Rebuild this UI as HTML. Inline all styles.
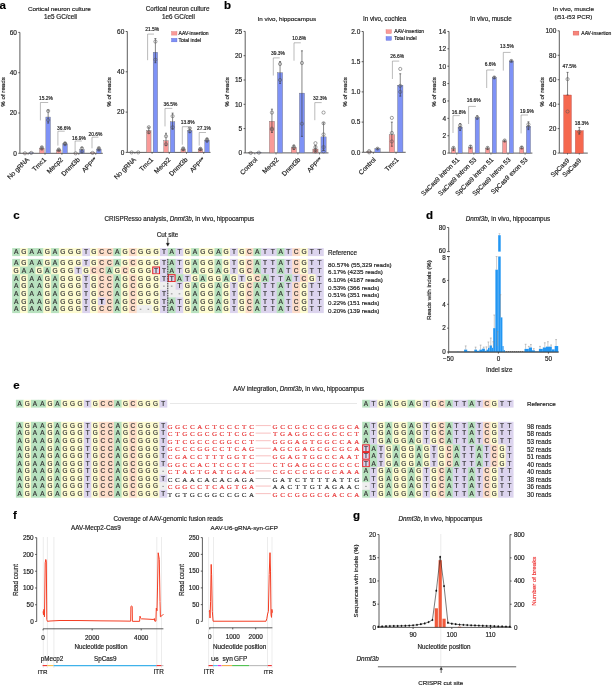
<!DOCTYPE html>
<html><head><meta charset="utf-8"><style>
html,body{margin:0;padding:0;background:#fff;}
body{width:612px;height:685px;overflow:hidden;}
svg{display:block;will-change:transform;font-family:"Liberation Sans", sans-serif;}
</style></head><body>
<svg width="612" height="685" viewBox="0 0 612 685" font-family='"Liberation Sans", sans-serif' fill="#222">
<text x="-0.50" y="9.00" font-size="11.50" fill="#000" font-weight="bold" stroke="#000" stroke-width="0.18">a</text>
<line x1="19.90" y1="32.40" x2="19.90" y2="153.30" stroke="#333" stroke-width="0.8"/>
<line x1="18.30" y1="153.30" x2="19.90" y2="153.30" stroke="#333" stroke-width="0.8"/>
<text x="16.90" y="155.64" font-size="6.50" text-anchor="end" stroke="#222" stroke-width="0.18">0</text>
<line x1="18.30" y1="113.00" x2="19.90" y2="113.00" stroke="#333" stroke-width="0.8"/>
<text x="16.90" y="115.34" font-size="6.50" text-anchor="end" stroke="#222" stroke-width="0.18">20</text>
<line x1="18.30" y1="72.70" x2="19.90" y2="72.70" stroke="#333" stroke-width="0.8"/>
<text x="16.90" y="75.04" font-size="6.50" text-anchor="end" stroke="#222" stroke-width="0.18">40</text>
<line x1="18.30" y1="32.40" x2="19.90" y2="32.40" stroke="#333" stroke-width="0.8"/>
<text x="16.90" y="34.74" font-size="6.50" text-anchor="end" stroke="#222" stroke-width="0.18">60</text>
<line x1="19.90" y1="153.30" x2="102.80" y2="153.30" stroke="#333" stroke-width="0.8"/>
<rect x="22.65" y="153.10" width="4.60" height="0.20" fill="#fa9a98" stroke="#666" stroke-width="0.35"/>
<circle cx="24.95" cy="153.30" r="1.60" fill="none" stroke="#555" stroke-width="0.55"/>
<rect x="28.95" y="152.70" width="4.60" height="0.60" fill="#7e92f6" stroke="#666" stroke-width="0.35"/>
<circle cx="31.25" cy="152.90" r="1.60" fill="none" stroke="#555" stroke-width="0.55"/>
<line x1="28.10" y1="153.30" x2="28.10" y2="154.80" stroke="#333" stroke-width="0.6"/>
<text x="29.60" y="160.10" font-size="6.60" text-anchor="end" transform="rotate(-45 29.60 160.10)" stroke="#222" stroke-width="0.18">No gRNA</text>
<rect x="39.55" y="148.26" width="4.60" height="5.04" fill="#fa9a98" stroke="#666" stroke-width="0.35"/>
<line x1="41.85" y1="149.27" x2="41.85" y2="146.85" stroke="#333" stroke-width="0.6"/>
<line x1="40.85" y1="146.85" x2="42.85" y2="146.85" stroke="#333" stroke-width="0.6"/>
<line x1="40.85" y1="149.27" x2="42.85" y2="149.27" stroke="#333" stroke-width="0.6"/>
<circle cx="41.85" cy="148.67" r="1.60" fill="none" stroke="#555" stroke-width="0.55"/>
<circle cx="41.85" cy="147.26" r="1.60" fill="none" stroke="#555" stroke-width="0.55"/>
<rect x="45.85" y="117.03" width="4.60" height="36.27" fill="#7e92f6" stroke="#666" stroke-width="0.35"/>
<line x1="48.15" y1="123.08" x2="48.15" y2="109.98" stroke="#333" stroke-width="0.6"/>
<line x1="47.15" y1="109.98" x2="49.15" y2="109.98" stroke="#333" stroke-width="0.6"/>
<line x1="47.15" y1="123.08" x2="49.15" y2="123.08" stroke="#333" stroke-width="0.6"/>
<circle cx="48.15" cy="120.05" r="1.60" fill="none" stroke="#555" stroke-width="0.55"/>
<circle cx="48.15" cy="110.99" r="1.60" fill="none" stroke="#555" stroke-width="0.55"/>
<line x1="45.00" y1="153.30" x2="45.00" y2="154.80" stroke="#333" stroke-width="0.6"/>
<text x="46.50" y="160.10" font-size="6.60" text-anchor="end" transform="rotate(-45 46.50 160.10)" stroke="#222" stroke-width="0.18">Tmc1</text>
<rect x="56.45" y="150.08" width="4.60" height="3.22" fill="#fa9a98" stroke="#666" stroke-width="0.35"/>
<line x1="58.75" y1="150.88" x2="58.75" y2="149.27" stroke="#333" stroke-width="0.6"/>
<line x1="57.75" y1="149.27" x2="59.75" y2="149.27" stroke="#333" stroke-width="0.6"/>
<line x1="57.75" y1="150.88" x2="59.75" y2="150.88" stroke="#333" stroke-width="0.6"/>
<circle cx="58.75" cy="150.28" r="1.60" fill="none" stroke="#555" stroke-width="0.55"/>
<circle cx="58.75" cy="149.47" r="1.60" fill="none" stroke="#555" stroke-width="0.55"/>
<rect x="62.75" y="143.83" width="4.60" height="9.47" fill="#7e92f6" stroke="#666" stroke-width="0.35"/>
<line x1="65.05" y1="144.84" x2="65.05" y2="142.62" stroke="#333" stroke-width="0.6"/>
<line x1="64.05" y1="142.62" x2="66.05" y2="142.62" stroke="#333" stroke-width="0.6"/>
<line x1="64.05" y1="144.84" x2="66.05" y2="144.84" stroke="#333" stroke-width="0.6"/>
<circle cx="65.05" cy="144.23" r="1.60" fill="none" stroke="#555" stroke-width="0.55"/>
<circle cx="65.05" cy="143.23" r="1.60" fill="none" stroke="#555" stroke-width="0.55"/>
<line x1="61.90" y1="153.30" x2="61.90" y2="154.80" stroke="#333" stroke-width="0.6"/>
<text x="63.40" y="160.10" font-size="6.60" text-anchor="end" transform="rotate(-45 63.40 160.10)" stroke="#222" stroke-width="0.18">Mecp2</text>
<rect x="73.35" y="153.10" width="4.60" height="0.20" fill="#fa9a98" stroke="#666" stroke-width="0.35"/>
<circle cx="75.65" cy="153.30" r="1.60" fill="none" stroke="#555" stroke-width="0.55"/>
<rect x="79.65" y="149.67" width="4.60" height="3.63" fill="#7e92f6" stroke="#666" stroke-width="0.35"/>
<line x1="81.95" y1="152.29" x2="81.95" y2="147.26" stroke="#333" stroke-width="0.6"/>
<line x1="80.95" y1="147.26" x2="82.95" y2="147.26" stroke="#333" stroke-width="0.6"/>
<line x1="80.95" y1="152.29" x2="82.95" y2="152.29" stroke="#333" stroke-width="0.6"/>
<circle cx="81.95" cy="151.69" r="1.60" fill="none" stroke="#555" stroke-width="0.55"/>
<circle cx="81.95" cy="148.26" r="1.60" fill="none" stroke="#555" stroke-width="0.55"/>
<line x1="78.80" y1="153.30" x2="78.80" y2="154.80" stroke="#333" stroke-width="0.6"/>
<text x="80.30" y="160.10" font-size="6.60" text-anchor="end" transform="rotate(-45 80.30 160.10)" stroke="#222" stroke-width="0.18">Dnmt3b</text>
<rect x="90.25" y="152.70" width="4.60" height="0.60" fill="#fa9a98" stroke="#666" stroke-width="0.35"/>
<circle cx="92.55" cy="152.90" r="1.60" fill="none" stroke="#555" stroke-width="0.55"/>
<rect x="96.55" y="149.07" width="4.60" height="4.23" fill="#7e92f6" stroke="#666" stroke-width="0.35"/>
<line x1="98.85" y1="150.28" x2="98.85" y2="147.66" stroke="#333" stroke-width="0.6"/>
<line x1="97.85" y1="147.66" x2="99.85" y2="147.66" stroke="#333" stroke-width="0.6"/>
<line x1="97.85" y1="150.28" x2="99.85" y2="150.28" stroke="#333" stroke-width="0.6"/>
<circle cx="98.85" cy="149.67" r="1.60" fill="none" stroke="#555" stroke-width="0.55"/>
<circle cx="98.85" cy="148.06" r="1.60" fill="none" stroke="#555" stroke-width="0.55"/>
<line x1="95.70" y1="153.30" x2="95.70" y2="154.80" stroke="#333" stroke-width="0.6"/>
<text x="97.20" y="160.10" font-size="6.60" text-anchor="end" transform="rotate(-45 97.20 160.10)" stroke="#222" stroke-width="0.18">APP<tspan font-size="3.96" dy="-2.31">sw</tspan></text>
<text x="27.90" y="11.25" font-size="6.25" stroke="#222" stroke-width="0.18">Cortical neuron culture</text>
<text x="44.00" y="19.27" font-size="6.32" stroke="#222" stroke-width="0.18">1e5 GC/cell</text>
<text x="5.30" y="92.00" font-size="6.20" text-anchor="middle" transform="rotate(-90 5.30 92.00)" stroke="#222" stroke-width="0.18">% of reads</text>
<path d="M40.40,120.40 L40.40,102.50 L48.20,102.50" stroke="#777" stroke-width="0.5" fill="none"/>
<text x="46.00" y="99.76" font-size="4.90" text-anchor="middle" stroke="#222" stroke-width="0.18">15.2%</text>
<path d="M57.90,145.60 L57.90,131.20 L64.70,131.20" stroke="#777" stroke-width="0.5" fill="none"/>
<text x="64.00" y="129.96" font-size="4.90" text-anchor="middle" stroke="#222" stroke-width="0.18">36.6%</text>
<path d="M75.10,152.00 L75.10,141.00 L81.80,141.00" stroke="#777" stroke-width="0.5" fill="none"/>
<text x="79.00" y="139.76" font-size="4.90" text-anchor="middle" stroke="#222" stroke-width="0.18">16.9%</text>
<path d="M92.00,148.30 L92.00,137.20 L98.50,137.20" stroke="#777" stroke-width="0.5" fill="none"/>
<text x="95.50" y="135.76" font-size="4.90" text-anchor="middle" stroke="#222" stroke-width="0.18">20.6%</text>
<line x1="127.30" y1="31.50" x2="127.30" y2="152.40" stroke="#333" stroke-width="0.8"/>
<line x1="125.70" y1="152.40" x2="127.30" y2="152.40" stroke="#333" stroke-width="0.8"/>
<text x="124.30" y="154.74" font-size="6.50" text-anchor="end" stroke="#222" stroke-width="0.18">0</text>
<line x1="125.70" y1="112.10" x2="127.30" y2="112.10" stroke="#333" stroke-width="0.8"/>
<text x="124.30" y="114.44" font-size="6.50" text-anchor="end" stroke="#222" stroke-width="0.18">20</text>
<line x1="125.70" y1="71.80" x2="127.30" y2="71.80" stroke="#333" stroke-width="0.8"/>
<text x="124.30" y="74.14" font-size="6.50" text-anchor="end" stroke="#222" stroke-width="0.18">40</text>
<line x1="125.70" y1="31.50" x2="127.30" y2="31.50" stroke="#333" stroke-width="0.8"/>
<text x="124.30" y="33.84" font-size="6.50" text-anchor="end" stroke="#222" stroke-width="0.18">60</text>
<line x1="127.30" y1="152.40" x2="210.50" y2="152.40" stroke="#333" stroke-width="0.8"/>
<rect x="129.35" y="152.40" width="4.50" height="0.00" fill="#fa9a98" stroke="#666" stroke-width="0.35"/>
<circle cx="131.60" cy="152.40" r="1.60" fill="none" stroke="#555" stroke-width="0.55"/>
<rect x="135.95" y="152.40" width="4.50" height="0.00" fill="#7e92f6" stroke="#666" stroke-width="0.35"/>
<circle cx="138.20" cy="152.40" r="1.60" fill="none" stroke="#555" stroke-width="0.55"/>
<line x1="134.90" y1="152.40" x2="134.90" y2="153.90" stroke="#333" stroke-width="0.6"/>
<text x="136.40" y="160.10" font-size="6.60" text-anchor="end" transform="rotate(-45 136.40 160.10)" stroke="#222" stroke-width="0.18">No gRNA</text>
<rect x="146.55" y="130.64" width="4.50" height="21.76" fill="#fa9a98" stroke="#666" stroke-width="0.35"/>
<line x1="148.80" y1="133.26" x2="148.80" y2="127.21" stroke="#333" stroke-width="0.6"/>
<line x1="147.80" y1="127.21" x2="149.80" y2="127.21" stroke="#333" stroke-width="0.6"/>
<line x1="147.80" y1="133.26" x2="149.80" y2="133.26" stroke="#333" stroke-width="0.6"/>
<circle cx="148.80" cy="132.25" r="1.60" fill="none" stroke="#555" stroke-width="0.55"/>
<circle cx="148.80" cy="127.21" r="1.60" fill="none" stroke="#555" stroke-width="0.55"/>
<rect x="153.15" y="52.25" width="4.50" height="100.15" fill="#7e92f6" stroke="#666" stroke-width="0.35"/>
<line x1="155.40" y1="62.73" x2="155.40" y2="38.55" stroke="#333" stroke-width="0.6"/>
<line x1="154.40" y1="38.55" x2="156.40" y2="38.55" stroke="#333" stroke-width="0.6"/>
<line x1="154.40" y1="62.73" x2="156.40" y2="62.73" stroke="#333" stroke-width="0.6"/>
<circle cx="155.40" cy="59.71" r="1.60" fill="none" stroke="#555" stroke-width="0.55"/>
<circle cx="155.40" cy="41.58" r="1.60" fill="none" stroke="#555" stroke-width="0.55"/>
<line x1="152.10" y1="152.40" x2="152.10" y2="153.90" stroke="#333" stroke-width="0.6"/>
<text x="153.60" y="160.10" font-size="6.60" text-anchor="end" transform="rotate(-45 153.60 160.10)" stroke="#222" stroke-width="0.18">Tmc1</text>
<rect x="163.75" y="140.71" width="4.50" height="11.69" fill="#fa9a98" stroke="#666" stroke-width="0.35"/>
<line x1="166.00" y1="145.35" x2="166.00" y2="133.26" stroke="#333" stroke-width="0.6"/>
<line x1="165.00" y1="133.26" x2="167.00" y2="133.26" stroke="#333" stroke-width="0.6"/>
<line x1="165.00" y1="145.35" x2="167.00" y2="145.35" stroke="#333" stroke-width="0.6"/>
<circle cx="166.00" cy="144.34" r="1.60" fill="none" stroke="#555" stroke-width="0.55"/>
<circle cx="166.00" cy="136.28" r="1.60" fill="none" stroke="#555" stroke-width="0.55"/>
<rect x="170.35" y="121.77" width="4.50" height="30.63" fill="#7e92f6" stroke="#666" stroke-width="0.35"/>
<line x1="172.60" y1="129.23" x2="172.60" y2="113.11" stroke="#333" stroke-width="0.6"/>
<line x1="171.60" y1="113.11" x2="173.60" y2="113.11" stroke="#333" stroke-width="0.6"/>
<line x1="171.60" y1="129.23" x2="173.60" y2="129.23" stroke="#333" stroke-width="0.6"/>
<circle cx="172.60" cy="127.21" r="1.60" fill="none" stroke="#555" stroke-width="0.55"/>
<circle cx="172.60" cy="116.13" r="1.60" fill="none" stroke="#555" stroke-width="0.55"/>
<line x1="169.30" y1="152.40" x2="169.30" y2="153.90" stroke="#333" stroke-width="0.6"/>
<text x="170.80" y="160.10" font-size="6.60" text-anchor="end" transform="rotate(-45 170.80 160.10)" stroke="#222" stroke-width="0.18">Mecp2</text>
<rect x="180.95" y="149.18" width="4.50" height="3.22" fill="#fa9a98" stroke="#666" stroke-width="0.35"/>
<line x1="183.20" y1="150.39" x2="183.20" y2="147.97" stroke="#333" stroke-width="0.6"/>
<line x1="182.20" y1="147.97" x2="184.20" y2="147.97" stroke="#333" stroke-width="0.6"/>
<line x1="182.20" y1="150.39" x2="184.20" y2="150.39" stroke="#333" stroke-width="0.6"/>
<circle cx="183.20" cy="149.38" r="1.60" fill="none" stroke="#555" stroke-width="0.55"/>
<circle cx="183.20" cy="148.37" r="1.60" fill="none" stroke="#555" stroke-width="0.55"/>
<rect x="187.55" y="130.64" width="4.50" height="21.76" fill="#7e92f6" stroke="#666" stroke-width="0.35"/>
<line x1="189.80" y1="132.65" x2="189.80" y2="127.82" stroke="#333" stroke-width="0.6"/>
<line x1="188.80" y1="127.82" x2="190.80" y2="127.82" stroke="#333" stroke-width="0.6"/>
<line x1="188.80" y1="132.65" x2="190.80" y2="132.65" stroke="#333" stroke-width="0.6"/>
<circle cx="189.80" cy="131.24" r="1.60" fill="none" stroke="#555" stroke-width="0.55"/>
<circle cx="189.80" cy="128.22" r="1.60" fill="none" stroke="#555" stroke-width="0.55"/>
<line x1="186.50" y1="152.40" x2="186.50" y2="153.90" stroke="#333" stroke-width="0.6"/>
<text x="188.00" y="160.10" font-size="6.60" text-anchor="end" transform="rotate(-45 188.00 160.10)" stroke="#222" stroke-width="0.18">Dnmt3b</text>
<rect x="198.15" y="149.38" width="4.50" height="3.02" fill="#fa9a98" stroke="#666" stroke-width="0.35"/>
<line x1="200.40" y1="150.39" x2="200.40" y2="148.37" stroke="#333" stroke-width="0.6"/>
<line x1="199.40" y1="148.37" x2="201.40" y2="148.37" stroke="#333" stroke-width="0.6"/>
<line x1="199.40" y1="150.39" x2="201.40" y2="150.39" stroke="#333" stroke-width="0.6"/>
<circle cx="200.40" cy="149.38" r="1.60" fill="none" stroke="#555" stroke-width="0.55"/>
<circle cx="200.40" cy="148.77" r="1.60" fill="none" stroke="#555" stroke-width="0.55"/>
<rect x="204.75" y="140.11" width="4.50" height="12.29" fill="#7e92f6" stroke="#666" stroke-width="0.35"/>
<line x1="207.00" y1="141.92" x2="207.00" y2="138.30" stroke="#333" stroke-width="0.6"/>
<line x1="206.00" y1="138.30" x2="208.00" y2="138.30" stroke="#333" stroke-width="0.6"/>
<line x1="206.00" y1="141.92" x2="208.00" y2="141.92" stroke="#333" stroke-width="0.6"/>
<circle cx="207.00" cy="140.71" r="1.60" fill="none" stroke="#555" stroke-width="0.55"/>
<circle cx="207.00" cy="139.30" r="1.60" fill="none" stroke="#555" stroke-width="0.55"/>
<line x1="203.70" y1="152.40" x2="203.70" y2="153.90" stroke="#333" stroke-width="0.6"/>
<text x="205.20" y="160.10" font-size="6.60" text-anchor="end" transform="rotate(-45 205.20 160.10)" stroke="#222" stroke-width="0.18">APP<tspan font-size="3.96" dy="-2.31">sw</tspan></text>
<text x="145.80" y="11.28" font-size="6.34" stroke="#222" stroke-width="0.18">Cortical neuron culture</text>
<text x="162.00" y="19.27" font-size="6.30" stroke="#222" stroke-width="0.18">1e6 GC/cell</text>
<text x="110.50" y="92.00" font-size="6.20" text-anchor="middle" transform="rotate(-90 110.50 92.00)" stroke="#222" stroke-width="0.18">% of reads</text>
<path d="M147.60,60.20 L147.60,34.10 L154.00,34.10" stroke="#777" stroke-width="0.5" fill="none"/>
<text x="152.20" y="31.06" font-size="4.90" text-anchor="middle" stroke="#222" stroke-width="0.18">21.5%</text>
<path d="M165.00,126.40 L165.00,108.40 L172.30,108.40" stroke="#777" stroke-width="0.5" fill="none"/>
<text x="170.50" y="105.66" font-size="4.90" text-anchor="middle" stroke="#222" stroke-width="0.18">36.5%</text>
<path d="M182.30,144.70 L182.30,126.70 L189.00,126.70" stroke="#777" stroke-width="0.5" fill="none"/>
<text x="187.70" y="123.96" font-size="4.90" text-anchor="middle" stroke="#222" stroke-width="0.18">13.8%</text>
<path d="M199.20,145.60 L199.20,132.50 L206.00,132.50" stroke="#777" stroke-width="0.5" fill="none"/>
<text x="204.00" y="129.96" font-size="4.90" text-anchor="middle" stroke="#222" stroke-width="0.18">27.1%</text>
<rect x="171.50" y="31.50" width="5.50" height="3.60" fill="#fa9a98" stroke="#c66" stroke-width="0.3"/>
<rect x="171.50" y="38.30" width="5.50" height="3.60" fill="#7e92f6" stroke="#55c" stroke-width="0.3"/>
<text x="178.60" y="35.10" font-size="5.00" stroke="#222" stroke-width="0.18">AAV-insertion</text>
<text x="178.60" y="41.90" font-size="5.00" stroke="#222" stroke-width="0.18">Total indel</text>
<text x="223.90" y="8.80" font-size="11.50" fill="#000" font-weight="bold" stroke="#000" stroke-width="0.18">b</text>
<line x1="245.20" y1="31.40" x2="245.20" y2="152.90" stroke="#333" stroke-width="0.8"/>
<line x1="243.60" y1="152.90" x2="245.20" y2="152.90" stroke="#333" stroke-width="0.8"/>
<text x="242.20" y="155.24" font-size="6.50" text-anchor="end" stroke="#222" stroke-width="0.18">0</text>
<line x1="243.60" y1="128.60" x2="245.20" y2="128.60" stroke="#333" stroke-width="0.8"/>
<text x="242.20" y="130.94" font-size="6.50" text-anchor="end" stroke="#222" stroke-width="0.18">5</text>
<line x1="243.60" y1="104.30" x2="245.20" y2="104.30" stroke="#333" stroke-width="0.8"/>
<text x="242.20" y="106.64" font-size="6.50" text-anchor="end" stroke="#222" stroke-width="0.18">10</text>
<line x1="243.60" y1="80.00" x2="245.20" y2="80.00" stroke="#333" stroke-width="0.8"/>
<text x="242.20" y="82.34" font-size="6.50" text-anchor="end" stroke="#222" stroke-width="0.18">15</text>
<line x1="243.60" y1="55.70" x2="245.20" y2="55.70" stroke="#333" stroke-width="0.8"/>
<text x="242.20" y="58.04" font-size="6.50" text-anchor="end" stroke="#222" stroke-width="0.18">20</text>
<line x1="243.60" y1="31.40" x2="245.20" y2="31.40" stroke="#333" stroke-width="0.8"/>
<text x="242.20" y="33.74" font-size="6.50" text-anchor="end" stroke="#222" stroke-width="0.18">25</text>
<line x1="245.20" y1="152.90" x2="328.50" y2="152.90" stroke="#333" stroke-width="0.8"/>
<rect x="248.15" y="152.66" width="5.20" height="0.24" fill="#fa9a98" stroke="#666" stroke-width="0.35"/>
<circle cx="250.75" cy="152.90" r="1.60" fill="none" stroke="#555" stroke-width="0.55"/>
<rect x="256.25" y="152.41" width="5.20" height="0.49" fill="#7e92f6" stroke="#666" stroke-width="0.35"/>
<circle cx="258.85" cy="152.66" r="1.60" fill="none" stroke="#555" stroke-width="0.55"/>
<line x1="254.80" y1="152.90" x2="254.80" y2="154.40" stroke="#333" stroke-width="0.6"/>
<text x="257.80" y="160.10" font-size="6.60" text-anchor="end" transform="rotate(-45 257.80 160.10)" stroke="#222" stroke-width="0.18">Control</text>
<rect x="269.35" y="121.31" width="5.20" height="31.59" fill="#fa9a98" stroke="#666" stroke-width="0.35"/>
<line x1="271.95" y1="132.49" x2="271.95" y2="109.16" stroke="#333" stroke-width="0.6"/>
<line x1="270.95" y1="109.16" x2="272.95" y2="109.16" stroke="#333" stroke-width="0.6"/>
<line x1="270.95" y1="132.49" x2="272.95" y2="132.49" stroke="#333" stroke-width="0.6"/>
<circle cx="271.95" cy="128.60" r="1.60" fill="none" stroke="#555" stroke-width="0.55"/>
<circle cx="271.95" cy="112.56" r="1.60" fill="none" stroke="#555" stroke-width="0.55"/>
<circle cx="271.95" cy="129.57" r="1.60" fill="none" stroke="#555" stroke-width="0.55"/>
<rect x="277.45" y="72.71" width="5.20" height="80.19" fill="#7e92f6" stroke="#666" stroke-width="0.35"/>
<line x1="280.05" y1="83.40" x2="280.05" y2="61.53" stroke="#333" stroke-width="0.6"/>
<line x1="279.05" y1="61.53" x2="281.05" y2="61.53" stroke="#333" stroke-width="0.6"/>
<line x1="279.05" y1="83.40" x2="281.05" y2="83.40" stroke="#333" stroke-width="0.6"/>
<circle cx="280.05" cy="80.00" r="1.60" fill="none" stroke="#555" stroke-width="0.55"/>
<circle cx="280.05" cy="63.96" r="1.60" fill="none" stroke="#555" stroke-width="0.55"/>
<line x1="276.00" y1="152.90" x2="276.00" y2="154.40" stroke="#333" stroke-width="0.6"/>
<text x="279.00" y="160.10" font-size="6.60" text-anchor="end" transform="rotate(-45 279.00 160.10)" stroke="#222" stroke-width="0.18">Mecp2</text>
<rect x="291.25" y="147.55" width="5.20" height="5.35" fill="#fa9a98" stroke="#666" stroke-width="0.35"/>
<line x1="293.85" y1="149.50" x2="293.85" y2="145.12" stroke="#333" stroke-width="0.6"/>
<line x1="292.85" y1="145.12" x2="294.85" y2="145.12" stroke="#333" stroke-width="0.6"/>
<line x1="292.85" y1="149.50" x2="294.85" y2="149.50" stroke="#333" stroke-width="0.6"/>
<circle cx="293.85" cy="148.04" r="1.60" fill="none" stroke="#555" stroke-width="0.55"/>
<circle cx="293.85" cy="146.58" r="1.60" fill="none" stroke="#555" stroke-width="0.55"/>
<rect x="299.35" y="93.12" width="5.20" height="59.78" fill="#7e92f6" stroke="#666" stroke-width="0.35"/>
<line x1="301.95" y1="136.38" x2="301.95" y2="50.84" stroke="#333" stroke-width="0.6"/>
<line x1="300.95" y1="50.84" x2="302.95" y2="50.84" stroke="#333" stroke-width="0.6"/>
<line x1="300.95" y1="136.38" x2="302.95" y2="136.38" stroke="#333" stroke-width="0.6"/>
<circle cx="301.95" cy="123.74" r="1.60" fill="none" stroke="#555" stroke-width="0.55"/>
<circle cx="301.95" cy="62.99" r="1.60" fill="none" stroke="#555" stroke-width="0.55"/>
<line x1="297.90" y1="152.90" x2="297.90" y2="154.40" stroke="#333" stroke-width="0.6"/>
<text x="300.90" y="160.10" font-size="6.60" text-anchor="end" transform="rotate(-45 300.90 160.10)" stroke="#222" stroke-width="0.18">Dnmt3b</text>
<rect x="312.85" y="149.01" width="5.20" height="3.89" fill="#fa9a98" stroke="#666" stroke-width="0.35"/>
<line x1="315.45" y1="151.93" x2="315.45" y2="145.61" stroke="#333" stroke-width="0.6"/>
<line x1="314.45" y1="145.61" x2="316.45" y2="145.61" stroke="#333" stroke-width="0.6"/>
<line x1="314.45" y1="151.93" x2="316.45" y2="151.93" stroke="#333" stroke-width="0.6"/>
<circle cx="315.45" cy="151.44" r="1.60" fill="none" stroke="#555" stroke-width="0.55"/>
<circle cx="315.45" cy="147.07" r="1.60" fill="none" stroke="#555" stroke-width="0.55"/>
<circle cx="315.45" cy="143.18" r="1.60" fill="none" stroke="#555" stroke-width="0.55"/>
<circle cx="315.45" cy="149.98" r="1.60" fill="none" stroke="#555" stroke-width="0.55"/>
<rect x="320.95" y="136.86" width="5.20" height="16.04" fill="#7e92f6" stroke="#666" stroke-width="0.35"/>
<line x1="323.55" y1="150.47" x2="323.55" y2="122.77" stroke="#333" stroke-width="0.6"/>
<line x1="322.55" y1="122.77" x2="324.55" y2="122.77" stroke="#333" stroke-width="0.6"/>
<line x1="322.55" y1="150.47" x2="324.55" y2="150.47" stroke="#333" stroke-width="0.6"/>
<circle cx="323.55" cy="112.56" r="1.60" fill="none" stroke="#555" stroke-width="0.55"/>
<circle cx="323.55" cy="123.25" r="1.60" fill="none" stroke="#555" stroke-width="0.55"/>
<circle cx="323.55" cy="134.43" r="1.60" fill="none" stroke="#555" stroke-width="0.55"/>
<circle cx="323.55" cy="147.07" r="1.60" fill="none" stroke="#555" stroke-width="0.55"/>
<circle cx="323.55" cy="151.44" r="1.60" fill="none" stroke="#555" stroke-width="0.55"/>
<line x1="319.50" y1="152.90" x2="319.50" y2="154.40" stroke="#333" stroke-width="0.6"/>
<text x="322.50" y="160.10" font-size="6.60" text-anchor="end" transform="rotate(-45 322.50 160.10)" stroke="#222" stroke-width="0.18">APP<tspan font-size="3.96" dy="-2.31">sw</tspan></text>
<text x="257.60" y="21.14" font-size="6.22" stroke="#222" stroke-width="0.18">In vivo, hippocampus</text>
<text x="228.80" y="92.00" font-size="6.20" text-anchor="middle" transform="rotate(-90 228.80 92.00)" stroke="#222" stroke-width="0.18">% of reads</text>
<path d="M273.30,75.50 L273.30,57.90 L279.70,57.90" stroke="#777" stroke-width="0.5" fill="none"/>
<text x="278.00" y="55.36" font-size="4.90" text-anchor="middle" stroke="#222" stroke-width="0.18">39.3%</text>
<path d="M294.00,60.70 L294.00,42.80 L300.80,42.80" stroke="#777" stroke-width="0.5" fill="none"/>
<text x="299.20" y="40.06" font-size="4.90" text-anchor="middle" stroke="#222" stroke-width="0.18">10.8%</text>
<path d="M314.80,120.20 L314.80,102.60 L321.70,102.60" stroke="#777" stroke-width="0.5" fill="none"/>
<text x="320.00" y="99.86" font-size="4.90" text-anchor="middle" stroke="#222" stroke-width="0.18">32.3%</text>
<line x1="363.30" y1="31.50" x2="363.30" y2="152.30" stroke="#333" stroke-width="0.8"/>
<line x1="361.70" y1="152.30" x2="363.30" y2="152.30" stroke="#333" stroke-width="0.8"/>
<text x="360.30" y="154.64" font-size="6.50" text-anchor="end" stroke="#222" stroke-width="0.18">0.0</text>
<line x1="361.70" y1="122.10" x2="363.30" y2="122.10" stroke="#333" stroke-width="0.8"/>
<text x="360.30" y="124.44" font-size="6.50" text-anchor="end" stroke="#222" stroke-width="0.18">0.5</text>
<line x1="361.70" y1="91.90" x2="363.30" y2="91.90" stroke="#333" stroke-width="0.8"/>
<text x="360.30" y="94.24" font-size="6.50" text-anchor="end" stroke="#222" stroke-width="0.18">1.0</text>
<line x1="361.70" y1="61.70" x2="363.30" y2="61.70" stroke="#333" stroke-width="0.8"/>
<text x="360.30" y="64.04" font-size="6.50" text-anchor="end" stroke="#222" stroke-width="0.18">1.5</text>
<line x1="361.70" y1="31.50" x2="363.30" y2="31.50" stroke="#333" stroke-width="0.8"/>
<text x="360.30" y="33.84" font-size="6.50" text-anchor="end" stroke="#222" stroke-width="0.18">2.0</text>
<line x1="363.30" y1="152.30" x2="405.70" y2="152.30" stroke="#333" stroke-width="0.8"/>
<rect x="366.45" y="151.70" width="5.40" height="0.60" fill="#fa9a98" stroke="#666" stroke-width="0.35"/>
<circle cx="369.15" cy="152.30" r="1.60" fill="none" stroke="#555" stroke-width="0.55"/>
<circle cx="369.15" cy="151.09" r="1.60" fill="none" stroke="#555" stroke-width="0.55"/>
<rect x="374.85" y="148.68" width="5.40" height="3.62" fill="#7e92f6" stroke="#666" stroke-width="0.35"/>
<line x1="377.55" y1="149.28" x2="377.55" y2="148.07" stroke="#333" stroke-width="0.6"/>
<line x1="376.55" y1="148.07" x2="378.55" y2="148.07" stroke="#333" stroke-width="0.6"/>
<line x1="376.55" y1="149.28" x2="378.55" y2="149.28" stroke="#333" stroke-width="0.6"/>
<circle cx="377.55" cy="148.68" r="1.60" fill="none" stroke="#555" stroke-width="0.55"/>
<line x1="373.35" y1="152.30" x2="373.35" y2="153.80" stroke="#333" stroke-width="0.6"/>
<text x="376.35" y="160.10" font-size="6.60" text-anchor="end" transform="rotate(-45 376.35 160.10)" stroke="#222" stroke-width="0.18">Control</text>
<rect x="389.15" y="134.78" width="5.40" height="17.52" fill="#fa9a98" stroke="#666" stroke-width="0.35"/>
<line x1="391.85" y1="146.26" x2="391.85" y2="122.10" stroke="#333" stroke-width="0.6"/>
<line x1="390.85" y1="122.10" x2="392.85" y2="122.10" stroke="#333" stroke-width="0.6"/>
<line x1="390.85" y1="146.26" x2="392.85" y2="146.26" stroke="#333" stroke-width="0.6"/>
<circle cx="391.85" cy="141.43" r="1.60" fill="none" stroke="#555" stroke-width="0.55"/>
<circle cx="391.85" cy="132.97" r="1.60" fill="none" stroke="#555" stroke-width="0.55"/>
<circle cx="391.85" cy="117.87" r="1.60" fill="none" stroke="#555" stroke-width="0.55"/>
<rect x="397.55" y="85.26" width="5.40" height="67.04" fill="#7e92f6" stroke="#666" stroke-width="0.35"/>
<line x1="400.25" y1="96.13" x2="400.25" y2="73.78" stroke="#333" stroke-width="0.6"/>
<line x1="399.25" y1="73.78" x2="401.25" y2="73.78" stroke="#333" stroke-width="0.6"/>
<line x1="399.25" y1="96.13" x2="401.25" y2="96.13" stroke="#333" stroke-width="0.6"/>
<circle cx="400.25" cy="91.90" r="1.60" fill="none" stroke="#555" stroke-width="0.55"/>
<circle cx="400.25" cy="85.86" r="1.60" fill="none" stroke="#555" stroke-width="0.55"/>
<circle cx="400.25" cy="68.95" r="1.60" fill="none" stroke="#555" stroke-width="0.55"/>
<line x1="396.05" y1="152.30" x2="396.05" y2="153.80" stroke="#333" stroke-width="0.6"/>
<text x="399.05" y="160.10" font-size="6.60" text-anchor="end" transform="rotate(-45 399.05 160.10)" stroke="#222" stroke-width="0.18">Tmc1</text>
<text x="362.90" y="21.17" font-size="6.31" stroke="#222" stroke-width="0.18">In vivo, cochlea</text>
<text x="346.60" y="92.00" font-size="6.20" text-anchor="middle" transform="rotate(-90 346.60 92.00)" stroke="#222" stroke-width="0.18">% of reads</text>
<path d="M392.4,79.0 L392.4,61.1 L399.2,61.1" stroke="#777" stroke-width="0.5" fill="none"/>
<text x="397.20" y="58.36" font-size="4.90" text-anchor="middle" stroke="#222" stroke-width="0.18">26.6%</text>
<rect x="386.00" y="29.70" width="5.50" height="3.90" fill="#fa9a98" stroke="#c66" stroke-width="0.3"/>
<rect x="386.00" y="36.50" width="5.50" height="3.90" fill="#7e92f6" stroke="#55c" stroke-width="0.3"/>
<text x="394.20" y="33.45" font-size="5.00" stroke="#222" stroke-width="0.18">AAV-insertion</text>
<text x="394.20" y="40.25" font-size="5.00" stroke="#222" stroke-width="0.18">Total indel</text>
<line x1="449.00" y1="31.44" x2="449.00" y2="153.10" stroke="#333" stroke-width="0.8"/>
<line x1="447.40" y1="153.10" x2="449.00" y2="153.10" stroke="#333" stroke-width="0.8"/>
<text x="446.00" y="155.44" font-size="6.50" text-anchor="end" stroke="#222" stroke-width="0.18">0</text>
<line x1="447.40" y1="135.72" x2="449.00" y2="135.72" stroke="#333" stroke-width="0.8"/>
<text x="446.00" y="138.06" font-size="6.50" text-anchor="end" stroke="#222" stroke-width="0.18">2</text>
<line x1="447.40" y1="118.34" x2="449.00" y2="118.34" stroke="#333" stroke-width="0.8"/>
<text x="446.00" y="120.68" font-size="6.50" text-anchor="end" stroke="#222" stroke-width="0.18">4</text>
<line x1="447.40" y1="100.96" x2="449.00" y2="100.96" stroke="#333" stroke-width="0.8"/>
<text x="446.00" y="103.30" font-size="6.50" text-anchor="end" stroke="#222" stroke-width="0.18">6</text>
<line x1="447.40" y1="83.58" x2="449.00" y2="83.58" stroke="#333" stroke-width="0.8"/>
<text x="446.00" y="85.92" font-size="6.50" text-anchor="end" stroke="#222" stroke-width="0.18">8</text>
<line x1="447.40" y1="66.20" x2="449.00" y2="66.20" stroke="#333" stroke-width="0.8"/>
<text x="446.00" y="68.54" font-size="6.50" text-anchor="end" stroke="#222" stroke-width="0.18">10</text>
<line x1="447.40" y1="48.82" x2="449.00" y2="48.82" stroke="#333" stroke-width="0.8"/>
<text x="446.00" y="51.16" font-size="6.50" text-anchor="end" stroke="#222" stroke-width="0.18">12</text>
<line x1="447.40" y1="31.44" x2="449.00" y2="31.44" stroke="#333" stroke-width="0.8"/>
<text x="446.00" y="33.78" font-size="6.50" text-anchor="end" stroke="#222" stroke-width="0.18">14</text>
<line x1="449.00" y1="153.10" x2="532.40" y2="153.10" stroke="#333" stroke-width="0.8"/>
<rect x="451.35" y="148.75" width="4.20" height="4.34" fill="#fa9a98" stroke="#666" stroke-width="0.35"/>
<line x1="453.45" y1="150.49" x2="453.45" y2="147.02" stroke="#333" stroke-width="0.6"/>
<line x1="452.45" y1="147.02" x2="454.45" y2="147.02" stroke="#333" stroke-width="0.6"/>
<line x1="452.45" y1="150.49" x2="454.45" y2="150.49" stroke="#333" stroke-width="0.6"/>
<circle cx="453.45" cy="147.89" r="1.60" fill="none" stroke="#555" stroke-width="0.55"/>
<rect x="458.05" y="127.03" width="4.20" height="26.07" fill="#7e92f6" stroke="#666" stroke-width="0.35"/>
<line x1="460.15" y1="130.51" x2="460.15" y2="123.55" stroke="#333" stroke-width="0.6"/>
<line x1="459.15" y1="123.55" x2="461.15" y2="123.55" stroke="#333" stroke-width="0.6"/>
<line x1="459.15" y1="130.51" x2="461.15" y2="130.51" stroke="#333" stroke-width="0.6"/>
<circle cx="460.15" cy="127.90" r="1.60" fill="none" stroke="#555" stroke-width="0.55"/>
<circle cx="460.15" cy="125.29" r="1.60" fill="none" stroke="#555" stroke-width="0.55"/>
<line x1="456.80" y1="153.10" x2="456.80" y2="154.60" stroke="#333" stroke-width="0.6"/>
<text x="459.80" y="160.10" font-size="6.60" text-anchor="end" transform="rotate(-45 459.80 160.10)" stroke="#222" stroke-width="0.18">SaCas9 intron 51</text>
<rect x="468.42" y="147.45" width="4.20" height="5.65" fill="#fa9a98" stroke="#666" stroke-width="0.35"/>
<line x1="470.52" y1="148.75" x2="470.52" y2="145.71" stroke="#333" stroke-width="0.6"/>
<line x1="469.52" y1="145.71" x2="471.52" y2="145.71" stroke="#333" stroke-width="0.6"/>
<line x1="469.52" y1="148.75" x2="471.52" y2="148.75" stroke="#333" stroke-width="0.6"/>
<circle cx="470.52" cy="146.58" r="1.60" fill="none" stroke="#555" stroke-width="0.55"/>
<rect x="475.12" y="117.47" width="4.20" height="35.63" fill="#7e92f6" stroke="#666" stroke-width="0.35"/>
<line x1="477.22" y1="119.21" x2="477.22" y2="115.73" stroke="#333" stroke-width="0.6"/>
<line x1="476.22" y1="115.73" x2="478.22" y2="115.73" stroke="#333" stroke-width="0.6"/>
<line x1="476.22" y1="119.21" x2="478.22" y2="119.21" stroke="#333" stroke-width="0.6"/>
<circle cx="477.22" cy="117.47" r="1.60" fill="none" stroke="#555" stroke-width="0.55"/>
<line x1="473.87" y1="153.10" x2="473.87" y2="154.60" stroke="#333" stroke-width="0.6"/>
<text x="476.87" y="160.10" font-size="6.60" text-anchor="end" transform="rotate(-45 476.87 160.10)" stroke="#222" stroke-width="0.18">SaCas9 intron 53</text>
<rect x="485.49" y="148.32" width="4.20" height="4.78" fill="#fa9a98" stroke="#666" stroke-width="0.35"/>
<line x1="487.59" y1="149.62" x2="487.59" y2="147.02" stroke="#333" stroke-width="0.6"/>
<line x1="486.59" y1="147.02" x2="488.59" y2="147.02" stroke="#333" stroke-width="0.6"/>
<line x1="486.59" y1="149.62" x2="488.59" y2="149.62" stroke="#333" stroke-width="0.6"/>
<circle cx="487.59" cy="147.89" r="1.60" fill="none" stroke="#555" stroke-width="0.55"/>
<rect x="492.19" y="77.50" width="4.20" height="75.60" fill="#7e92f6" stroke="#666" stroke-width="0.35"/>
<line x1="494.29" y1="78.37" x2="494.29" y2="76.63" stroke="#333" stroke-width="0.6"/>
<line x1="493.29" y1="76.63" x2="495.29" y2="76.63" stroke="#333" stroke-width="0.6"/>
<line x1="493.29" y1="78.37" x2="495.29" y2="78.37" stroke="#333" stroke-width="0.6"/>
<circle cx="494.29" cy="77.50" r="1.60" fill="none" stroke="#555" stroke-width="0.55"/>
<line x1="490.94" y1="153.10" x2="490.94" y2="154.60" stroke="#333" stroke-width="0.6"/>
<text x="493.94" y="160.10" font-size="6.60" text-anchor="end" transform="rotate(-45 493.94 160.10)" stroke="#222" stroke-width="0.18">SpCas9 intron 51</text>
<rect x="502.56" y="140.93" width="4.20" height="12.17" fill="#fa9a98" stroke="#666" stroke-width="0.35"/>
<line x1="504.66" y1="141.80" x2="504.66" y2="140.06" stroke="#333" stroke-width="0.6"/>
<line x1="503.66" y1="140.06" x2="505.66" y2="140.06" stroke="#333" stroke-width="0.6"/>
<line x1="503.66" y1="141.80" x2="505.66" y2="141.80" stroke="#333" stroke-width="0.6"/>
<circle cx="504.66" cy="140.50" r="1.60" fill="none" stroke="#555" stroke-width="0.55"/>
<rect x="509.26" y="60.99" width="4.20" height="92.11" fill="#7e92f6" stroke="#666" stroke-width="0.35"/>
<line x1="511.36" y1="61.86" x2="511.36" y2="60.12" stroke="#333" stroke-width="0.6"/>
<line x1="510.36" y1="60.12" x2="512.36" y2="60.12" stroke="#333" stroke-width="0.6"/>
<line x1="510.36" y1="61.86" x2="512.36" y2="61.86" stroke="#333" stroke-width="0.6"/>
<circle cx="511.36" cy="60.99" r="1.60" fill="none" stroke="#555" stroke-width="0.55"/>
<line x1="508.01" y1="153.10" x2="508.01" y2="154.60" stroke="#333" stroke-width="0.6"/>
<text x="511.01" y="160.10" font-size="6.60" text-anchor="end" transform="rotate(-45 511.01 160.10)" stroke="#222" stroke-width="0.18">SpCas9 intron 53</text>
<rect x="519.63" y="147.89" width="4.20" height="5.21" fill="#fa9a98" stroke="#666" stroke-width="0.35"/>
<line x1="521.73" y1="148.75" x2="521.73" y2="146.58" stroke="#333" stroke-width="0.6"/>
<line x1="520.73" y1="146.58" x2="522.73" y2="146.58" stroke="#333" stroke-width="0.6"/>
<line x1="520.73" y1="148.75" x2="522.73" y2="148.75" stroke="#333" stroke-width="0.6"/>
<circle cx="521.73" cy="147.45" r="1.60" fill="none" stroke="#555" stroke-width="0.55"/>
<rect x="526.33" y="126.16" width="4.20" height="26.94" fill="#7e92f6" stroke="#666" stroke-width="0.35"/>
<line x1="528.43" y1="129.64" x2="528.43" y2="121.82" stroke="#333" stroke-width="0.6"/>
<line x1="527.43" y1="121.82" x2="529.43" y2="121.82" stroke="#333" stroke-width="0.6"/>
<line x1="527.43" y1="129.64" x2="529.43" y2="129.64" stroke="#333" stroke-width="0.6"/>
<circle cx="528.43" cy="127.03" r="1.60" fill="none" stroke="#555" stroke-width="0.55"/>
<circle cx="528.43" cy="124.42" r="1.60" fill="none" stroke="#555" stroke-width="0.55"/>
<line x1="525.08" y1="153.10" x2="525.08" y2="154.60" stroke="#333" stroke-width="0.6"/>
<text x="528.08" y="160.10" font-size="6.60" text-anchor="end" transform="rotate(-45 528.08 160.10)" stroke="#222" stroke-width="0.18">SpCas9 exon 53</text>
<text x="470.00" y="20.88" font-size="6.32" stroke="#222" stroke-width="0.18">In vivo, muscle</text>
<text x="435.80" y="92.00" font-size="6.20" text-anchor="middle" transform="rotate(-90 435.80 92.00)" stroke="#222" stroke-width="0.18">% of reads</text>
<path d="M453.00,133.00 L453.00,115.60 L459.70,115.60" stroke="#777" stroke-width="0.5" fill="none"/>
<text x="458.80" y="113.76" font-size="4.90" text-anchor="middle" stroke="#222" stroke-width="0.18">16.8%</text>
<path d="M468.60,124.00 L468.60,106.40 L475.80,106.40" stroke="#777" stroke-width="0.5" fill="none"/>
<text x="473.70" y="101.56" font-size="4.90" text-anchor="middle" stroke="#222" stroke-width="0.18">16.6%</text>
<path d="M486.70,88.00 L486.70,70.00 L494.10,70.00" stroke="#777" stroke-width="0.5" fill="none"/>
<text x="490.30" y="65.66" font-size="4.90" text-anchor="middle" stroke="#222" stroke-width="0.18">6.6%</text>
<path d="M503.30,70.60 L503.30,52.40 L510.60,52.40" stroke="#777" stroke-width="0.5" fill="none"/>
<text x="507.00" y="48.26" font-size="4.90" text-anchor="middle" stroke="#222" stroke-width="0.18">13.5%</text>
<path d="M521.10,133.40 L521.10,115.00 L528.00,115.00" stroke="#777" stroke-width="0.5" fill="none"/>
<text x="526.90" y="112.76" font-size="4.90" text-anchor="middle" stroke="#222" stroke-width="0.18">19.9%</text>
<line x1="559.30" y1="30.80" x2="559.30" y2="153.10" stroke="#333" stroke-width="0.8"/>
<line x1="557.70" y1="153.10" x2="559.30" y2="153.10" stroke="#333" stroke-width="0.8"/>
<text x="556.30" y="155.44" font-size="6.50" text-anchor="end" stroke="#222" stroke-width="0.18">0</text>
<line x1="557.70" y1="128.64" x2="559.30" y2="128.64" stroke="#333" stroke-width="0.8"/>
<text x="556.30" y="130.98" font-size="6.50" text-anchor="end" stroke="#222" stroke-width="0.18">20</text>
<line x1="557.70" y1="104.18" x2="559.30" y2="104.18" stroke="#333" stroke-width="0.8"/>
<text x="556.30" y="106.52" font-size="6.50" text-anchor="end" stroke="#222" stroke-width="0.18">40</text>
<line x1="557.70" y1="79.72" x2="559.30" y2="79.72" stroke="#333" stroke-width="0.8"/>
<text x="556.30" y="82.06" font-size="6.50" text-anchor="end" stroke="#222" stroke-width="0.18">60</text>
<line x1="557.70" y1="55.26" x2="559.30" y2="55.26" stroke="#333" stroke-width="0.8"/>
<text x="556.30" y="57.60" font-size="6.50" text-anchor="end" stroke="#222" stroke-width="0.18">80</text>
<line x1="557.70" y1="30.80" x2="559.30" y2="30.80" stroke="#333" stroke-width="0.8"/>
<text x="556.30" y="33.14" font-size="6.50" text-anchor="end" stroke="#222" stroke-width="0.18">100</text>
<line x1="559.30" y1="153.10" x2="587.80" y2="153.10" stroke="#333" stroke-width="0.8"/>
<rect x="563.75" y="95.01" width="7.60" height="58.09" fill="#f5684f" stroke="#a33" stroke-width="0.35"/>
<line x1="567.55" y1="95.01" x2="567.55" y2="72.38" stroke="#333" stroke-width="0.6"/>
<line x1="566.55" y1="72.38" x2="568.55" y2="72.38" stroke="#333" stroke-width="0.6"/>
<line x1="566.55" y1="95.01" x2="568.55" y2="95.01" stroke="#333" stroke-width="0.6"/>
<circle cx="567.55" cy="79.11" r="1.60" fill="none" stroke="#555" stroke-width="0.55"/>
<circle cx="567.55" cy="111.52" r="1.60" fill="none" stroke="#555" stroke-width="0.55"/>
<rect x="575.35" y="130.72" width="7.90" height="22.38" fill="#f5684f" stroke="#a33" stroke-width="0.35"/>
<line x1="579.30" y1="134.14" x2="579.30" y2="127.42" stroke="#333" stroke-width="0.6"/>
<line x1="578.30" y1="127.42" x2="580.30" y2="127.42" stroke="#333" stroke-width="0.6"/>
<line x1="578.30" y1="134.14" x2="580.30" y2="134.14" stroke="#333" stroke-width="0.6"/>
<circle cx="579.30" cy="131.70" r="1.60" fill="none" stroke="#555" stroke-width="0.55"/>
<line x1="567.50" y1="153.10" x2="567.50" y2="154.60" stroke="#333" stroke-width="0.6"/>
<text x="569.90" y="161.00" font-size="6.60" text-anchor="end" transform="rotate(-45 569.90 161.00)" stroke="#222" stroke-width="0.18">SpCas9</text>
<line x1="579.30" y1="153.10" x2="579.30" y2="154.60" stroke="#333" stroke-width="0.6"/>
<text x="581.70" y="161.00" font-size="6.60" text-anchor="end" transform="rotate(-45 581.70 161.00)" stroke="#222" stroke-width="0.18">SaCas9</text>
<text x="552.80" y="11.34" font-size="6.23" stroke="#222" stroke-width="0.18">In vivo, muscle</text>
<text x="554.50" y="19.25" font-size="6.24" stroke="#222" stroke-width="0.18">(i51-i53 PCR)</text>
<text x="543.60" y="92.00" font-size="6.20" text-anchor="middle" transform="rotate(-90 543.60 92.00)" stroke="#222" stroke-width="0.18">% of reads</text>
<text x="569.40" y="68.06" font-size="4.90" text-anchor="middle" stroke="#222" stroke-width="0.18">47.5%</text>
<text x="581.70" y="124.66" font-size="4.90" text-anchor="middle" stroke="#222" stroke-width="0.18">18.3%</text>
<rect x="573.10" y="31.10" width="5.80" height="4.00" fill="#f7857a" stroke="#c44" stroke-width="0.3"/>
<text x="581.30" y="34.90" font-size="5.00" stroke="#222" stroke-width="0.18">AAV-insertion</text>
<text x="13.20" y="219.20" font-size="11.50" fill="#000" font-weight="bold" stroke="#000" stroke-width="0.18">c</text>
<rect x="12.20" y="248.10" width="8.13" height="8.00" fill="#b7e1be"/>
<rect x="19.98" y="248.10" width="8.13" height="8.00" fill="#fdfbd0"/>
<rect x="27.76" y="248.10" width="8.13" height="8.00" fill="#b7e1be"/>
<rect x="35.54" y="248.10" width="8.13" height="8.00" fill="#b7e1be"/>
<rect x="43.32" y="248.10" width="8.13" height="8.00" fill="#fdfbd0"/>
<rect x="51.10" y="248.10" width="8.13" height="8.00" fill="#b7e1be"/>
<rect x="58.88" y="248.10" width="8.13" height="8.00" fill="#fdfbd0"/>
<rect x="66.66" y="248.10" width="8.13" height="8.00" fill="#fdfbd0"/>
<rect x="74.44" y="248.10" width="8.13" height="8.00" fill="#fdfbd0"/>
<rect x="82.22" y="248.10" width="8.13" height="8.00" fill="#dcd4ee"/>
<rect x="90.00" y="248.10" width="8.13" height="8.00" fill="#fdfbd0"/>
<rect x="97.78" y="248.10" width="8.13" height="8.00" fill="#fddcc8"/>
<rect x="105.56" y="248.10" width="8.13" height="8.00" fill="#fddcc8"/>
<rect x="113.34" y="248.10" width="8.13" height="8.00" fill="#b7e1be"/>
<rect x="121.12" y="248.10" width="8.13" height="8.00" fill="#fdfbd0"/>
<rect x="128.90" y="248.10" width="8.13" height="8.00" fill="#fddcc8"/>
<rect x="136.68" y="248.10" width="8.13" height="8.00" fill="#fdfbd0"/>
<rect x="144.46" y="248.10" width="8.13" height="8.00" fill="#fdfbd0"/>
<rect x="152.24" y="248.10" width="8.13" height="8.00" fill="#fdfbd0"/>
<rect x="160.02" y="248.10" width="8.13" height="8.00" fill="#dcd4ee"/>
<rect x="167.80" y="248.10" width="8.13" height="8.00" fill="#b7e1be"/>
<rect x="175.58" y="248.10" width="8.13" height="8.00" fill="#dcd4ee"/>
<rect x="183.36" y="248.10" width="8.13" height="8.00" fill="#fdfbd0"/>
<rect x="191.14" y="248.10" width="8.13" height="8.00" fill="#b7e1be"/>
<rect x="198.92" y="248.10" width="8.13" height="8.00" fill="#fdfbd0"/>
<rect x="206.70" y="248.10" width="8.13" height="8.00" fill="#fdfbd0"/>
<rect x="214.48" y="248.10" width="8.13" height="8.00" fill="#b7e1be"/>
<rect x="222.26" y="248.10" width="8.13" height="8.00" fill="#fdfbd0"/>
<rect x="230.04" y="248.10" width="8.13" height="8.00" fill="#dcd4ee"/>
<rect x="237.82" y="248.10" width="8.13" height="8.00" fill="#fdfbd0"/>
<rect x="245.60" y="248.10" width="8.13" height="8.00" fill="#fddcc8"/>
<rect x="253.38" y="248.10" width="8.13" height="8.00" fill="#b7e1be"/>
<rect x="261.16" y="248.10" width="8.13" height="8.00" fill="#dcd4ee"/>
<rect x="268.94" y="248.10" width="8.13" height="8.00" fill="#dcd4ee"/>
<rect x="276.72" y="248.10" width="8.13" height="8.00" fill="#b7e1be"/>
<rect x="284.50" y="248.10" width="8.13" height="8.00" fill="#dcd4ee"/>
<rect x="292.28" y="248.10" width="8.13" height="8.00" fill="#fddcc8"/>
<rect x="300.06" y="248.10" width="8.13" height="8.00" fill="#fdfbd0"/>
<rect x="307.84" y="248.10" width="8.13" height="8.00" fill="#dcd4ee"/>
<rect x="315.62" y="248.10" width="8.13" height="8.00" fill="#dcd4ee"/>
<text x="16.09" y="254.33" font-size="6.60" text-anchor="middle" fill="#333" stroke="#333" stroke-width="0.18">A</text>
<text x="23.87" y="254.33" font-size="6.60" text-anchor="middle" fill="#333" stroke="#333" stroke-width="0.18">G</text>
<text x="31.65" y="254.33" font-size="6.60" text-anchor="middle" fill="#333" stroke="#333" stroke-width="0.18">A</text>
<text x="39.43" y="254.33" font-size="6.60" text-anchor="middle" fill="#333" stroke="#333" stroke-width="0.18">A</text>
<text x="47.21" y="254.33" font-size="6.60" text-anchor="middle" fill="#333" stroke="#333" stroke-width="0.18">G</text>
<text x="54.99" y="254.33" font-size="6.60" text-anchor="middle" fill="#333" stroke="#333" stroke-width="0.18">A</text>
<text x="62.77" y="254.33" font-size="6.60" text-anchor="middle" fill="#333" stroke="#333" stroke-width="0.18">G</text>
<text x="70.55" y="254.33" font-size="6.60" text-anchor="middle" fill="#333" stroke="#333" stroke-width="0.18">G</text>
<text x="78.33" y="254.33" font-size="6.60" text-anchor="middle" fill="#333" stroke="#333" stroke-width="0.18">G</text>
<text x="86.11" y="254.33" font-size="6.60" text-anchor="middle" fill="#333" stroke="#333" stroke-width="0.18">T</text>
<text x="93.89" y="254.33" font-size="6.60" text-anchor="middle" fill="#333" stroke="#333" stroke-width="0.18">G</text>
<text x="101.67" y="254.33" font-size="6.60" text-anchor="middle" fill="#333" stroke="#333" stroke-width="0.18">C</text>
<text x="109.45" y="254.33" font-size="6.60" text-anchor="middle" fill="#333" stroke="#333" stroke-width="0.18">C</text>
<text x="117.23" y="254.33" font-size="6.60" text-anchor="middle" fill="#333" stroke="#333" stroke-width="0.18">A</text>
<text x="125.01" y="254.33" font-size="6.60" text-anchor="middle" fill="#333" stroke="#333" stroke-width="0.18">G</text>
<text x="132.79" y="254.33" font-size="6.60" text-anchor="middle" fill="#333" stroke="#333" stroke-width="0.18">C</text>
<text x="140.57" y="254.33" font-size="6.60" text-anchor="middle" fill="#333" stroke="#333" stroke-width="0.18">G</text>
<text x="148.35" y="254.33" font-size="6.60" text-anchor="middle" fill="#333" stroke="#333" stroke-width="0.18">G</text>
<text x="156.13" y="254.33" font-size="6.60" text-anchor="middle" fill="#333" stroke="#333" stroke-width="0.18">G</text>
<text x="163.91" y="254.33" font-size="6.60" text-anchor="middle" fill="#333" stroke="#333" stroke-width="0.18">T</text>
<text x="171.69" y="254.33" font-size="6.60" text-anchor="middle" fill="#333" stroke="#333" stroke-width="0.18">A</text>
<text x="179.47" y="254.33" font-size="6.60" text-anchor="middle" fill="#333" stroke="#333" stroke-width="0.18">T</text>
<text x="187.25" y="254.33" font-size="6.60" text-anchor="middle" fill="#333" stroke="#333" stroke-width="0.18">G</text>
<text x="195.03" y="254.33" font-size="6.60" text-anchor="middle" fill="#333" stroke="#333" stroke-width="0.18">A</text>
<text x="202.81" y="254.33" font-size="6.60" text-anchor="middle" fill="#333" stroke="#333" stroke-width="0.18">G</text>
<text x="210.59" y="254.33" font-size="6.60" text-anchor="middle" fill="#333" stroke="#333" stroke-width="0.18">G</text>
<text x="218.37" y="254.33" font-size="6.60" text-anchor="middle" fill="#333" stroke="#333" stroke-width="0.18">A</text>
<text x="226.15" y="254.33" font-size="6.60" text-anchor="middle" fill="#333" stroke="#333" stroke-width="0.18">G</text>
<text x="233.93" y="254.33" font-size="6.60" text-anchor="middle" fill="#333" stroke="#333" stroke-width="0.18">T</text>
<text x="241.71" y="254.33" font-size="6.60" text-anchor="middle" fill="#333" stroke="#333" stroke-width="0.18">G</text>
<text x="249.49" y="254.33" font-size="6.60" text-anchor="middle" fill="#333" stroke="#333" stroke-width="0.18">C</text>
<text x="257.27" y="254.33" font-size="6.60" text-anchor="middle" fill="#333" stroke="#333" stroke-width="0.18">A</text>
<text x="265.05" y="254.33" font-size="6.60" text-anchor="middle" fill="#333" stroke="#333" stroke-width="0.18">T</text>
<text x="272.83" y="254.33" font-size="6.60" text-anchor="middle" fill="#333" stroke="#333" stroke-width="0.18">T</text>
<text x="280.61" y="254.33" font-size="6.60" text-anchor="middle" fill="#333" stroke="#333" stroke-width="0.18">A</text>
<text x="288.39" y="254.33" font-size="6.60" text-anchor="middle" fill="#333" stroke="#333" stroke-width="0.18">T</text>
<text x="296.17" y="254.33" font-size="6.60" text-anchor="middle" fill="#333" stroke="#333" stroke-width="0.18">C</text>
<text x="303.95" y="254.33" font-size="6.60" text-anchor="middle" fill="#333" stroke="#333" stroke-width="0.18">G</text>
<text x="311.73" y="254.33" font-size="6.60" text-anchor="middle" fill="#333" stroke="#333" stroke-width="0.18">T</text>
<text x="319.51" y="254.33" font-size="6.60" text-anchor="middle" fill="#333" stroke="#333" stroke-width="0.18">T</text>
<rect x="12.20" y="258.90" width="8.13" height="8.00" fill="#b7e1be"/>
<rect x="19.98" y="258.90" width="8.13" height="8.00" fill="#fdfbd0"/>
<rect x="27.76" y="258.90" width="8.13" height="8.00" fill="#b7e1be"/>
<rect x="35.54" y="258.90" width="8.13" height="8.00" fill="#b7e1be"/>
<rect x="43.32" y="258.90" width="8.13" height="8.00" fill="#fdfbd0"/>
<rect x="51.10" y="258.90" width="8.13" height="8.00" fill="#b7e1be"/>
<rect x="58.88" y="258.90" width="8.13" height="8.00" fill="#fdfbd0"/>
<rect x="66.66" y="258.90" width="8.13" height="8.00" fill="#fdfbd0"/>
<rect x="74.44" y="258.90" width="8.13" height="8.00" fill="#fdfbd0"/>
<rect x="82.22" y="258.90" width="8.13" height="8.00" fill="#dcd4ee"/>
<rect x="90.00" y="258.90" width="8.13" height="8.00" fill="#fdfbd0"/>
<rect x="97.78" y="258.90" width="8.13" height="8.00" fill="#fddcc8"/>
<rect x="105.56" y="258.90" width="8.13" height="8.00" fill="#fddcc8"/>
<rect x="113.34" y="258.90" width="8.13" height="8.00" fill="#b7e1be"/>
<rect x="121.12" y="258.90" width="8.13" height="8.00" fill="#fdfbd0"/>
<rect x="128.90" y="258.90" width="8.13" height="8.00" fill="#fddcc8"/>
<rect x="136.68" y="258.90" width="8.13" height="8.00" fill="#fdfbd0"/>
<rect x="144.46" y="258.90" width="8.13" height="8.00" fill="#fdfbd0"/>
<rect x="152.24" y="258.90" width="8.13" height="8.00" fill="#fdfbd0"/>
<rect x="160.02" y="258.90" width="8.13" height="8.00" fill="#dcd4ee"/>
<rect x="167.80" y="258.90" width="8.13" height="8.00" fill="#b7e1be"/>
<rect x="175.58" y="258.90" width="8.13" height="8.00" fill="#dcd4ee"/>
<rect x="183.36" y="258.90" width="8.13" height="8.00" fill="#fdfbd0"/>
<rect x="191.14" y="258.90" width="8.13" height="8.00" fill="#b7e1be"/>
<rect x="198.92" y="258.90" width="8.13" height="8.00" fill="#fdfbd0"/>
<rect x="206.70" y="258.90" width="8.13" height="8.00" fill="#fdfbd0"/>
<rect x="214.48" y="258.90" width="8.13" height="8.00" fill="#b7e1be"/>
<rect x="222.26" y="258.90" width="8.13" height="8.00" fill="#fdfbd0"/>
<rect x="230.04" y="258.90" width="8.13" height="8.00" fill="#dcd4ee"/>
<rect x="237.82" y="258.90" width="8.13" height="8.00" fill="#fdfbd0"/>
<rect x="245.60" y="258.90" width="8.13" height="8.00" fill="#fddcc8"/>
<rect x="253.38" y="258.90" width="8.13" height="8.00" fill="#b7e1be"/>
<rect x="261.16" y="258.90" width="8.13" height="8.00" fill="#dcd4ee"/>
<rect x="268.94" y="258.90" width="8.13" height="8.00" fill="#dcd4ee"/>
<rect x="276.72" y="258.90" width="8.13" height="8.00" fill="#b7e1be"/>
<rect x="284.50" y="258.90" width="8.13" height="8.00" fill="#dcd4ee"/>
<rect x="292.28" y="258.90" width="8.13" height="8.00" fill="#fddcc8"/>
<rect x="300.06" y="258.90" width="8.13" height="8.00" fill="#fdfbd0"/>
<rect x="307.84" y="258.90" width="8.13" height="8.00" fill="#dcd4ee"/>
<rect x="315.62" y="258.90" width="8.13" height="8.00" fill="#dcd4ee"/>
<text x="16.09" y="265.13" font-size="6.60" text-anchor="middle" fill="#333" stroke="#333" stroke-width="0.18">A</text>
<text x="23.87" y="265.13" font-size="6.60" text-anchor="middle" fill="#333" stroke="#333" stroke-width="0.18">G</text>
<text x="31.65" y="265.13" font-size="6.60" text-anchor="middle" fill="#333" stroke="#333" stroke-width="0.18">A</text>
<text x="39.43" y="265.13" font-size="6.60" text-anchor="middle" fill="#333" stroke="#333" stroke-width="0.18">A</text>
<text x="47.21" y="265.13" font-size="6.60" text-anchor="middle" fill="#333" stroke="#333" stroke-width="0.18">G</text>
<text x="54.99" y="265.13" font-size="6.60" text-anchor="middle" fill="#333" stroke="#333" stroke-width="0.18">A</text>
<text x="62.77" y="265.13" font-size="6.60" text-anchor="middle" fill="#333" stroke="#333" stroke-width="0.18">G</text>
<text x="70.55" y="265.13" font-size="6.60" text-anchor="middle" fill="#333" stroke="#333" stroke-width="0.18">G</text>
<text x="78.33" y="265.13" font-size="6.60" text-anchor="middle" fill="#333" stroke="#333" stroke-width="0.18">G</text>
<text x="86.11" y="265.13" font-size="6.60" text-anchor="middle" fill="#333" stroke="#333" stroke-width="0.18">T</text>
<text x="93.89" y="265.13" font-size="6.60" text-anchor="middle" fill="#333" stroke="#333" stroke-width="0.18">G</text>
<text x="101.67" y="265.13" font-size="6.60" text-anchor="middle" fill="#333" stroke="#333" stroke-width="0.18">C</text>
<text x="109.45" y="265.13" font-size="6.60" text-anchor="middle" fill="#333" stroke="#333" stroke-width="0.18">C</text>
<text x="117.23" y="265.13" font-size="6.60" text-anchor="middle" fill="#333" stroke="#333" stroke-width="0.18">A</text>
<text x="125.01" y="265.13" font-size="6.60" text-anchor="middle" fill="#333" stroke="#333" stroke-width="0.18">G</text>
<text x="132.79" y="265.13" font-size="6.60" text-anchor="middle" fill="#333" stroke="#333" stroke-width="0.18">C</text>
<text x="140.57" y="265.13" font-size="6.60" text-anchor="middle" fill="#333" stroke="#333" stroke-width="0.18">G</text>
<text x="148.35" y="265.13" font-size="6.60" text-anchor="middle" fill="#333" stroke="#333" stroke-width="0.18">G</text>
<text x="156.13" y="265.13" font-size="6.60" text-anchor="middle" fill="#333" stroke="#333" stroke-width="0.18">G</text>
<text x="163.91" y="265.13" font-size="6.60" text-anchor="middle" fill="#333" stroke="#333" stroke-width="0.18">T</text>
<text x="171.69" y="265.13" font-size="6.60" text-anchor="middle" fill="#333" stroke="#333" stroke-width="0.18">A</text>
<text x="179.47" y="265.13" font-size="6.60" text-anchor="middle" fill="#333" stroke="#333" stroke-width="0.18">T</text>
<text x="187.25" y="265.13" font-size="6.60" text-anchor="middle" fill="#333" stroke="#333" stroke-width="0.18">G</text>
<text x="195.03" y="265.13" font-size="6.60" text-anchor="middle" fill="#333" stroke="#333" stroke-width="0.18">A</text>
<text x="202.81" y="265.13" font-size="6.60" text-anchor="middle" fill="#333" stroke="#333" stroke-width="0.18">G</text>
<text x="210.59" y="265.13" font-size="6.60" text-anchor="middle" fill="#333" stroke="#333" stroke-width="0.18">G</text>
<text x="218.37" y="265.13" font-size="6.60" text-anchor="middle" fill="#333" stroke="#333" stroke-width="0.18">A</text>
<text x="226.15" y="265.13" font-size="6.60" text-anchor="middle" fill="#333" stroke="#333" stroke-width="0.18">G</text>
<text x="233.93" y="265.13" font-size="6.60" text-anchor="middle" fill="#333" stroke="#333" stroke-width="0.18">T</text>
<text x="241.71" y="265.13" font-size="6.60" text-anchor="middle" fill="#333" stroke="#333" stroke-width="0.18">G</text>
<text x="249.49" y="265.13" font-size="6.60" text-anchor="middle" fill="#333" stroke="#333" stroke-width="0.18">C</text>
<text x="257.27" y="265.13" font-size="6.60" text-anchor="middle" fill="#333" stroke="#333" stroke-width="0.18">A</text>
<text x="265.05" y="265.13" font-size="6.60" text-anchor="middle" fill="#333" stroke="#333" stroke-width="0.18">T</text>
<text x="272.83" y="265.13" font-size="6.60" text-anchor="middle" fill="#333" stroke="#333" stroke-width="0.18">T</text>
<text x="280.61" y="265.13" font-size="6.60" text-anchor="middle" fill="#333" stroke="#333" stroke-width="0.18">A</text>
<text x="288.39" y="265.13" font-size="6.60" text-anchor="middle" fill="#333" stroke="#333" stroke-width="0.18">T</text>
<text x="296.17" y="265.13" font-size="6.60" text-anchor="middle" fill="#333" stroke="#333" stroke-width="0.18">C</text>
<text x="303.95" y="265.13" font-size="6.60" text-anchor="middle" fill="#333" stroke="#333" stroke-width="0.18">G</text>
<text x="311.73" y="265.13" font-size="6.60" text-anchor="middle" fill="#333" stroke="#333" stroke-width="0.18">T</text>
<text x="319.51" y="265.13" font-size="6.60" text-anchor="middle" fill="#333" stroke="#333" stroke-width="0.18">T</text>
<rect x="12.20" y="266.60" width="8.13" height="8.00" fill="#fdfbd0"/>
<rect x="19.98" y="266.60" width="8.13" height="8.00" fill="#b7e1be"/>
<rect x="27.76" y="266.60" width="8.13" height="8.00" fill="#b7e1be"/>
<rect x="35.54" y="266.60" width="8.13" height="8.00" fill="#fdfbd0"/>
<rect x="43.32" y="266.60" width="8.13" height="8.00" fill="#b7e1be"/>
<rect x="51.10" y="266.60" width="8.13" height="8.00" fill="#fdfbd0"/>
<rect x="58.88" y="266.60" width="8.13" height="8.00" fill="#fdfbd0"/>
<rect x="66.66" y="266.60" width="8.13" height="8.00" fill="#fdfbd0"/>
<rect x="74.44" y="266.60" width="8.13" height="8.00" fill="#dcd4ee"/>
<rect x="82.22" y="266.60" width="8.13" height="8.00" fill="#fdfbd0"/>
<rect x="90.00" y="266.60" width="8.13" height="8.00" fill="#fddcc8"/>
<rect x="97.78" y="266.60" width="8.13" height="8.00" fill="#fddcc8"/>
<rect x="105.56" y="266.60" width="8.13" height="8.00" fill="#b7e1be"/>
<rect x="113.34" y="266.60" width="8.13" height="8.00" fill="#fdfbd0"/>
<rect x="121.12" y="266.60" width="8.13" height="8.00" fill="#fddcc8"/>
<rect x="128.90" y="266.60" width="8.13" height="8.00" fill="#fdfbd0"/>
<rect x="136.68" y="266.60" width="8.13" height="8.00" fill="#fdfbd0"/>
<rect x="144.46" y="266.60" width="8.13" height="8.00" fill="#fdfbd0"/>
<rect x="152.24" y="266.60" width="8.13" height="8.00" fill="#dcd4ee"/>
<rect x="160.02" y="266.60" width="8.13" height="8.00" fill="#dcd4ee"/>
<rect x="167.80" y="266.60" width="8.13" height="8.00" fill="#b7e1be"/>
<rect x="175.58" y="266.60" width="8.13" height="8.00" fill="#dcd4ee"/>
<rect x="183.36" y="266.60" width="8.13" height="8.00" fill="#fdfbd0"/>
<rect x="191.14" y="266.60" width="8.13" height="8.00" fill="#b7e1be"/>
<rect x="198.92" y="266.60" width="8.13" height="8.00" fill="#fdfbd0"/>
<rect x="206.70" y="266.60" width="8.13" height="8.00" fill="#fdfbd0"/>
<rect x="214.48" y="266.60" width="8.13" height="8.00" fill="#b7e1be"/>
<rect x="222.26" y="266.60" width="8.13" height="8.00" fill="#fdfbd0"/>
<rect x="230.04" y="266.60" width="8.13" height="8.00" fill="#dcd4ee"/>
<rect x="237.82" y="266.60" width="8.13" height="8.00" fill="#fdfbd0"/>
<rect x="245.60" y="266.60" width="8.13" height="8.00" fill="#fddcc8"/>
<rect x="253.38" y="266.60" width="8.13" height="8.00" fill="#b7e1be"/>
<rect x="261.16" y="266.60" width="8.13" height="8.00" fill="#dcd4ee"/>
<rect x="268.94" y="266.60" width="8.13" height="8.00" fill="#dcd4ee"/>
<rect x="276.72" y="266.60" width="8.13" height="8.00" fill="#b7e1be"/>
<rect x="284.50" y="266.60" width="8.13" height="8.00" fill="#dcd4ee"/>
<rect x="292.28" y="266.60" width="8.13" height="8.00" fill="#fddcc8"/>
<rect x="300.06" y="266.60" width="8.13" height="8.00" fill="#fdfbd0"/>
<rect x="307.84" y="266.60" width="8.13" height="8.00" fill="#dcd4ee"/>
<rect x="315.62" y="266.60" width="8.13" height="8.00" fill="#dcd4ee"/>
<text x="16.09" y="272.83" font-size="6.60" text-anchor="middle" fill="#333" stroke="#333" stroke-width="0.18">G</text>
<text x="23.87" y="272.83" font-size="6.60" text-anchor="middle" fill="#333" stroke="#333" stroke-width="0.18">A</text>
<text x="31.65" y="272.83" font-size="6.60" text-anchor="middle" fill="#333" stroke="#333" stroke-width="0.18">A</text>
<text x="39.43" y="272.83" font-size="6.60" text-anchor="middle" fill="#333" stroke="#333" stroke-width="0.18">G</text>
<text x="47.21" y="272.83" font-size="6.60" text-anchor="middle" fill="#333" stroke="#333" stroke-width="0.18">A</text>
<text x="54.99" y="272.83" font-size="6.60" text-anchor="middle" fill="#333" stroke="#333" stroke-width="0.18">G</text>
<text x="62.77" y="272.83" font-size="6.60" text-anchor="middle" fill="#333" stroke="#333" stroke-width="0.18">G</text>
<text x="70.55" y="272.83" font-size="6.60" text-anchor="middle" fill="#333" stroke="#333" stroke-width="0.18">G</text>
<text x="78.33" y="272.83" font-size="6.60" text-anchor="middle" fill="#333" stroke="#333" stroke-width="0.18">T</text>
<text x="86.11" y="272.83" font-size="6.60" text-anchor="middle" fill="#333" stroke="#333" stroke-width="0.18">G</text>
<text x="93.89" y="272.83" font-size="6.60" text-anchor="middle" fill="#333" stroke="#333" stroke-width="0.18">C</text>
<text x="101.67" y="272.83" font-size="6.60" text-anchor="middle" fill="#333" stroke="#333" stroke-width="0.18">C</text>
<text x="109.45" y="272.83" font-size="6.60" text-anchor="middle" fill="#333" stroke="#333" stroke-width="0.18">A</text>
<text x="117.23" y="272.83" font-size="6.60" text-anchor="middle" fill="#333" stroke="#333" stroke-width="0.18">G</text>
<text x="125.01" y="272.83" font-size="6.60" text-anchor="middle" fill="#333" stroke="#333" stroke-width="0.18">C</text>
<text x="132.79" y="272.83" font-size="6.60" text-anchor="middle" fill="#333" stroke="#333" stroke-width="0.18">G</text>
<text x="140.57" y="272.83" font-size="6.60" text-anchor="middle" fill="#333" stroke="#333" stroke-width="0.18">G</text>
<text x="148.35" y="272.83" font-size="6.60" text-anchor="middle" fill="#333" stroke="#333" stroke-width="0.18">G</text>
<text x="156.13" y="272.83" font-size="6.60" text-anchor="middle" fill="#333" stroke="#333" stroke-width="0.18">T</text>
<text x="163.91" y="272.83" font-size="6.60" text-anchor="middle" fill="#333" stroke="#333" stroke-width="0.18">T</text>
<text x="171.69" y="272.83" font-size="6.60" text-anchor="middle" fill="#333" stroke="#333" stroke-width="0.18">A</text>
<text x="179.47" y="272.83" font-size="6.60" text-anchor="middle" fill="#333" stroke="#333" stroke-width="0.18">T</text>
<text x="187.25" y="272.83" font-size="6.60" text-anchor="middle" fill="#333" stroke="#333" stroke-width="0.18">G</text>
<text x="195.03" y="272.83" font-size="6.60" text-anchor="middle" fill="#333" stroke="#333" stroke-width="0.18">A</text>
<text x="202.81" y="272.83" font-size="6.60" text-anchor="middle" fill="#333" stroke="#333" stroke-width="0.18">G</text>
<text x="210.59" y="272.83" font-size="6.60" text-anchor="middle" fill="#333" stroke="#333" stroke-width="0.18">G</text>
<text x="218.37" y="272.83" font-size="6.60" text-anchor="middle" fill="#333" stroke="#333" stroke-width="0.18">A</text>
<text x="226.15" y="272.83" font-size="6.60" text-anchor="middle" fill="#333" stroke="#333" stroke-width="0.18">G</text>
<text x="233.93" y="272.83" font-size="6.60" text-anchor="middle" fill="#333" stroke="#333" stroke-width="0.18">T</text>
<text x="241.71" y="272.83" font-size="6.60" text-anchor="middle" fill="#333" stroke="#333" stroke-width="0.18">G</text>
<text x="249.49" y="272.83" font-size="6.60" text-anchor="middle" fill="#333" stroke="#333" stroke-width="0.18">C</text>
<text x="257.27" y="272.83" font-size="6.60" text-anchor="middle" fill="#333" stroke="#333" stroke-width="0.18">A</text>
<text x="265.05" y="272.83" font-size="6.60" text-anchor="middle" fill="#333" stroke="#333" stroke-width="0.18">T</text>
<text x="272.83" y="272.83" font-size="6.60" text-anchor="middle" fill="#333" stroke="#333" stroke-width="0.18">T</text>
<text x="280.61" y="272.83" font-size="6.60" text-anchor="middle" fill="#333" stroke="#333" stroke-width="0.18">A</text>
<text x="288.39" y="272.83" font-size="6.60" text-anchor="middle" fill="#333" stroke="#333" stroke-width="0.18">T</text>
<text x="296.17" y="272.83" font-size="6.60" text-anchor="middle" fill="#333" stroke="#333" stroke-width="0.18">C</text>
<text x="303.95" y="272.83" font-size="6.60" text-anchor="middle" fill="#333" stroke="#333" stroke-width="0.18">G</text>
<text x="311.73" y="272.83" font-size="6.60" text-anchor="middle" fill="#333" stroke="#333" stroke-width="0.18">T</text>
<text x="319.51" y="272.83" font-size="6.60" text-anchor="middle" fill="#333" stroke="#333" stroke-width="0.18">T</text>
<rect x="152.74" y="267.00" width="6.78" height="6.90" fill="none" stroke="#e61e1e" stroke-width="1.0"/>
<rect x="12.20" y="274.30" width="8.13" height="8.00" fill="#b7e1be"/>
<rect x="19.98" y="274.30" width="8.13" height="8.00" fill="#fdfbd0"/>
<rect x="27.76" y="274.30" width="8.13" height="8.00" fill="#b7e1be"/>
<rect x="35.54" y="274.30" width="8.13" height="8.00" fill="#b7e1be"/>
<rect x="43.32" y="274.30" width="8.13" height="8.00" fill="#fdfbd0"/>
<rect x="51.10" y="274.30" width="8.13" height="8.00" fill="#b7e1be"/>
<rect x="58.88" y="274.30" width="8.13" height="8.00" fill="#fdfbd0"/>
<rect x="66.66" y="274.30" width="8.13" height="8.00" fill="#fdfbd0"/>
<rect x="74.44" y="274.30" width="8.13" height="8.00" fill="#fdfbd0"/>
<rect x="82.22" y="274.30" width="8.13" height="8.00" fill="#dcd4ee"/>
<rect x="90.00" y="274.30" width="8.13" height="8.00" fill="#fdfbd0"/>
<rect x="97.78" y="274.30" width="8.13" height="8.00" fill="#fddcc8"/>
<rect x="105.56" y="274.30" width="8.13" height="8.00" fill="#fddcc8"/>
<rect x="113.34" y="274.30" width="8.13" height="8.00" fill="#b7e1be"/>
<rect x="121.12" y="274.30" width="8.13" height="8.00" fill="#fdfbd0"/>
<rect x="128.90" y="274.30" width="8.13" height="8.00" fill="#fddcc8"/>
<rect x="136.68" y="274.30" width="8.13" height="8.00" fill="#fdfbd0"/>
<rect x="144.46" y="274.30" width="8.13" height="8.00" fill="#fdfbd0"/>
<rect x="152.24" y="274.30" width="8.13" height="8.00" fill="#fdfbd0"/>
<rect x="160.02" y="274.30" width="8.13" height="8.00" fill="#dcd4ee"/>
<rect x="167.80" y="274.30" width="8.13" height="8.00" fill="#dcd4ee"/>
<rect x="175.58" y="274.30" width="8.13" height="8.00" fill="#b7e1be"/>
<rect x="183.36" y="274.30" width="8.13" height="8.00" fill="#dcd4ee"/>
<rect x="191.14" y="274.30" width="8.13" height="8.00" fill="#fdfbd0"/>
<rect x="198.92" y="274.30" width="8.13" height="8.00" fill="#b7e1be"/>
<rect x="206.70" y="274.30" width="8.13" height="8.00" fill="#fdfbd0"/>
<rect x="214.48" y="274.30" width="8.13" height="8.00" fill="#fdfbd0"/>
<rect x="222.26" y="274.30" width="8.13" height="8.00" fill="#b7e1be"/>
<rect x="230.04" y="274.30" width="8.13" height="8.00" fill="#fdfbd0"/>
<rect x="237.82" y="274.30" width="8.13" height="8.00" fill="#dcd4ee"/>
<rect x="245.60" y="274.30" width="8.13" height="8.00" fill="#fdfbd0"/>
<rect x="253.38" y="274.30" width="8.13" height="8.00" fill="#fddcc8"/>
<rect x="261.16" y="274.30" width="8.13" height="8.00" fill="#b7e1be"/>
<rect x="268.94" y="274.30" width="8.13" height="8.00" fill="#dcd4ee"/>
<rect x="276.72" y="274.30" width="8.13" height="8.00" fill="#dcd4ee"/>
<rect x="284.50" y="274.30" width="8.13" height="8.00" fill="#b7e1be"/>
<rect x="292.28" y="274.30" width="8.13" height="8.00" fill="#dcd4ee"/>
<rect x="300.06" y="274.30" width="8.13" height="8.00" fill="#fddcc8"/>
<rect x="307.84" y="274.30" width="8.13" height="8.00" fill="#fdfbd0"/>
<rect x="315.62" y="274.30" width="8.13" height="8.00" fill="#dcd4ee"/>
<text x="16.09" y="280.53" font-size="6.60" text-anchor="middle" fill="#333" stroke="#333" stroke-width="0.18">A</text>
<text x="23.87" y="280.53" font-size="6.60" text-anchor="middle" fill="#333" stroke="#333" stroke-width="0.18">G</text>
<text x="31.65" y="280.53" font-size="6.60" text-anchor="middle" fill="#333" stroke="#333" stroke-width="0.18">A</text>
<text x="39.43" y="280.53" font-size="6.60" text-anchor="middle" fill="#333" stroke="#333" stroke-width="0.18">A</text>
<text x="47.21" y="280.53" font-size="6.60" text-anchor="middle" fill="#333" stroke="#333" stroke-width="0.18">G</text>
<text x="54.99" y="280.53" font-size="6.60" text-anchor="middle" fill="#333" stroke="#333" stroke-width="0.18">A</text>
<text x="62.77" y="280.53" font-size="6.60" text-anchor="middle" fill="#333" stroke="#333" stroke-width="0.18">G</text>
<text x="70.55" y="280.53" font-size="6.60" text-anchor="middle" fill="#333" stroke="#333" stroke-width="0.18">G</text>
<text x="78.33" y="280.53" font-size="6.60" text-anchor="middle" fill="#333" stroke="#333" stroke-width="0.18">G</text>
<text x="86.11" y="280.53" font-size="6.60" text-anchor="middle" fill="#333" stroke="#333" stroke-width="0.18">T</text>
<text x="93.89" y="280.53" font-size="6.60" text-anchor="middle" fill="#333" stroke="#333" stroke-width="0.18">G</text>
<text x="101.67" y="280.53" font-size="6.60" text-anchor="middle" fill="#333" stroke="#333" stroke-width="0.18">C</text>
<text x="109.45" y="280.53" font-size="6.60" text-anchor="middle" fill="#333" stroke="#333" stroke-width="0.18">C</text>
<text x="117.23" y="280.53" font-size="6.60" text-anchor="middle" fill="#333" stroke="#333" stroke-width="0.18">A</text>
<text x="125.01" y="280.53" font-size="6.60" text-anchor="middle" fill="#333" stroke="#333" stroke-width="0.18">G</text>
<text x="132.79" y="280.53" font-size="6.60" text-anchor="middle" fill="#333" stroke="#333" stroke-width="0.18">C</text>
<text x="140.57" y="280.53" font-size="6.60" text-anchor="middle" fill="#333" stroke="#333" stroke-width="0.18">G</text>
<text x="148.35" y="280.53" font-size="6.60" text-anchor="middle" fill="#333" stroke="#333" stroke-width="0.18">G</text>
<text x="156.13" y="280.53" font-size="6.60" text-anchor="middle" fill="#333" stroke="#333" stroke-width="0.18">G</text>
<text x="163.91" y="280.53" font-size="6.60" text-anchor="middle" fill="#333" stroke="#333" stroke-width="0.18">T</text>
<text x="171.69" y="280.53" font-size="6.60" text-anchor="middle" fill="#333" stroke="#333" stroke-width="0.18">T</text>
<text x="179.47" y="280.53" font-size="6.60" text-anchor="middle" fill="#333" stroke="#333" stroke-width="0.18">A</text>
<text x="187.25" y="280.53" font-size="6.60" text-anchor="middle" fill="#333" stroke="#333" stroke-width="0.18">T</text>
<text x="195.03" y="280.53" font-size="6.60" text-anchor="middle" fill="#333" stroke="#333" stroke-width="0.18">G</text>
<text x="202.81" y="280.53" font-size="6.60" text-anchor="middle" fill="#333" stroke="#333" stroke-width="0.18">A</text>
<text x="210.59" y="280.53" font-size="6.60" text-anchor="middle" fill="#333" stroke="#333" stroke-width="0.18">G</text>
<text x="218.37" y="280.53" font-size="6.60" text-anchor="middle" fill="#333" stroke="#333" stroke-width="0.18">G</text>
<text x="226.15" y="280.53" font-size="6.60" text-anchor="middle" fill="#333" stroke="#333" stroke-width="0.18">A</text>
<text x="233.93" y="280.53" font-size="6.60" text-anchor="middle" fill="#333" stroke="#333" stroke-width="0.18">G</text>
<text x="241.71" y="280.53" font-size="6.60" text-anchor="middle" fill="#333" stroke="#333" stroke-width="0.18">T</text>
<text x="249.49" y="280.53" font-size="6.60" text-anchor="middle" fill="#333" stroke="#333" stroke-width="0.18">G</text>
<text x="257.27" y="280.53" font-size="6.60" text-anchor="middle" fill="#333" stroke="#333" stroke-width="0.18">C</text>
<text x="265.05" y="280.53" font-size="6.60" text-anchor="middle" fill="#333" stroke="#333" stroke-width="0.18">A</text>
<text x="272.83" y="280.53" font-size="6.60" text-anchor="middle" fill="#333" stroke="#333" stroke-width="0.18">T</text>
<text x="280.61" y="280.53" font-size="6.60" text-anchor="middle" fill="#333" stroke="#333" stroke-width="0.18">T</text>
<text x="288.39" y="280.53" font-size="6.60" text-anchor="middle" fill="#333" stroke="#333" stroke-width="0.18">A</text>
<text x="296.17" y="280.53" font-size="6.60" text-anchor="middle" fill="#333" stroke="#333" stroke-width="0.18">T</text>
<text x="303.95" y="280.53" font-size="6.60" text-anchor="middle" fill="#333" stroke="#333" stroke-width="0.18">C</text>
<text x="311.73" y="280.53" font-size="6.60" text-anchor="middle" fill="#333" stroke="#333" stroke-width="0.18">G</text>
<text x="319.51" y="280.53" font-size="6.60" text-anchor="middle" fill="#333" stroke="#333" stroke-width="0.18">T</text>
<rect x="168.30" y="274.70" width="6.78" height="6.90" fill="none" stroke="#e61e1e" stroke-width="1.0"/>
<rect x="12.20" y="282.00" width="8.13" height="8.00" fill="#b7e1be"/>
<rect x="19.98" y="282.00" width="8.13" height="8.00" fill="#fdfbd0"/>
<rect x="27.76" y="282.00" width="8.13" height="8.00" fill="#b7e1be"/>
<rect x="35.54" y="282.00" width="8.13" height="8.00" fill="#b7e1be"/>
<rect x="43.32" y="282.00" width="8.13" height="8.00" fill="#fdfbd0"/>
<rect x="51.10" y="282.00" width="8.13" height="8.00" fill="#b7e1be"/>
<rect x="58.88" y="282.00" width="8.13" height="8.00" fill="#fdfbd0"/>
<rect x="66.66" y="282.00" width="8.13" height="8.00" fill="#fdfbd0"/>
<rect x="74.44" y="282.00" width="8.13" height="8.00" fill="#fdfbd0"/>
<rect x="82.22" y="282.00" width="8.13" height="8.00" fill="#dcd4ee"/>
<rect x="90.00" y="282.00" width="8.13" height="8.00" fill="#fdfbd0"/>
<rect x="97.78" y="282.00" width="8.13" height="8.00" fill="#fddcc8"/>
<rect x="105.56" y="282.00" width="8.13" height="8.00" fill="#fddcc8"/>
<rect x="113.34" y="282.00" width="8.13" height="8.00" fill="#b7e1be"/>
<rect x="121.12" y="282.00" width="8.13" height="8.00" fill="#fdfbd0"/>
<rect x="128.90" y="282.00" width="8.13" height="8.00" fill="#fddcc8"/>
<rect x="136.68" y="282.00" width="8.13" height="8.00" fill="#fdfbd0"/>
<rect x="144.46" y="282.00" width="8.13" height="8.00" fill="#fdfbd0"/>
<rect x="152.24" y="282.00" width="8.13" height="8.00" fill="#fdfbd0"/>
<rect x="160.02" y="282.00" width="8.13" height="8.00" fill="#efefef"/>
<rect x="167.80" y="282.00" width="8.13" height="8.00" fill="#efefef"/>
<rect x="175.58" y="282.00" width="8.13" height="8.00" fill="#dcd4ee"/>
<rect x="183.36" y="282.00" width="8.13" height="8.00" fill="#fdfbd0"/>
<rect x="191.14" y="282.00" width="8.13" height="8.00" fill="#b7e1be"/>
<rect x="198.92" y="282.00" width="8.13" height="8.00" fill="#fdfbd0"/>
<rect x="206.70" y="282.00" width="8.13" height="8.00" fill="#fdfbd0"/>
<rect x="214.48" y="282.00" width="8.13" height="8.00" fill="#b7e1be"/>
<rect x="222.26" y="282.00" width="8.13" height="8.00" fill="#fdfbd0"/>
<rect x="230.04" y="282.00" width="8.13" height="8.00" fill="#dcd4ee"/>
<rect x="237.82" y="282.00" width="8.13" height="8.00" fill="#fdfbd0"/>
<rect x="245.60" y="282.00" width="8.13" height="8.00" fill="#fddcc8"/>
<rect x="253.38" y="282.00" width="8.13" height="8.00" fill="#b7e1be"/>
<rect x="261.16" y="282.00" width="8.13" height="8.00" fill="#dcd4ee"/>
<rect x="268.94" y="282.00" width="8.13" height="8.00" fill="#dcd4ee"/>
<rect x="276.72" y="282.00" width="8.13" height="8.00" fill="#b7e1be"/>
<rect x="284.50" y="282.00" width="8.13" height="8.00" fill="#dcd4ee"/>
<rect x="292.28" y="282.00" width="8.13" height="8.00" fill="#fddcc8"/>
<rect x="300.06" y="282.00" width="8.13" height="8.00" fill="#fdfbd0"/>
<rect x="307.84" y="282.00" width="8.13" height="8.00" fill="#dcd4ee"/>
<rect x="315.62" y="282.00" width="8.13" height="8.00" fill="#dcd4ee"/>
<text x="16.09" y="288.23" font-size="6.60" text-anchor="middle" fill="#333" stroke="#333" stroke-width="0.18">A</text>
<text x="23.87" y="288.23" font-size="6.60" text-anchor="middle" fill="#333" stroke="#333" stroke-width="0.18">G</text>
<text x="31.65" y="288.23" font-size="6.60" text-anchor="middle" fill="#333" stroke="#333" stroke-width="0.18">A</text>
<text x="39.43" y="288.23" font-size="6.60" text-anchor="middle" fill="#333" stroke="#333" stroke-width="0.18">A</text>
<text x="47.21" y="288.23" font-size="6.60" text-anchor="middle" fill="#333" stroke="#333" stroke-width="0.18">G</text>
<text x="54.99" y="288.23" font-size="6.60" text-anchor="middle" fill="#333" stroke="#333" stroke-width="0.18">A</text>
<text x="62.77" y="288.23" font-size="6.60" text-anchor="middle" fill="#333" stroke="#333" stroke-width="0.18">G</text>
<text x="70.55" y="288.23" font-size="6.60" text-anchor="middle" fill="#333" stroke="#333" stroke-width="0.18">G</text>
<text x="78.33" y="288.23" font-size="6.60" text-anchor="middle" fill="#333" stroke="#333" stroke-width="0.18">G</text>
<text x="86.11" y="288.23" font-size="6.60" text-anchor="middle" fill="#333" stroke="#333" stroke-width="0.18">T</text>
<text x="93.89" y="288.23" font-size="6.60" text-anchor="middle" fill="#333" stroke="#333" stroke-width="0.18">G</text>
<text x="101.67" y="288.23" font-size="6.60" text-anchor="middle" fill="#333" stroke="#333" stroke-width="0.18">C</text>
<text x="109.45" y="288.23" font-size="6.60" text-anchor="middle" fill="#333" stroke="#333" stroke-width="0.18">C</text>
<text x="117.23" y="288.23" font-size="6.60" text-anchor="middle" fill="#333" stroke="#333" stroke-width="0.18">A</text>
<text x="125.01" y="288.23" font-size="6.60" text-anchor="middle" fill="#333" stroke="#333" stroke-width="0.18">G</text>
<text x="132.79" y="288.23" font-size="6.60" text-anchor="middle" fill="#333" stroke="#333" stroke-width="0.18">C</text>
<text x="140.57" y="288.23" font-size="6.60" text-anchor="middle" fill="#333" stroke="#333" stroke-width="0.18">G</text>
<text x="148.35" y="288.23" font-size="6.60" text-anchor="middle" fill="#333" stroke="#333" stroke-width="0.18">G</text>
<text x="156.13" y="288.23" font-size="6.60" text-anchor="middle" fill="#333" stroke="#333" stroke-width="0.18">G</text>
<line x1="163.11" y1="286.15" x2="164.71" y2="286.15" stroke="#666" stroke-width="0.7"/>
<line x1="170.89" y1="286.15" x2="172.49" y2="286.15" stroke="#666" stroke-width="0.7"/>
<text x="179.47" y="288.23" font-size="6.60" text-anchor="middle" fill="#333" stroke="#333" stroke-width="0.18">T</text>
<text x="187.25" y="288.23" font-size="6.60" text-anchor="middle" fill="#333" stroke="#333" stroke-width="0.18">G</text>
<text x="195.03" y="288.23" font-size="6.60" text-anchor="middle" fill="#333" stroke="#333" stroke-width="0.18">A</text>
<text x="202.81" y="288.23" font-size="6.60" text-anchor="middle" fill="#333" stroke="#333" stroke-width="0.18">G</text>
<text x="210.59" y="288.23" font-size="6.60" text-anchor="middle" fill="#333" stroke="#333" stroke-width="0.18">G</text>
<text x="218.37" y="288.23" font-size="6.60" text-anchor="middle" fill="#333" stroke="#333" stroke-width="0.18">A</text>
<text x="226.15" y="288.23" font-size="6.60" text-anchor="middle" fill="#333" stroke="#333" stroke-width="0.18">G</text>
<text x="233.93" y="288.23" font-size="6.60" text-anchor="middle" fill="#333" stroke="#333" stroke-width="0.18">T</text>
<text x="241.71" y="288.23" font-size="6.60" text-anchor="middle" fill="#333" stroke="#333" stroke-width="0.18">G</text>
<text x="249.49" y="288.23" font-size="6.60" text-anchor="middle" fill="#333" stroke="#333" stroke-width="0.18">C</text>
<text x="257.27" y="288.23" font-size="6.60" text-anchor="middle" fill="#333" stroke="#333" stroke-width="0.18">A</text>
<text x="265.05" y="288.23" font-size="6.60" text-anchor="middle" fill="#333" stroke="#333" stroke-width="0.18">T</text>
<text x="272.83" y="288.23" font-size="6.60" text-anchor="middle" fill="#333" stroke="#333" stroke-width="0.18">T</text>
<text x="280.61" y="288.23" font-size="6.60" text-anchor="middle" fill="#333" stroke="#333" stroke-width="0.18">A</text>
<text x="288.39" y="288.23" font-size="6.60" text-anchor="middle" fill="#333" stroke="#333" stroke-width="0.18">T</text>
<text x="296.17" y="288.23" font-size="6.60" text-anchor="middle" fill="#333" stroke="#333" stroke-width="0.18">C</text>
<text x="303.95" y="288.23" font-size="6.60" text-anchor="middle" fill="#333" stroke="#333" stroke-width="0.18">G</text>
<text x="311.73" y="288.23" font-size="6.60" text-anchor="middle" fill="#333" stroke="#333" stroke-width="0.18">T</text>
<text x="319.51" y="288.23" font-size="6.60" text-anchor="middle" fill="#333" stroke="#333" stroke-width="0.18">T</text>
<rect x="12.20" y="289.70" width="8.13" height="8.00" fill="#b7e1be"/>
<rect x="19.98" y="289.70" width="8.13" height="8.00" fill="#fdfbd0"/>
<rect x="27.76" y="289.70" width="8.13" height="8.00" fill="#b7e1be"/>
<rect x="35.54" y="289.70" width="8.13" height="8.00" fill="#b7e1be"/>
<rect x="43.32" y="289.70" width="8.13" height="8.00" fill="#fdfbd0"/>
<rect x="51.10" y="289.70" width="8.13" height="8.00" fill="#b7e1be"/>
<rect x="58.88" y="289.70" width="8.13" height="8.00" fill="#fdfbd0"/>
<rect x="66.66" y="289.70" width="8.13" height="8.00" fill="#fdfbd0"/>
<rect x="74.44" y="289.70" width="8.13" height="8.00" fill="#fdfbd0"/>
<rect x="82.22" y="289.70" width="8.13" height="8.00" fill="#dcd4ee"/>
<rect x="90.00" y="289.70" width="8.13" height="8.00" fill="#fdfbd0"/>
<rect x="97.78" y="289.70" width="8.13" height="8.00" fill="#fddcc8"/>
<rect x="105.56" y="289.70" width="8.13" height="8.00" fill="#fddcc8"/>
<rect x="113.34" y="289.70" width="8.13" height="8.00" fill="#b7e1be"/>
<rect x="121.12" y="289.70" width="8.13" height="8.00" fill="#fdfbd0"/>
<rect x="128.90" y="289.70" width="8.13" height="8.00" fill="#fddcc8"/>
<rect x="136.68" y="289.70" width="8.13" height="8.00" fill="#fdfbd0"/>
<rect x="144.46" y="289.70" width="8.13" height="8.00" fill="#fdfbd0"/>
<rect x="152.24" y="289.70" width="8.13" height="8.00" fill="#fdfbd0"/>
<rect x="160.02" y="289.70" width="8.13" height="8.00" fill="#dcd4ee"/>
<rect x="167.80" y="289.70" width="8.13" height="8.00" fill="#efefef"/>
<rect x="175.58" y="289.70" width="8.13" height="8.00" fill="#efefef"/>
<rect x="183.36" y="289.70" width="8.13" height="8.00" fill="#fdfbd0"/>
<rect x="191.14" y="289.70" width="8.13" height="8.00" fill="#b7e1be"/>
<rect x="198.92" y="289.70" width="8.13" height="8.00" fill="#fdfbd0"/>
<rect x="206.70" y="289.70" width="8.13" height="8.00" fill="#fdfbd0"/>
<rect x="214.48" y="289.70" width="8.13" height="8.00" fill="#b7e1be"/>
<rect x="222.26" y="289.70" width="8.13" height="8.00" fill="#fdfbd0"/>
<rect x="230.04" y="289.70" width="8.13" height="8.00" fill="#dcd4ee"/>
<rect x="237.82" y="289.70" width="8.13" height="8.00" fill="#fdfbd0"/>
<rect x="245.60" y="289.70" width="8.13" height="8.00" fill="#fddcc8"/>
<rect x="253.38" y="289.70" width="8.13" height="8.00" fill="#b7e1be"/>
<rect x="261.16" y="289.70" width="8.13" height="8.00" fill="#dcd4ee"/>
<rect x="268.94" y="289.70" width="8.13" height="8.00" fill="#dcd4ee"/>
<rect x="276.72" y="289.70" width="8.13" height="8.00" fill="#b7e1be"/>
<rect x="284.50" y="289.70" width="8.13" height="8.00" fill="#dcd4ee"/>
<rect x="292.28" y="289.70" width="8.13" height="8.00" fill="#fddcc8"/>
<rect x="300.06" y="289.70" width="8.13" height="8.00" fill="#fdfbd0"/>
<rect x="307.84" y="289.70" width="8.13" height="8.00" fill="#dcd4ee"/>
<rect x="315.62" y="289.70" width="8.13" height="8.00" fill="#dcd4ee"/>
<text x="16.09" y="295.93" font-size="6.60" text-anchor="middle" fill="#333" stroke="#333" stroke-width="0.18">A</text>
<text x="23.87" y="295.93" font-size="6.60" text-anchor="middle" fill="#333" stroke="#333" stroke-width="0.18">G</text>
<text x="31.65" y="295.93" font-size="6.60" text-anchor="middle" fill="#333" stroke="#333" stroke-width="0.18">A</text>
<text x="39.43" y="295.93" font-size="6.60" text-anchor="middle" fill="#333" stroke="#333" stroke-width="0.18">A</text>
<text x="47.21" y="295.93" font-size="6.60" text-anchor="middle" fill="#333" stroke="#333" stroke-width="0.18">G</text>
<text x="54.99" y="295.93" font-size="6.60" text-anchor="middle" fill="#333" stroke="#333" stroke-width="0.18">A</text>
<text x="62.77" y="295.93" font-size="6.60" text-anchor="middle" fill="#333" stroke="#333" stroke-width="0.18">G</text>
<text x="70.55" y="295.93" font-size="6.60" text-anchor="middle" fill="#333" stroke="#333" stroke-width="0.18">G</text>
<text x="78.33" y="295.93" font-size="6.60" text-anchor="middle" fill="#333" stroke="#333" stroke-width="0.18">G</text>
<text x="86.11" y="295.93" font-size="6.60" text-anchor="middle" fill="#333" stroke="#333" stroke-width="0.18">T</text>
<text x="93.89" y="295.93" font-size="6.60" text-anchor="middle" fill="#333" stroke="#333" stroke-width="0.18">G</text>
<text x="101.67" y="295.93" font-size="6.60" text-anchor="middle" fill="#333" stroke="#333" stroke-width="0.18">C</text>
<text x="109.45" y="295.93" font-size="6.60" text-anchor="middle" fill="#333" stroke="#333" stroke-width="0.18">C</text>
<text x="117.23" y="295.93" font-size="6.60" text-anchor="middle" fill="#333" stroke="#333" stroke-width="0.18">A</text>
<text x="125.01" y="295.93" font-size="6.60" text-anchor="middle" fill="#333" stroke="#333" stroke-width="0.18">G</text>
<text x="132.79" y="295.93" font-size="6.60" text-anchor="middle" fill="#333" stroke="#333" stroke-width="0.18">C</text>
<text x="140.57" y="295.93" font-size="6.60" text-anchor="middle" fill="#333" stroke="#333" stroke-width="0.18">G</text>
<text x="148.35" y="295.93" font-size="6.60" text-anchor="middle" fill="#333" stroke="#333" stroke-width="0.18">G</text>
<text x="156.13" y="295.93" font-size="6.60" text-anchor="middle" fill="#333" stroke="#333" stroke-width="0.18">G</text>
<text x="163.91" y="295.93" font-size="6.60" text-anchor="middle" fill="#333" stroke="#333" stroke-width="0.18">T</text>
<line x1="170.89" y1="293.85" x2="172.49" y2="293.85" stroke="#666" stroke-width="0.7"/>
<line x1="178.67" y1="293.85" x2="180.27" y2="293.85" stroke="#666" stroke-width="0.7"/>
<text x="187.25" y="295.93" font-size="6.60" text-anchor="middle" fill="#333" stroke="#333" stroke-width="0.18">G</text>
<text x="195.03" y="295.93" font-size="6.60" text-anchor="middle" fill="#333" stroke="#333" stroke-width="0.18">A</text>
<text x="202.81" y="295.93" font-size="6.60" text-anchor="middle" fill="#333" stroke="#333" stroke-width="0.18">G</text>
<text x="210.59" y="295.93" font-size="6.60" text-anchor="middle" fill="#333" stroke="#333" stroke-width="0.18">G</text>
<text x="218.37" y="295.93" font-size="6.60" text-anchor="middle" fill="#333" stroke="#333" stroke-width="0.18">A</text>
<text x="226.15" y="295.93" font-size="6.60" text-anchor="middle" fill="#333" stroke="#333" stroke-width="0.18">G</text>
<text x="233.93" y="295.93" font-size="6.60" text-anchor="middle" fill="#333" stroke="#333" stroke-width="0.18">T</text>
<text x="241.71" y="295.93" font-size="6.60" text-anchor="middle" fill="#333" stroke="#333" stroke-width="0.18">G</text>
<text x="249.49" y="295.93" font-size="6.60" text-anchor="middle" fill="#333" stroke="#333" stroke-width="0.18">C</text>
<text x="257.27" y="295.93" font-size="6.60" text-anchor="middle" fill="#333" stroke="#333" stroke-width="0.18">A</text>
<text x="265.05" y="295.93" font-size="6.60" text-anchor="middle" fill="#333" stroke="#333" stroke-width="0.18">T</text>
<text x="272.83" y="295.93" font-size="6.60" text-anchor="middle" fill="#333" stroke="#333" stroke-width="0.18">T</text>
<text x="280.61" y="295.93" font-size="6.60" text-anchor="middle" fill="#333" stroke="#333" stroke-width="0.18">A</text>
<text x="288.39" y="295.93" font-size="6.60" text-anchor="middle" fill="#333" stroke="#333" stroke-width="0.18">T</text>
<text x="296.17" y="295.93" font-size="6.60" text-anchor="middle" fill="#333" stroke="#333" stroke-width="0.18">C</text>
<text x="303.95" y="295.93" font-size="6.60" text-anchor="middle" fill="#333" stroke="#333" stroke-width="0.18">G</text>
<text x="311.73" y="295.93" font-size="6.60" text-anchor="middle" fill="#333" stroke="#333" stroke-width="0.18">T</text>
<text x="319.51" y="295.93" font-size="6.60" text-anchor="middle" fill="#333" stroke="#333" stroke-width="0.18">T</text>
<rect x="12.20" y="297.40" width="8.13" height="8.00" fill="#b7e1be"/>
<rect x="19.98" y="297.40" width="8.13" height="8.00" fill="#fdfbd0"/>
<rect x="27.76" y="297.40" width="8.13" height="8.00" fill="#b7e1be"/>
<rect x="35.54" y="297.40" width="8.13" height="8.00" fill="#b7e1be"/>
<rect x="43.32" y="297.40" width="8.13" height="8.00" fill="#fdfbd0"/>
<rect x="51.10" y="297.40" width="8.13" height="8.00" fill="#b7e1be"/>
<rect x="58.88" y="297.40" width="8.13" height="8.00" fill="#fdfbd0"/>
<rect x="66.66" y="297.40" width="8.13" height="8.00" fill="#fdfbd0"/>
<rect x="74.44" y="297.40" width="8.13" height="8.00" fill="#fdfbd0"/>
<rect x="82.22" y="297.40" width="8.13" height="8.00" fill="#dcd4ee"/>
<rect x="90.00" y="297.40" width="8.13" height="8.00" fill="#fdfbd0"/>
<rect x="97.78" y="297.40" width="8.13" height="8.00" fill="#dcd4ee"/>
<rect x="105.56" y="297.40" width="8.13" height="8.00" fill="#fddcc8"/>
<rect x="113.34" y="297.40" width="8.13" height="8.00" fill="#b7e1be"/>
<rect x="121.12" y="297.40" width="8.13" height="8.00" fill="#fdfbd0"/>
<rect x="128.90" y="297.40" width="8.13" height="8.00" fill="#fddcc8"/>
<rect x="136.68" y="297.40" width="8.13" height="8.00" fill="#fdfbd0"/>
<rect x="144.46" y="297.40" width="8.13" height="8.00" fill="#fdfbd0"/>
<rect x="152.24" y="297.40" width="8.13" height="8.00" fill="#fdfbd0"/>
<rect x="160.02" y="297.40" width="8.13" height="8.00" fill="#dcd4ee"/>
<rect x="167.80" y="297.40" width="8.13" height="8.00" fill="#b7e1be"/>
<rect x="175.58" y="297.40" width="8.13" height="8.00" fill="#dcd4ee"/>
<rect x="183.36" y="297.40" width="8.13" height="8.00" fill="#fdfbd0"/>
<rect x="191.14" y="297.40" width="8.13" height="8.00" fill="#b7e1be"/>
<rect x="198.92" y="297.40" width="8.13" height="8.00" fill="#fdfbd0"/>
<rect x="206.70" y="297.40" width="8.13" height="8.00" fill="#fdfbd0"/>
<rect x="214.48" y="297.40" width="8.13" height="8.00" fill="#b7e1be"/>
<rect x="222.26" y="297.40" width="8.13" height="8.00" fill="#fdfbd0"/>
<rect x="230.04" y="297.40" width="8.13" height="8.00" fill="#dcd4ee"/>
<rect x="237.82" y="297.40" width="8.13" height="8.00" fill="#fdfbd0"/>
<rect x="245.60" y="297.40" width="8.13" height="8.00" fill="#fddcc8"/>
<rect x="253.38" y="297.40" width="8.13" height="8.00" fill="#b7e1be"/>
<rect x="261.16" y="297.40" width="8.13" height="8.00" fill="#dcd4ee"/>
<rect x="268.94" y="297.40" width="8.13" height="8.00" fill="#dcd4ee"/>
<rect x="276.72" y="297.40" width="8.13" height="8.00" fill="#b7e1be"/>
<rect x="284.50" y="297.40" width="8.13" height="8.00" fill="#dcd4ee"/>
<rect x="292.28" y="297.40" width="8.13" height="8.00" fill="#fddcc8"/>
<rect x="300.06" y="297.40" width="8.13" height="8.00" fill="#fdfbd0"/>
<rect x="307.84" y="297.40" width="8.13" height="8.00" fill="#dcd4ee"/>
<rect x="315.62" y="297.40" width="8.13" height="8.00" fill="#dcd4ee"/>
<text x="16.09" y="303.63" font-size="6.60" text-anchor="middle" fill="#333" stroke="#333" stroke-width="0.18">A</text>
<text x="23.87" y="303.63" font-size="6.60" text-anchor="middle" fill="#333" stroke="#333" stroke-width="0.18">G</text>
<text x="31.65" y="303.63" font-size="6.60" text-anchor="middle" fill="#333" stroke="#333" stroke-width="0.18">A</text>
<text x="39.43" y="303.63" font-size="6.60" text-anchor="middle" fill="#333" stroke="#333" stroke-width="0.18">A</text>
<text x="47.21" y="303.63" font-size="6.60" text-anchor="middle" fill="#333" stroke="#333" stroke-width="0.18">G</text>
<text x="54.99" y="303.63" font-size="6.60" text-anchor="middle" fill="#333" stroke="#333" stroke-width="0.18">A</text>
<text x="62.77" y="303.63" font-size="6.60" text-anchor="middle" fill="#333" stroke="#333" stroke-width="0.18">G</text>
<text x="70.55" y="303.63" font-size="6.60" text-anchor="middle" fill="#333" stroke="#333" stroke-width="0.18">G</text>
<text x="78.33" y="303.63" font-size="6.60" text-anchor="middle" fill="#333" stroke="#333" stroke-width="0.18">G</text>
<text x="86.11" y="303.63" font-size="6.60" text-anchor="middle" fill="#333" stroke="#333" stroke-width="0.18">T</text>
<text x="93.89" y="303.63" font-size="6.60" text-anchor="middle" fill="#333" stroke="#333" stroke-width="0.18">G</text>
<text x="101.67" y="303.63" font-size="6.60" text-anchor="middle" fill="#111" font-weight="bold" stroke="#111" stroke-width="0.18">T</text>
<text x="109.45" y="303.63" font-size="6.60" text-anchor="middle" fill="#333" stroke="#333" stroke-width="0.18">C</text>
<text x="117.23" y="303.63" font-size="6.60" text-anchor="middle" fill="#333" stroke="#333" stroke-width="0.18">A</text>
<text x="125.01" y="303.63" font-size="6.60" text-anchor="middle" fill="#333" stroke="#333" stroke-width="0.18">G</text>
<text x="132.79" y="303.63" font-size="6.60" text-anchor="middle" fill="#333" stroke="#333" stroke-width="0.18">C</text>
<text x="140.57" y="303.63" font-size="6.60" text-anchor="middle" fill="#333" stroke="#333" stroke-width="0.18">G</text>
<text x="148.35" y="303.63" font-size="6.60" text-anchor="middle" fill="#333" stroke="#333" stroke-width="0.18">G</text>
<text x="156.13" y="303.63" font-size="6.60" text-anchor="middle" fill="#333" stroke="#333" stroke-width="0.18">G</text>
<text x="163.91" y="303.63" font-size="6.60" text-anchor="middle" fill="#333" stroke="#333" stroke-width="0.18">T</text>
<text x="171.69" y="303.63" font-size="6.60" text-anchor="middle" fill="#333" stroke="#333" stroke-width="0.18">A</text>
<text x="179.47" y="303.63" font-size="6.60" text-anchor="middle" fill="#333" stroke="#333" stroke-width="0.18">T</text>
<text x="187.25" y="303.63" font-size="6.60" text-anchor="middle" fill="#333" stroke="#333" stroke-width="0.18">G</text>
<text x="195.03" y="303.63" font-size="6.60" text-anchor="middle" fill="#333" stroke="#333" stroke-width="0.18">A</text>
<text x="202.81" y="303.63" font-size="6.60" text-anchor="middle" fill="#333" stroke="#333" stroke-width="0.18">G</text>
<text x="210.59" y="303.63" font-size="6.60" text-anchor="middle" fill="#333" stroke="#333" stroke-width="0.18">G</text>
<text x="218.37" y="303.63" font-size="6.60" text-anchor="middle" fill="#333" stroke="#333" stroke-width="0.18">A</text>
<text x="226.15" y="303.63" font-size="6.60" text-anchor="middle" fill="#333" stroke="#333" stroke-width="0.18">G</text>
<text x="233.93" y="303.63" font-size="6.60" text-anchor="middle" fill="#333" stroke="#333" stroke-width="0.18">T</text>
<text x="241.71" y="303.63" font-size="6.60" text-anchor="middle" fill="#333" stroke="#333" stroke-width="0.18">G</text>
<text x="249.49" y="303.63" font-size="6.60" text-anchor="middle" fill="#333" stroke="#333" stroke-width="0.18">C</text>
<text x="257.27" y="303.63" font-size="6.60" text-anchor="middle" fill="#333" stroke="#333" stroke-width="0.18">A</text>
<text x="265.05" y="303.63" font-size="6.60" text-anchor="middle" fill="#333" stroke="#333" stroke-width="0.18">T</text>
<text x="272.83" y="303.63" font-size="6.60" text-anchor="middle" fill="#333" stroke="#333" stroke-width="0.18">T</text>
<text x="280.61" y="303.63" font-size="6.60" text-anchor="middle" fill="#333" stroke="#333" stroke-width="0.18">A</text>
<text x="288.39" y="303.63" font-size="6.60" text-anchor="middle" fill="#333" stroke="#333" stroke-width="0.18">T</text>
<text x="296.17" y="303.63" font-size="6.60" text-anchor="middle" fill="#333" stroke="#333" stroke-width="0.18">C</text>
<text x="303.95" y="303.63" font-size="6.60" text-anchor="middle" fill="#333" stroke="#333" stroke-width="0.18">G</text>
<text x="311.73" y="303.63" font-size="6.60" text-anchor="middle" fill="#333" stroke="#333" stroke-width="0.18">T</text>
<text x="319.51" y="303.63" font-size="6.60" text-anchor="middle" fill="#333" stroke="#333" stroke-width="0.18">T</text>
<rect x="12.20" y="305.10" width="8.13" height="8.00" fill="#b7e1be"/>
<rect x="19.98" y="305.10" width="8.13" height="8.00" fill="#fdfbd0"/>
<rect x="27.76" y="305.10" width="8.13" height="8.00" fill="#b7e1be"/>
<rect x="35.54" y="305.10" width="8.13" height="8.00" fill="#b7e1be"/>
<rect x="43.32" y="305.10" width="8.13" height="8.00" fill="#fdfbd0"/>
<rect x="51.10" y="305.10" width="8.13" height="8.00" fill="#b7e1be"/>
<rect x="58.88" y="305.10" width="8.13" height="8.00" fill="#fdfbd0"/>
<rect x="66.66" y="305.10" width="8.13" height="8.00" fill="#fdfbd0"/>
<rect x="74.44" y="305.10" width="8.13" height="8.00" fill="#fdfbd0"/>
<rect x="82.22" y="305.10" width="8.13" height="8.00" fill="#dcd4ee"/>
<rect x="90.00" y="305.10" width="8.13" height="8.00" fill="#fdfbd0"/>
<rect x="97.78" y="305.10" width="8.13" height="8.00" fill="#fddcc8"/>
<rect x="105.56" y="305.10" width="8.13" height="8.00" fill="#fddcc8"/>
<rect x="113.34" y="305.10" width="8.13" height="8.00" fill="#b7e1be"/>
<rect x="121.12" y="305.10" width="8.13" height="8.00" fill="#fdfbd0"/>
<rect x="128.90" y="305.10" width="8.13" height="8.00" fill="#fddcc8"/>
<rect x="136.68" y="305.10" width="8.13" height="8.00" fill="#efefef"/>
<rect x="144.46" y="305.10" width="8.13" height="8.00" fill="#efefef"/>
<rect x="152.24" y="305.10" width="8.13" height="8.00" fill="#fdfbd0"/>
<rect x="160.02" y="305.10" width="8.13" height="8.00" fill="#dcd4ee"/>
<rect x="167.80" y="305.10" width="8.13" height="8.00" fill="#b7e1be"/>
<rect x="175.58" y="305.10" width="8.13" height="8.00" fill="#dcd4ee"/>
<rect x="183.36" y="305.10" width="8.13" height="8.00" fill="#fdfbd0"/>
<rect x="191.14" y="305.10" width="8.13" height="8.00" fill="#b7e1be"/>
<rect x="198.92" y="305.10" width="8.13" height="8.00" fill="#fdfbd0"/>
<rect x="206.70" y="305.10" width="8.13" height="8.00" fill="#fdfbd0"/>
<rect x="214.48" y="305.10" width="8.13" height="8.00" fill="#b7e1be"/>
<rect x="222.26" y="305.10" width="8.13" height="8.00" fill="#fdfbd0"/>
<rect x="230.04" y="305.10" width="8.13" height="8.00" fill="#dcd4ee"/>
<rect x="237.82" y="305.10" width="8.13" height="8.00" fill="#fdfbd0"/>
<rect x="245.60" y="305.10" width="8.13" height="8.00" fill="#fddcc8"/>
<rect x="253.38" y="305.10" width="8.13" height="8.00" fill="#b7e1be"/>
<rect x="261.16" y="305.10" width="8.13" height="8.00" fill="#dcd4ee"/>
<rect x="268.94" y="305.10" width="8.13" height="8.00" fill="#dcd4ee"/>
<rect x="276.72" y="305.10" width="8.13" height="8.00" fill="#b7e1be"/>
<rect x="284.50" y="305.10" width="8.13" height="8.00" fill="#dcd4ee"/>
<rect x="292.28" y="305.10" width="8.13" height="8.00" fill="#fddcc8"/>
<rect x="300.06" y="305.10" width="8.13" height="8.00" fill="#fdfbd0"/>
<rect x="307.84" y="305.10" width="8.13" height="8.00" fill="#dcd4ee"/>
<rect x="315.62" y="305.10" width="8.13" height="8.00" fill="#dcd4ee"/>
<text x="16.09" y="311.33" font-size="6.60" text-anchor="middle" fill="#333" stroke="#333" stroke-width="0.18">A</text>
<text x="23.87" y="311.33" font-size="6.60" text-anchor="middle" fill="#333" stroke="#333" stroke-width="0.18">G</text>
<text x="31.65" y="311.33" font-size="6.60" text-anchor="middle" fill="#333" stroke="#333" stroke-width="0.18">A</text>
<text x="39.43" y="311.33" font-size="6.60" text-anchor="middle" fill="#333" stroke="#333" stroke-width="0.18">A</text>
<text x="47.21" y="311.33" font-size="6.60" text-anchor="middle" fill="#333" stroke="#333" stroke-width="0.18">G</text>
<text x="54.99" y="311.33" font-size="6.60" text-anchor="middle" fill="#333" stroke="#333" stroke-width="0.18">A</text>
<text x="62.77" y="311.33" font-size="6.60" text-anchor="middle" fill="#333" stroke="#333" stroke-width="0.18">G</text>
<text x="70.55" y="311.33" font-size="6.60" text-anchor="middle" fill="#333" stroke="#333" stroke-width="0.18">G</text>
<text x="78.33" y="311.33" font-size="6.60" text-anchor="middle" fill="#333" stroke="#333" stroke-width="0.18">G</text>
<text x="86.11" y="311.33" font-size="6.60" text-anchor="middle" fill="#333" stroke="#333" stroke-width="0.18">T</text>
<text x="93.89" y="311.33" font-size="6.60" text-anchor="middle" fill="#333" stroke="#333" stroke-width="0.18">G</text>
<text x="101.67" y="311.33" font-size="6.60" text-anchor="middle" fill="#333" stroke="#333" stroke-width="0.18">C</text>
<text x="109.45" y="311.33" font-size="6.60" text-anchor="middle" fill="#333" stroke="#333" stroke-width="0.18">C</text>
<text x="117.23" y="311.33" font-size="6.60" text-anchor="middle" fill="#333" stroke="#333" stroke-width="0.18">A</text>
<text x="125.01" y="311.33" font-size="6.60" text-anchor="middle" fill="#333" stroke="#333" stroke-width="0.18">G</text>
<text x="132.79" y="311.33" font-size="6.60" text-anchor="middle" fill="#333" stroke="#333" stroke-width="0.18">C</text>
<line x1="139.77" y1="309.25" x2="141.37" y2="309.25" stroke="#666" stroke-width="0.7"/>
<line x1="147.55" y1="309.25" x2="149.15" y2="309.25" stroke="#666" stroke-width="0.7"/>
<text x="156.13" y="311.33" font-size="6.60" text-anchor="middle" fill="#333" stroke="#333" stroke-width="0.18">G</text>
<text x="163.91" y="311.33" font-size="6.60" text-anchor="middle" fill="#333" stroke="#333" stroke-width="0.18">T</text>
<text x="171.69" y="311.33" font-size="6.60" text-anchor="middle" fill="#333" stroke="#333" stroke-width="0.18">A</text>
<text x="179.47" y="311.33" font-size="6.60" text-anchor="middle" fill="#333" stroke="#333" stroke-width="0.18">T</text>
<text x="187.25" y="311.33" font-size="6.60" text-anchor="middle" fill="#333" stroke="#333" stroke-width="0.18">G</text>
<text x="195.03" y="311.33" font-size="6.60" text-anchor="middle" fill="#333" stroke="#333" stroke-width="0.18">A</text>
<text x="202.81" y="311.33" font-size="6.60" text-anchor="middle" fill="#333" stroke="#333" stroke-width="0.18">G</text>
<text x="210.59" y="311.33" font-size="6.60" text-anchor="middle" fill="#333" stroke="#333" stroke-width="0.18">G</text>
<text x="218.37" y="311.33" font-size="6.60" text-anchor="middle" fill="#333" stroke="#333" stroke-width="0.18">A</text>
<text x="226.15" y="311.33" font-size="6.60" text-anchor="middle" fill="#333" stroke="#333" stroke-width="0.18">G</text>
<text x="233.93" y="311.33" font-size="6.60" text-anchor="middle" fill="#333" stroke="#333" stroke-width="0.18">T</text>
<text x="241.71" y="311.33" font-size="6.60" text-anchor="middle" fill="#333" stroke="#333" stroke-width="0.18">G</text>
<text x="249.49" y="311.33" font-size="6.60" text-anchor="middle" fill="#333" stroke="#333" stroke-width="0.18">C</text>
<text x="257.27" y="311.33" font-size="6.60" text-anchor="middle" fill="#333" stroke="#333" stroke-width="0.18">A</text>
<text x="265.05" y="311.33" font-size="6.60" text-anchor="middle" fill="#333" stroke="#333" stroke-width="0.18">T</text>
<text x="272.83" y="311.33" font-size="6.60" text-anchor="middle" fill="#333" stroke="#333" stroke-width="0.18">T</text>
<text x="280.61" y="311.33" font-size="6.60" text-anchor="middle" fill="#333" stroke="#333" stroke-width="0.18">A</text>
<text x="288.39" y="311.33" font-size="6.60" text-anchor="middle" fill="#333" stroke="#333" stroke-width="0.18">T</text>
<text x="296.17" y="311.33" font-size="6.60" text-anchor="middle" fill="#333" stroke="#333" stroke-width="0.18">C</text>
<text x="303.95" y="311.33" font-size="6.60" text-anchor="middle" fill="#333" stroke="#333" stroke-width="0.18">G</text>
<text x="311.73" y="311.33" font-size="6.60" text-anchor="middle" fill="#333" stroke="#333" stroke-width="0.18">T</text>
<text x="319.51" y="311.33" font-size="6.60" text-anchor="middle" fill="#333" stroke="#333" stroke-width="0.18">T</text>
<line x1="167.80" y1="258.90" x2="167.80" y2="312.80" stroke="#222" stroke-width="0.9" stroke-dasharray="1.6,0.8"/>
<text x="156.70" y="237.29" font-size="6.37" stroke="#222" stroke-width="0.18">Cut site</text>
<line x1="167.80" y1="237.60" x2="167.80" y2="244.00" stroke="#111" stroke-width="0.7"/>
<path d="M166.20,243.2 L167.80,246.3 L169.40,243.2 Z" stroke="#111" stroke-width="0.3" fill="#111"/>
<text x="104.40" y="220.58" font-size="6.32" fill="#222" stroke="#222" stroke-width="0.18"><tspan>CRISPResso analysis, </tspan><tspan font-style="italic">Dnmt3b</tspan><tspan>, in vivo, hippocampus</tspan></text>
<text x="328.00" y="254.96" font-size="6.29" stroke="#222" stroke-width="0.18">Reference</text>
<text x="328.00" y="266.50" font-size="6.26" stroke="#222" stroke-width="0.18">80.57% (55,329 reads)</text>
<text x="328.00" y="274.20" font-size="6.26" stroke="#222" stroke-width="0.18">6.17% (4235 reads)</text>
<text x="328.00" y="281.90" font-size="6.26" stroke="#222" stroke-width="0.18">6.10% (4187 reads)</text>
<text x="328.00" y="289.60" font-size="6.26" stroke="#222" stroke-width="0.18">0.53% (366 reads)</text>
<text x="328.00" y="297.30" font-size="6.26" stroke="#222" stroke-width="0.18">0.51% (351 reads)</text>
<text x="328.00" y="305.00" font-size="6.26" stroke="#222" stroke-width="0.18">0.22% (151 reads)</text>
<text x="328.00" y="312.70" font-size="6.26" stroke="#222" stroke-width="0.18">0.20% (139 reads)</text>
<text x="426.00" y="219.00" font-size="11.50" fill="#000" font-weight="bold" stroke="#000" stroke-width="0.18">d</text>
<text x="465.80" y="221.17" font-size="6.31" fill="#222" stroke="#222" stroke-width="0.18"><tspan font-style="italic">Dnmt3b</tspan><tspan>, in vivo, hippocampus</tspan></text>
<line x1="448.70" y1="256.50" x2="448.70" y2="352.00" stroke="#333" stroke-width="0.8"/>
<line x1="447.10" y1="352.00" x2="448.70" y2="352.00" stroke="#333" stroke-width="0.8"/>
<text x="445.70" y="354.27" font-size="6.30" text-anchor="end" stroke="#222" stroke-width="0.18">0</text>
<line x1="447.10" y1="328.14" x2="448.70" y2="328.14" stroke="#333" stroke-width="0.8"/>
<text x="445.70" y="330.41" font-size="6.30" text-anchor="end" stroke="#222" stroke-width="0.18">2</text>
<line x1="447.10" y1="304.28" x2="448.70" y2="304.28" stroke="#333" stroke-width="0.8"/>
<text x="445.70" y="306.55" font-size="6.30" text-anchor="end" stroke="#222" stroke-width="0.18">4</text>
<line x1="447.10" y1="280.42" x2="448.70" y2="280.42" stroke="#333" stroke-width="0.8"/>
<text x="445.70" y="282.69" font-size="6.30" text-anchor="end" stroke="#222" stroke-width="0.18">6</text>
<line x1="447.10" y1="256.56" x2="448.70" y2="256.56" stroke="#333" stroke-width="0.8"/>
<text x="445.70" y="259.63" font-size="6.30" text-anchor="end" stroke="#222" stroke-width="0.18">8</text>
<line x1="447.10" y1="256.50" x2="449.90" y2="256.50" stroke="#333" stroke-width="0.8"/>
<line x1="448.70" y1="227.50" x2="448.70" y2="251.60" stroke="#333" stroke-width="0.8"/>
<line x1="447.10" y1="227.50" x2="448.70" y2="227.50" stroke="#333" stroke-width="0.8"/>
<text x="445.70" y="229.77" font-size="6.30" text-anchor="end" stroke="#222" stroke-width="0.18">80</text>
<line x1="447.10" y1="251.60" x2="448.70" y2="251.60" stroke="#333" stroke-width="0.8"/>
<text x="445.70" y="253.27" font-size="6.30" text-anchor="end" stroke="#222" stroke-width="0.18">60</text>
<line x1="448.70" y1="251.60" x2="449.90" y2="251.60" stroke="#333" stroke-width="0.8"/>
<line x1="448.70" y1="352.00" x2="558.60" y2="352.00" stroke="#333" stroke-width="0.8"/>
<line x1="448.40" y1="352.00" x2="448.40" y2="353.60" stroke="#333" stroke-width="0.8"/>
<text x="448.40" y="361.27" font-size="6.30" text-anchor="middle" stroke="#222" stroke-width="0.18">−50</text>
<line x1="498.40" y1="352.00" x2="498.40" y2="353.60" stroke="#333" stroke-width="0.8"/>
<text x="498.40" y="361.27" font-size="6.30" text-anchor="middle" stroke="#222" stroke-width="0.18">0</text>
<line x1="548.40" y1="352.00" x2="548.40" y2="353.60" stroke="#333" stroke-width="0.8"/>
<text x="548.40" y="361.27" font-size="6.30" text-anchor="middle" stroke="#222" stroke-width="0.18">50</text>
<text x="486.00" y="371.66" font-size="6.27" stroke="#222" stroke-width="0.18">Indel size</text>
<text x="431.00" y="290.00" font-size="6.20" text-anchor="middle" transform="rotate(-90 431.00 290.00)" stroke="#222" stroke-width="0.18">Reads with indels (%)</text>
<rect x="457.00" y="351.76" width="1.50" height="0.24" fill="#2196f3"/>
<rect x="464.10" y="349.61" width="3.10" height="2.39" fill="#2196f3"/>
<rect x="467.20" y="351.40" width="2.30" height="0.60" fill="#2196f3"/>
<rect x="474.30" y="349.61" width="2.70" height="2.39" fill="#2196f3"/>
<rect x="477.00" y="350.81" width="2.40" height="1.19" fill="#2196f3"/>
<rect x="479.40" y="349.61" width="2.70" height="2.39" fill="#2196f3"/>
<rect x="482.10" y="348.66" width="2.80" height="3.34" fill="#2196f3"/>
<rect x="484.90" y="350.81" width="1.50" height="1.19" fill="#2196f3"/>
<rect x="486.40" y="349.61" width="1.60" height="2.39" fill="#2196f3"/>
<rect x="488.00" y="347.82" width="1.60" height="4.18" fill="#2196f3"/>
<rect x="489.60" y="345.44" width="2.30" height="6.56" fill="#2196f3"/>
<rect x="491.90" y="347.82" width="1.30" height="4.18" fill="#2196f3"/>
<rect x="493.20" y="328.14" width="2.20" height="23.86" fill="#2196f3"/>
<rect x="495.40" y="269.68" width="2.50" height="82.32" fill="#2196f3"/>
<rect x="500.60" y="317.40" width="1.80" height="34.60" fill="#2196f3"/>
<rect x="502.40" y="346.04" width="1.20" height="5.96" fill="#2196f3"/>
<rect x="503.60" y="350.21" width="1.40" height="1.79" fill="#2196f3"/>
<rect x="524.50" y="348.90" width="4.30" height="3.10" fill="#2196f3"/>
<rect x="528.80" y="347.47" width="3.20" height="4.53" fill="#2196f3"/>
<rect x="532.00" y="350.33" width="2.90" height="1.67" fill="#2196f3"/>
<rect x="534.90" y="351.64" width="4.00" height="0.36" fill="#2196f3"/>
<rect x="538.90" y="348.90" width="3.90" height="3.10" fill="#2196f3"/>
<rect x="542.80" y="347.47" width="3.20" height="4.53" fill="#2196f3"/>
<rect x="546.00" y="346.63" width="5.80" height="5.37" fill="#2196f3"/>
<rect x="551.80" y="349.38" width="2.90" height="2.62" fill="#2196f3"/>
<rect x="554.70" y="346.04" width="3.50" height="5.96" fill="#2196f3"/>
<rect x="498.20" y="256.50" width="2.50" height="95.50" fill="#2196f3"/>
<rect x="498.20" y="235.20" width="2.50" height="16.40" fill="#2196f3"/>
<line x1="499.45" y1="233.60" x2="499.45" y2="235.20" stroke="#aaa" stroke-width="0.5"/>
<line x1="498.60" y1="233.60" x2="500.30" y2="233.60" stroke="#aaa" stroke-width="0.5"/>
<line x1="465.70" y1="349.61" x2="465.70" y2="345.92" stroke="#999" stroke-width="0.5"/>
<line x1="464.80" y1="345.92" x2="466.60" y2="345.92" stroke="#888" stroke-width="0.5"/>
<line x1="475.60" y1="349.61" x2="475.60" y2="347.11" stroke="#999" stroke-width="0.5"/>
<line x1="474.70" y1="347.11" x2="476.50" y2="347.11" stroke="#888" stroke-width="0.5"/>
<line x1="480.60" y1="349.61" x2="480.60" y2="345.08" stroke="#999" stroke-width="0.5"/>
<line x1="479.70" y1="345.08" x2="481.50" y2="345.08" stroke="#888" stroke-width="0.5"/>
<line x1="483.70" y1="348.66" x2="483.70" y2="347.11" stroke="#999" stroke-width="0.5"/>
<line x1="482.80" y1="347.11" x2="484.60" y2="347.11" stroke="#888" stroke-width="0.5"/>
<line x1="486.40" y1="349.61" x2="486.40" y2="346.87" stroke="#999" stroke-width="0.5"/>
<line x1="485.50" y1="346.87" x2="487.30" y2="346.87" stroke="#888" stroke-width="0.5"/>
<line x1="488.40" y1="347.82" x2="488.40" y2="341.98" stroke="#999" stroke-width="0.5"/>
<line x1="487.50" y1="341.98" x2="489.30" y2="341.98" stroke="#888" stroke-width="0.5"/>
<line x1="490.80" y1="345.44" x2="490.80" y2="338.04" stroke="#999" stroke-width="0.5"/>
<line x1="489.90" y1="338.04" x2="491.70" y2="338.04" stroke="#888" stroke-width="0.5"/>
<line x1="493.30" y1="347.82" x2="493.30" y2="341.74" stroke="#999" stroke-width="0.5"/>
<line x1="492.40" y1="341.74" x2="494.20" y2="341.74" stroke="#888" stroke-width="0.5"/>
<line x1="494.30" y1="328.14" x2="494.30" y2="315.02" stroke="#999" stroke-width="0.5"/>
<line x1="493.40" y1="315.02" x2="495.20" y2="315.02" stroke="#888" stroke-width="0.5"/>
<line x1="496.60" y1="269.68" x2="496.60" y2="256.56" stroke="#999" stroke-width="0.5"/>
<line x1="495.70" y1="256.56" x2="497.50" y2="256.56" stroke="#888" stroke-width="0.5"/>
<line x1="497.60" y1="346.04" x2="497.60" y2="331.72" stroke="#999" stroke-width="0.5"/>
<line x1="496.70" y1="331.72" x2="498.50" y2="331.72" stroke="#888" stroke-width="0.5"/>
<line x1="500.40" y1="317.40" x2="500.40" y2="294.74" stroke="#999" stroke-width="0.5"/>
<line x1="499.50" y1="294.74" x2="501.30" y2="294.74" stroke="#888" stroke-width="0.5"/>
<line x1="525.60" y1="348.90" x2="525.60" y2="344.25" stroke="#999" stroke-width="0.5"/>
<line x1="524.70" y1="344.25" x2="526.50" y2="344.25" stroke="#888" stroke-width="0.5"/>
<line x1="528.80" y1="347.47" x2="528.80" y2="346.39" stroke="#999" stroke-width="0.5"/>
<line x1="527.90" y1="346.39" x2="529.70" y2="346.39" stroke="#888" stroke-width="0.5"/>
<line x1="530.90" y1="347.47" x2="530.90" y2="344.60" stroke="#999" stroke-width="0.5"/>
<line x1="530.00" y1="344.60" x2="531.80" y2="344.60" stroke="#888" stroke-width="0.5"/>
<line x1="533.80" y1="350.33" x2="533.80" y2="348.66" stroke="#999" stroke-width="0.5"/>
<line x1="532.90" y1="348.66" x2="534.70" y2="348.66" stroke="#888" stroke-width="0.5"/>
<line x1="540.00" y1="348.90" x2="540.00" y2="346.39" stroke="#999" stroke-width="0.5"/>
<line x1="539.10" y1="346.39" x2="540.90" y2="346.39" stroke="#888" stroke-width="0.5"/>
<line x1="544.80" y1="347.47" x2="544.80" y2="342.81" stroke="#999" stroke-width="0.5"/>
<line x1="543.90" y1="342.81" x2="545.70" y2="342.81" stroke="#888" stroke-width="0.5"/>
<line x1="547.90" y1="346.63" x2="547.90" y2="341.74" stroke="#999" stroke-width="0.5"/>
<line x1="547.00" y1="341.74" x2="548.80" y2="341.74" stroke="#888" stroke-width="0.5"/>
<line x1="551.10" y1="346.63" x2="551.10" y2="344.96" stroke="#999" stroke-width="0.5"/>
<line x1="550.20" y1="344.96" x2="552.00" y2="344.96" stroke="#888" stroke-width="0.5"/>
<line x1="556.10" y1="346.04" x2="556.10" y2="339.59" stroke="#999" stroke-width="0.5"/>
<line x1="555.20" y1="339.59" x2="557.00" y2="339.59" stroke="#888" stroke-width="0.5"/>
<rect x="506.00" y="351.40" width="1.00" height="0.60" fill="#555"/>
<rect x="508.00" y="351.40" width="1.00" height="0.60" fill="#555"/>
<rect x="510.00" y="351.40" width="1.00" height="0.60" fill="#555"/>
<rect x="512.00" y="351.40" width="1.00" height="0.60" fill="#555"/>
<rect x="514.00" y="351.40" width="1.00" height="0.60" fill="#555"/>
<rect x="516.00" y="351.40" width="1.00" height="0.60" fill="#555"/>
<rect x="518.00" y="351.40" width="1.00" height="0.60" fill="#555"/>
<rect x="520.00" y="351.40" width="1.00" height="0.60" fill="#555"/>
<rect x="522.00" y="351.40" width="1.00" height="0.60" fill="#555"/>
<line x1="448.70" y1="352.00" x2="558.60" y2="352.00" stroke="#333" stroke-width="0.8"/>
<text x="13.20" y="389.20" font-size="11.50" fill="#000" font-weight="bold" stroke="#000" stroke-width="0.18">e</text>
<text x="233.00" y="391.37" font-size="6.30" fill="#222" stroke="#222" stroke-width="0.18"><tspan>AAV integration, </tspan><tspan font-style="italic">Dnmt3b</tspan><tspan>, in vivo, hippocampus</tspan></text>
<rect x="15.90" y="399.80" width="7.90" height="7.80" fill="#b7e1be"/>
<rect x="23.45" y="399.80" width="7.90" height="7.80" fill="#fdfbd0"/>
<rect x="31.00" y="399.80" width="7.90" height="7.80" fill="#b7e1be"/>
<rect x="38.55" y="399.80" width="7.90" height="7.80" fill="#b7e1be"/>
<rect x="46.10" y="399.80" width="7.90" height="7.80" fill="#fdfbd0"/>
<rect x="53.65" y="399.80" width="7.90" height="7.80" fill="#b7e1be"/>
<rect x="61.20" y="399.80" width="7.90" height="7.80" fill="#fdfbd0"/>
<rect x="68.75" y="399.80" width="7.90" height="7.80" fill="#fdfbd0"/>
<rect x="76.30" y="399.80" width="7.90" height="7.80" fill="#fdfbd0"/>
<rect x="83.85" y="399.80" width="7.90" height="7.80" fill="#dcd4ee"/>
<rect x="91.40" y="399.80" width="7.90" height="7.80" fill="#fdfbd0"/>
<rect x="98.95" y="399.80" width="7.90" height="7.80" fill="#fddcc8"/>
<rect x="106.50" y="399.80" width="7.90" height="7.80" fill="#fddcc8"/>
<rect x="114.05" y="399.80" width="7.90" height="7.80" fill="#b7e1be"/>
<rect x="121.60" y="399.80" width="7.90" height="7.80" fill="#fdfbd0"/>
<rect x="129.15" y="399.80" width="7.90" height="7.80" fill="#fddcc8"/>
<rect x="136.70" y="399.80" width="7.90" height="7.80" fill="#fdfbd0"/>
<rect x="144.25" y="399.80" width="7.90" height="7.80" fill="#fdfbd0"/>
<rect x="151.80" y="399.80" width="7.90" height="7.80" fill="#fdfbd0"/>
<rect x="159.35" y="399.80" width="7.90" height="7.80" fill="#dcd4ee"/>
<text x="19.68" y="405.85" font-size="6.40" text-anchor="middle" fill="#333" stroke="#333" stroke-width="0.18">A</text>
<text x="27.22" y="405.85" font-size="6.40" text-anchor="middle" fill="#333" stroke="#333" stroke-width="0.18">G</text>
<text x="34.77" y="405.85" font-size="6.40" text-anchor="middle" fill="#333" stroke="#333" stroke-width="0.18">A</text>
<text x="42.32" y="405.85" font-size="6.40" text-anchor="middle" fill="#333" stroke="#333" stroke-width="0.18">A</text>
<text x="49.88" y="405.85" font-size="6.40" text-anchor="middle" fill="#333" stroke="#333" stroke-width="0.18">G</text>
<text x="57.42" y="405.85" font-size="6.40" text-anchor="middle" fill="#333" stroke="#333" stroke-width="0.18">A</text>
<text x="64.97" y="405.85" font-size="6.40" text-anchor="middle" fill="#333" stroke="#333" stroke-width="0.18">G</text>
<text x="72.53" y="405.85" font-size="6.40" text-anchor="middle" fill="#333" stroke="#333" stroke-width="0.18">G</text>
<text x="80.08" y="405.85" font-size="6.40" text-anchor="middle" fill="#333" stroke="#333" stroke-width="0.18">G</text>
<text x="87.63" y="405.85" font-size="6.40" text-anchor="middle" fill="#333" stroke="#333" stroke-width="0.18">T</text>
<text x="95.18" y="405.85" font-size="6.40" text-anchor="middle" fill="#333" stroke="#333" stroke-width="0.18">G</text>
<text x="102.73" y="405.85" font-size="6.40" text-anchor="middle" fill="#333" stroke="#333" stroke-width="0.18">C</text>
<text x="110.28" y="405.85" font-size="6.40" text-anchor="middle" fill="#333" stroke="#333" stroke-width="0.18">C</text>
<text x="117.83" y="405.85" font-size="6.40" text-anchor="middle" fill="#333" stroke="#333" stroke-width="0.18">A</text>
<text x="125.38" y="405.85" font-size="6.40" text-anchor="middle" fill="#333" stroke="#333" stroke-width="0.18">G</text>
<text x="132.93" y="405.85" font-size="6.40" text-anchor="middle" fill="#333" stroke="#333" stroke-width="0.18">C</text>
<text x="140.47" y="405.85" font-size="6.40" text-anchor="middle" fill="#333" stroke="#333" stroke-width="0.18">G</text>
<text x="148.03" y="405.85" font-size="6.40" text-anchor="middle" fill="#333" stroke="#333" stroke-width="0.18">G</text>
<text x="155.58" y="405.85" font-size="6.40" text-anchor="middle" fill="#333" stroke="#333" stroke-width="0.18">G</text>
<text x="163.12" y="405.85" font-size="6.40" text-anchor="middle" fill="#333" stroke="#333" stroke-width="0.18">T</text>
<rect x="362.20" y="399.80" width="7.90" height="7.80" fill="#b7e1be"/>
<rect x="369.75" y="399.80" width="7.90" height="7.80" fill="#dcd4ee"/>
<rect x="377.30" y="399.80" width="7.90" height="7.80" fill="#fdfbd0"/>
<rect x="384.85" y="399.80" width="7.90" height="7.80" fill="#b7e1be"/>
<rect x="392.40" y="399.80" width="7.90" height="7.80" fill="#fdfbd0"/>
<rect x="399.95" y="399.80" width="7.90" height="7.80" fill="#fdfbd0"/>
<rect x="407.50" y="399.80" width="7.90" height="7.80" fill="#b7e1be"/>
<rect x="415.05" y="399.80" width="7.90" height="7.80" fill="#fdfbd0"/>
<rect x="422.60" y="399.80" width="7.90" height="7.80" fill="#dcd4ee"/>
<rect x="430.15" y="399.80" width="7.90" height="7.80" fill="#fdfbd0"/>
<rect x="437.70" y="399.80" width="7.90" height="7.80" fill="#fddcc8"/>
<rect x="445.25" y="399.80" width="7.90" height="7.80" fill="#b7e1be"/>
<rect x="452.80" y="399.80" width="7.90" height="7.80" fill="#dcd4ee"/>
<rect x="460.35" y="399.80" width="7.90" height="7.80" fill="#dcd4ee"/>
<rect x="467.90" y="399.80" width="7.90" height="7.80" fill="#b7e1be"/>
<rect x="475.45" y="399.80" width="7.90" height="7.80" fill="#dcd4ee"/>
<rect x="483.00" y="399.80" width="7.90" height="7.80" fill="#fddcc8"/>
<rect x="490.55" y="399.80" width="7.90" height="7.80" fill="#fdfbd0"/>
<rect x="498.10" y="399.80" width="7.90" height="7.80" fill="#dcd4ee"/>
<rect x="505.65" y="399.80" width="7.90" height="7.80" fill="#dcd4ee"/>
<text x="365.97" y="405.85" font-size="6.40" text-anchor="middle" fill="#333" stroke="#333" stroke-width="0.18">A</text>
<text x="373.52" y="405.85" font-size="6.40" text-anchor="middle" fill="#333" stroke="#333" stroke-width="0.18">T</text>
<text x="381.07" y="405.85" font-size="6.40" text-anchor="middle" fill="#333" stroke="#333" stroke-width="0.18">G</text>
<text x="388.62" y="405.85" font-size="6.40" text-anchor="middle" fill="#333" stroke="#333" stroke-width="0.18">A</text>
<text x="396.17" y="405.85" font-size="6.40" text-anchor="middle" fill="#333" stroke="#333" stroke-width="0.18">G</text>
<text x="403.72" y="405.85" font-size="6.40" text-anchor="middle" fill="#333" stroke="#333" stroke-width="0.18">G</text>
<text x="411.27" y="405.85" font-size="6.40" text-anchor="middle" fill="#333" stroke="#333" stroke-width="0.18">A</text>
<text x="418.82" y="405.85" font-size="6.40" text-anchor="middle" fill="#333" stroke="#333" stroke-width="0.18">G</text>
<text x="426.37" y="405.85" font-size="6.40" text-anchor="middle" fill="#333" stroke="#333" stroke-width="0.18">T</text>
<text x="433.92" y="405.85" font-size="6.40" text-anchor="middle" fill="#333" stroke="#333" stroke-width="0.18">G</text>
<text x="441.47" y="405.85" font-size="6.40" text-anchor="middle" fill="#333" stroke="#333" stroke-width="0.18">C</text>
<text x="449.02" y="405.85" font-size="6.40" text-anchor="middle" fill="#333" stroke="#333" stroke-width="0.18">A</text>
<text x="456.57" y="405.85" font-size="6.40" text-anchor="middle" fill="#333" stroke="#333" stroke-width="0.18">T</text>
<text x="464.12" y="405.85" font-size="6.40" text-anchor="middle" fill="#333" stroke="#333" stroke-width="0.18">T</text>
<text x="471.67" y="405.85" font-size="6.40" text-anchor="middle" fill="#333" stroke="#333" stroke-width="0.18">A</text>
<text x="479.22" y="405.85" font-size="6.40" text-anchor="middle" fill="#333" stroke="#333" stroke-width="0.18">T</text>
<text x="486.77" y="405.85" font-size="6.40" text-anchor="middle" fill="#333" stroke="#333" stroke-width="0.18">C</text>
<text x="494.32" y="405.85" font-size="6.40" text-anchor="middle" fill="#333" stroke="#333" stroke-width="0.18">G</text>
<text x="501.88" y="405.85" font-size="6.40" text-anchor="middle" fill="#333" stroke="#333" stroke-width="0.18">T</text>
<text x="509.42" y="405.85" font-size="6.40" text-anchor="middle" fill="#333" stroke="#333" stroke-width="0.18">T</text>
<line x1="170.00" y1="403.50" x2="357.00" y2="403.50" stroke="#c4c4c4" stroke-width="0.4"/>
<text x="526.90" y="405.85" font-size="6.26" stroke="#222" stroke-width="0.18">Reference</text>
<rect x="15.90" y="421.80" width="7.90" height="7.86" fill="#b7e1be"/>
<rect x="23.45" y="421.80" width="7.90" height="7.86" fill="#fdfbd0"/>
<rect x="31.00" y="421.80" width="7.90" height="7.86" fill="#b7e1be"/>
<rect x="38.55" y="421.80" width="7.90" height="7.86" fill="#b7e1be"/>
<rect x="46.10" y="421.80" width="7.90" height="7.86" fill="#fdfbd0"/>
<rect x="53.65" y="421.80" width="7.90" height="7.86" fill="#b7e1be"/>
<rect x="61.20" y="421.80" width="7.90" height="7.86" fill="#fdfbd0"/>
<rect x="68.75" y="421.80" width="7.90" height="7.86" fill="#fdfbd0"/>
<rect x="76.30" y="421.80" width="7.90" height="7.86" fill="#fdfbd0"/>
<rect x="83.85" y="421.80" width="7.90" height="7.86" fill="#dcd4ee"/>
<rect x="91.40" y="421.80" width="7.90" height="7.86" fill="#fdfbd0"/>
<rect x="98.95" y="421.80" width="7.90" height="7.86" fill="#fddcc8"/>
<rect x="106.50" y="421.80" width="7.90" height="7.86" fill="#fddcc8"/>
<rect x="114.05" y="421.80" width="7.90" height="7.86" fill="#b7e1be"/>
<rect x="121.60" y="421.80" width="7.90" height="7.86" fill="#fdfbd0"/>
<rect x="129.15" y="421.80" width="7.90" height="7.86" fill="#fddcc8"/>
<rect x="136.70" y="421.80" width="7.90" height="7.86" fill="#fdfbd0"/>
<rect x="144.25" y="421.80" width="7.90" height="7.86" fill="#fdfbd0"/>
<rect x="151.80" y="421.80" width="7.90" height="7.86" fill="#fdfbd0"/>
<rect x="159.35" y="421.80" width="7.90" height="7.86" fill="#dcd4ee"/>
<text x="19.68" y="427.88" font-size="6.40" text-anchor="middle" fill="#333" stroke="#333" stroke-width="0.18">A</text>
<text x="27.22" y="427.88" font-size="6.40" text-anchor="middle" fill="#333" stroke="#333" stroke-width="0.18">G</text>
<text x="34.77" y="427.88" font-size="6.40" text-anchor="middle" fill="#333" stroke="#333" stroke-width="0.18">A</text>
<text x="42.32" y="427.88" font-size="6.40" text-anchor="middle" fill="#333" stroke="#333" stroke-width="0.18">A</text>
<text x="49.88" y="427.88" font-size="6.40" text-anchor="middle" fill="#333" stroke="#333" stroke-width="0.18">G</text>
<text x="57.42" y="427.88" font-size="6.40" text-anchor="middle" fill="#333" stroke="#333" stroke-width="0.18">A</text>
<text x="64.97" y="427.88" font-size="6.40" text-anchor="middle" fill="#333" stroke="#333" stroke-width="0.18">G</text>
<text x="72.53" y="427.88" font-size="6.40" text-anchor="middle" fill="#333" stroke="#333" stroke-width="0.18">G</text>
<text x="80.08" y="427.88" font-size="6.40" text-anchor="middle" fill="#333" stroke="#333" stroke-width="0.18">G</text>
<text x="87.63" y="427.88" font-size="6.40" text-anchor="middle" fill="#333" stroke="#333" stroke-width="0.18">T</text>
<text x="95.18" y="427.88" font-size="6.40" text-anchor="middle" fill="#333" stroke="#333" stroke-width="0.18">G</text>
<text x="102.73" y="427.88" font-size="6.40" text-anchor="middle" fill="#333" stroke="#333" stroke-width="0.18">C</text>
<text x="110.28" y="427.88" font-size="6.40" text-anchor="middle" fill="#333" stroke="#333" stroke-width="0.18">C</text>
<text x="117.83" y="427.88" font-size="6.40" text-anchor="middle" fill="#333" stroke="#333" stroke-width="0.18">A</text>
<text x="125.38" y="427.88" font-size="6.40" text-anchor="middle" fill="#333" stroke="#333" stroke-width="0.18">G</text>
<text x="132.93" y="427.88" font-size="6.40" text-anchor="middle" fill="#333" stroke="#333" stroke-width="0.18">C</text>
<text x="140.47" y="427.88" font-size="6.40" text-anchor="middle" fill="#333" stroke="#333" stroke-width="0.18">G</text>
<text x="148.03" y="427.88" font-size="6.40" text-anchor="middle" fill="#333" stroke="#333" stroke-width="0.18">G</text>
<text x="155.58" y="427.88" font-size="6.40" text-anchor="middle" fill="#333" stroke="#333" stroke-width="0.18">G</text>
<text x="163.12" y="427.88" font-size="6.40" text-anchor="middle" fill="#333" stroke="#333" stroke-width="0.18">T</text>
<rect x="362.20" y="421.80" width="7.90" height="7.86" fill="#b7e1be"/>
<rect x="369.75" y="421.80" width="7.90" height="7.86" fill="#dcd4ee"/>
<rect x="377.30" y="421.80" width="7.90" height="7.86" fill="#fdfbd0"/>
<rect x="384.85" y="421.80" width="7.90" height="7.86" fill="#b7e1be"/>
<rect x="392.40" y="421.80" width="7.90" height="7.86" fill="#fdfbd0"/>
<rect x="399.95" y="421.80" width="7.90" height="7.86" fill="#fdfbd0"/>
<rect x="407.50" y="421.80" width="7.90" height="7.86" fill="#b7e1be"/>
<rect x="415.05" y="421.80" width="7.90" height="7.86" fill="#fdfbd0"/>
<rect x="422.60" y="421.80" width="7.90" height="7.86" fill="#dcd4ee"/>
<rect x="430.15" y="421.80" width="7.90" height="7.86" fill="#fdfbd0"/>
<rect x="437.70" y="421.80" width="7.90" height="7.86" fill="#fddcc8"/>
<rect x="445.25" y="421.80" width="7.90" height="7.86" fill="#b7e1be"/>
<rect x="452.80" y="421.80" width="7.90" height="7.86" fill="#dcd4ee"/>
<rect x="460.35" y="421.80" width="7.90" height="7.86" fill="#dcd4ee"/>
<rect x="467.90" y="421.80" width="7.90" height="7.86" fill="#b7e1be"/>
<rect x="475.45" y="421.80" width="7.90" height="7.86" fill="#dcd4ee"/>
<rect x="483.00" y="421.80" width="7.90" height="7.86" fill="#fddcc8"/>
<rect x="490.55" y="421.80" width="7.90" height="7.86" fill="#fdfbd0"/>
<rect x="498.10" y="421.80" width="7.90" height="7.86" fill="#dcd4ee"/>
<rect x="505.65" y="421.80" width="7.90" height="7.86" fill="#dcd4ee"/>
<text x="365.97" y="427.88" font-size="6.40" text-anchor="middle" fill="#333" stroke="#333" stroke-width="0.18">A</text>
<text x="373.52" y="427.88" font-size="6.40" text-anchor="middle" fill="#333" stroke="#333" stroke-width="0.18">T</text>
<text x="381.07" y="427.88" font-size="6.40" text-anchor="middle" fill="#333" stroke="#333" stroke-width="0.18">G</text>
<text x="388.62" y="427.88" font-size="6.40" text-anchor="middle" fill="#333" stroke="#333" stroke-width="0.18">A</text>
<text x="396.17" y="427.88" font-size="6.40" text-anchor="middle" fill="#333" stroke="#333" stroke-width="0.18">G</text>
<text x="403.72" y="427.88" font-size="6.40" text-anchor="middle" fill="#333" stroke="#333" stroke-width="0.18">G</text>
<text x="411.27" y="427.88" font-size="6.40" text-anchor="middle" fill="#333" stroke="#333" stroke-width="0.18">A</text>
<text x="418.82" y="427.88" font-size="6.40" text-anchor="middle" fill="#333" stroke="#333" stroke-width="0.18">G</text>
<text x="426.37" y="427.88" font-size="6.40" text-anchor="middle" fill="#333" stroke="#333" stroke-width="0.18">T</text>
<text x="433.92" y="427.88" font-size="6.40" text-anchor="middle" fill="#333" stroke="#333" stroke-width="0.18">G</text>
<text x="441.47" y="427.88" font-size="6.40" text-anchor="middle" fill="#333" stroke="#333" stroke-width="0.18">C</text>
<text x="449.02" y="427.88" font-size="6.40" text-anchor="middle" fill="#333" stroke="#333" stroke-width="0.18">A</text>
<text x="456.57" y="427.88" font-size="6.40" text-anchor="middle" fill="#333" stroke="#333" stroke-width="0.18">T</text>
<text x="464.12" y="427.88" font-size="6.40" text-anchor="middle" fill="#333" stroke="#333" stroke-width="0.18">T</text>
<text x="471.67" y="427.88" font-size="6.40" text-anchor="middle" fill="#333" stroke="#333" stroke-width="0.18">A</text>
<text x="479.22" y="427.88" font-size="6.40" text-anchor="middle" fill="#333" stroke="#333" stroke-width="0.18">T</text>
<text x="486.77" y="427.88" font-size="6.40" text-anchor="middle" fill="#333" stroke="#333" stroke-width="0.18">C</text>
<text x="494.32" y="427.88" font-size="6.40" text-anchor="middle" fill="#333" stroke="#333" stroke-width="0.18">G</text>
<text x="501.88" y="427.88" font-size="6.40" text-anchor="middle" fill="#333" stroke="#333" stroke-width="0.18">T</text>
<text x="509.42" y="427.88" font-size="6.40" text-anchor="middle" fill="#333" stroke="#333" stroke-width="0.18">T</text>
<text x="170.00 177.42 184.84 192.26 199.68 207.10 214.52 221.94 229.36 236.78 244.20 251.62" y="428.70" font-size="7.0" font-family="Liberation Serif, serif" text-anchor="middle" fill="#e8393a" stroke="#e8393a" stroke-width="0.2">GGCCACTCCCTC</text>
<text x="275.10 282.52 289.94 297.36 304.78 312.20 319.62 327.04 334.46 341.88 349.30 356.72" y="428.70" font-size="7.0" font-family="Liberation Serif, serif" text-anchor="middle" fill="#e8393a" stroke="#e8393a" stroke-width="0.2">GCCGCCCGGGCA</text>
<line x1="255.60" y1="425.58" x2="270.80" y2="425.58" stroke="#e8393a" stroke-width="0.4" stroke-opacity="0.8"/>
<text x="526.90" y="428.85" font-size="6.30" stroke="#222" stroke-width="0.18">98 reads</text>
<rect x="15.90" y="429.36" width="7.90" height="7.86" fill="#b7e1be"/>
<rect x="23.45" y="429.36" width="7.90" height="7.86" fill="#fdfbd0"/>
<rect x="31.00" y="429.36" width="7.90" height="7.86" fill="#b7e1be"/>
<rect x="38.55" y="429.36" width="7.90" height="7.86" fill="#b7e1be"/>
<rect x="46.10" y="429.36" width="7.90" height="7.86" fill="#fdfbd0"/>
<rect x="53.65" y="429.36" width="7.90" height="7.86" fill="#b7e1be"/>
<rect x="61.20" y="429.36" width="7.90" height="7.86" fill="#fdfbd0"/>
<rect x="68.75" y="429.36" width="7.90" height="7.86" fill="#fdfbd0"/>
<rect x="76.30" y="429.36" width="7.90" height="7.86" fill="#fdfbd0"/>
<rect x="83.85" y="429.36" width="7.90" height="7.86" fill="#dcd4ee"/>
<rect x="91.40" y="429.36" width="7.90" height="7.86" fill="#fdfbd0"/>
<rect x="98.95" y="429.36" width="7.90" height="7.86" fill="#fddcc8"/>
<rect x="106.50" y="429.36" width="7.90" height="7.86" fill="#fddcc8"/>
<rect x="114.05" y="429.36" width="7.90" height="7.86" fill="#b7e1be"/>
<rect x="121.60" y="429.36" width="7.90" height="7.86" fill="#fdfbd0"/>
<rect x="129.15" y="429.36" width="7.90" height="7.86" fill="#fddcc8"/>
<rect x="136.70" y="429.36" width="7.90" height="7.86" fill="#fdfbd0"/>
<rect x="144.25" y="429.36" width="7.90" height="7.86" fill="#fdfbd0"/>
<rect x="151.80" y="429.36" width="7.90" height="7.86" fill="#fdfbd0"/>
<rect x="159.35" y="429.36" width="7.90" height="7.86" fill="#dcd4ee"/>
<text x="19.68" y="435.44" font-size="6.40" text-anchor="middle" fill="#333" stroke="#333" stroke-width="0.18">A</text>
<text x="27.22" y="435.44" font-size="6.40" text-anchor="middle" fill="#333" stroke="#333" stroke-width="0.18">G</text>
<text x="34.77" y="435.44" font-size="6.40" text-anchor="middle" fill="#333" stroke="#333" stroke-width="0.18">A</text>
<text x="42.32" y="435.44" font-size="6.40" text-anchor="middle" fill="#333" stroke="#333" stroke-width="0.18">A</text>
<text x="49.88" y="435.44" font-size="6.40" text-anchor="middle" fill="#333" stroke="#333" stroke-width="0.18">G</text>
<text x="57.42" y="435.44" font-size="6.40" text-anchor="middle" fill="#333" stroke="#333" stroke-width="0.18">A</text>
<text x="64.97" y="435.44" font-size="6.40" text-anchor="middle" fill="#333" stroke="#333" stroke-width="0.18">G</text>
<text x="72.53" y="435.44" font-size="6.40" text-anchor="middle" fill="#333" stroke="#333" stroke-width="0.18">G</text>
<text x="80.08" y="435.44" font-size="6.40" text-anchor="middle" fill="#333" stroke="#333" stroke-width="0.18">G</text>
<text x="87.63" y="435.44" font-size="6.40" text-anchor="middle" fill="#333" stroke="#333" stroke-width="0.18">T</text>
<text x="95.18" y="435.44" font-size="6.40" text-anchor="middle" fill="#333" stroke="#333" stroke-width="0.18">G</text>
<text x="102.73" y="435.44" font-size="6.40" text-anchor="middle" fill="#333" stroke="#333" stroke-width="0.18">C</text>
<text x="110.28" y="435.44" font-size="6.40" text-anchor="middle" fill="#333" stroke="#333" stroke-width="0.18">C</text>
<text x="117.83" y="435.44" font-size="6.40" text-anchor="middle" fill="#333" stroke="#333" stroke-width="0.18">A</text>
<text x="125.38" y="435.44" font-size="6.40" text-anchor="middle" fill="#333" stroke="#333" stroke-width="0.18">G</text>
<text x="132.93" y="435.44" font-size="6.40" text-anchor="middle" fill="#333" stroke="#333" stroke-width="0.18">C</text>
<text x="140.47" y="435.44" font-size="6.40" text-anchor="middle" fill="#333" stroke="#333" stroke-width="0.18">G</text>
<text x="148.03" y="435.44" font-size="6.40" text-anchor="middle" fill="#333" stroke="#333" stroke-width="0.18">G</text>
<text x="155.58" y="435.44" font-size="6.40" text-anchor="middle" fill="#333" stroke="#333" stroke-width="0.18">G</text>
<text x="163.12" y="435.44" font-size="6.40" text-anchor="middle" fill="#333" stroke="#333" stroke-width="0.18">T</text>
<rect x="362.20" y="429.36" width="7.90" height="7.86" fill="#b7e1be"/>
<rect x="369.75" y="429.36" width="7.90" height="7.86" fill="#dcd4ee"/>
<rect x="377.30" y="429.36" width="7.90" height="7.86" fill="#fdfbd0"/>
<rect x="384.85" y="429.36" width="7.90" height="7.86" fill="#b7e1be"/>
<rect x="392.40" y="429.36" width="7.90" height="7.86" fill="#fdfbd0"/>
<rect x="399.95" y="429.36" width="7.90" height="7.86" fill="#fdfbd0"/>
<rect x="407.50" y="429.36" width="7.90" height="7.86" fill="#b7e1be"/>
<rect x="415.05" y="429.36" width="7.90" height="7.86" fill="#fdfbd0"/>
<rect x="422.60" y="429.36" width="7.90" height="7.86" fill="#dcd4ee"/>
<rect x="430.15" y="429.36" width="7.90" height="7.86" fill="#fdfbd0"/>
<rect x="437.70" y="429.36" width="7.90" height="7.86" fill="#fddcc8"/>
<rect x="445.25" y="429.36" width="7.90" height="7.86" fill="#b7e1be"/>
<rect x="452.80" y="429.36" width="7.90" height="7.86" fill="#dcd4ee"/>
<rect x="460.35" y="429.36" width="7.90" height="7.86" fill="#dcd4ee"/>
<rect x="467.90" y="429.36" width="7.90" height="7.86" fill="#b7e1be"/>
<rect x="475.45" y="429.36" width="7.90" height="7.86" fill="#dcd4ee"/>
<rect x="483.00" y="429.36" width="7.90" height="7.86" fill="#fddcc8"/>
<rect x="490.55" y="429.36" width="7.90" height="7.86" fill="#fdfbd0"/>
<rect x="498.10" y="429.36" width="7.90" height="7.86" fill="#dcd4ee"/>
<rect x="505.65" y="429.36" width="7.90" height="7.86" fill="#dcd4ee"/>
<text x="365.97" y="435.44" font-size="6.40" text-anchor="middle" fill="#333" stroke="#333" stroke-width="0.18">A</text>
<text x="373.52" y="435.44" font-size="6.40" text-anchor="middle" fill="#333" stroke="#333" stroke-width="0.18">T</text>
<text x="381.07" y="435.44" font-size="6.40" text-anchor="middle" fill="#333" stroke="#333" stroke-width="0.18">G</text>
<text x="388.62" y="435.44" font-size="6.40" text-anchor="middle" fill="#333" stroke="#333" stroke-width="0.18">A</text>
<text x="396.17" y="435.44" font-size="6.40" text-anchor="middle" fill="#333" stroke="#333" stroke-width="0.18">G</text>
<text x="403.72" y="435.44" font-size="6.40" text-anchor="middle" fill="#333" stroke="#333" stroke-width="0.18">G</text>
<text x="411.27" y="435.44" font-size="6.40" text-anchor="middle" fill="#333" stroke="#333" stroke-width="0.18">A</text>
<text x="418.82" y="435.44" font-size="6.40" text-anchor="middle" fill="#333" stroke="#333" stroke-width="0.18">G</text>
<text x="426.37" y="435.44" font-size="6.40" text-anchor="middle" fill="#333" stroke="#333" stroke-width="0.18">T</text>
<text x="433.92" y="435.44" font-size="6.40" text-anchor="middle" fill="#333" stroke="#333" stroke-width="0.18">G</text>
<text x="441.47" y="435.44" font-size="6.40" text-anchor="middle" fill="#333" stroke="#333" stroke-width="0.18">C</text>
<text x="449.02" y="435.44" font-size="6.40" text-anchor="middle" fill="#333" stroke="#333" stroke-width="0.18">A</text>
<text x="456.57" y="435.44" font-size="6.40" text-anchor="middle" fill="#333" stroke="#333" stroke-width="0.18">T</text>
<text x="464.12" y="435.44" font-size="6.40" text-anchor="middle" fill="#333" stroke="#333" stroke-width="0.18">T</text>
<text x="471.67" y="435.44" font-size="6.40" text-anchor="middle" fill="#333" stroke="#333" stroke-width="0.18">A</text>
<text x="479.22" y="435.44" font-size="6.40" text-anchor="middle" fill="#333" stroke="#333" stroke-width="0.18">T</text>
<text x="486.77" y="435.44" font-size="6.40" text-anchor="middle" fill="#333" stroke="#333" stroke-width="0.18">C</text>
<text x="494.32" y="435.44" font-size="6.40" text-anchor="middle" fill="#333" stroke="#333" stroke-width="0.18">G</text>
<text x="501.88" y="435.44" font-size="6.40" text-anchor="middle" fill="#333" stroke="#333" stroke-width="0.18">T</text>
<text x="509.42" y="435.44" font-size="6.40" text-anchor="middle" fill="#333" stroke="#333" stroke-width="0.18">T</text>
<text x="170.00 177.42 184.84 192.26 199.68 207.10 214.52 221.94 229.36 236.78 244.20 251.62" y="436.26" font-size="7.0" font-family="Liberation Serif, serif" text-anchor="middle" fill="#e8393a" stroke="#e8393a" stroke-width="0.2">CTGCGCGCTCGC</text>
<text x="275.10 282.52 289.94 297.36 304.78 312.20 319.62 327.04 334.46 341.88 349.30 356.72" y="436.26" font-size="7.0" font-family="Liberation Serif, serif" text-anchor="middle" fill="#e8393a" stroke="#e8393a" stroke-width="0.2">TGAGGCCGCCCT</text>
<line x1="255.60" y1="433.14" x2="270.80" y2="433.14" stroke="#e8393a" stroke-width="0.4" stroke-opacity="0.8"/>
<text x="526.90" y="436.41" font-size="6.30" stroke="#222" stroke-width="0.18">58 reads</text>
<rect x="15.90" y="436.92" width="7.90" height="7.86" fill="#b7e1be"/>
<rect x="23.45" y="436.92" width="7.90" height="7.86" fill="#fdfbd0"/>
<rect x="31.00" y="436.92" width="7.90" height="7.86" fill="#b7e1be"/>
<rect x="38.55" y="436.92" width="7.90" height="7.86" fill="#b7e1be"/>
<rect x="46.10" y="436.92" width="7.90" height="7.86" fill="#fdfbd0"/>
<rect x="53.65" y="436.92" width="7.90" height="7.86" fill="#b7e1be"/>
<rect x="61.20" y="436.92" width="7.90" height="7.86" fill="#fdfbd0"/>
<rect x="68.75" y="436.92" width="7.90" height="7.86" fill="#fdfbd0"/>
<rect x="76.30" y="436.92" width="7.90" height="7.86" fill="#fdfbd0"/>
<rect x="83.85" y="436.92" width="7.90" height="7.86" fill="#dcd4ee"/>
<rect x="91.40" y="436.92" width="7.90" height="7.86" fill="#fdfbd0"/>
<rect x="98.95" y="436.92" width="7.90" height="7.86" fill="#fddcc8"/>
<rect x="106.50" y="436.92" width="7.90" height="7.86" fill="#fddcc8"/>
<rect x="114.05" y="436.92" width="7.90" height="7.86" fill="#b7e1be"/>
<rect x="121.60" y="436.92" width="7.90" height="7.86" fill="#fdfbd0"/>
<rect x="129.15" y="436.92" width="7.90" height="7.86" fill="#fddcc8"/>
<rect x="136.70" y="436.92" width="7.90" height="7.86" fill="#fdfbd0"/>
<rect x="144.25" y="436.92" width="7.90" height="7.86" fill="#fdfbd0"/>
<rect x="151.80" y="436.92" width="7.90" height="7.86" fill="#fdfbd0"/>
<rect x="159.35" y="436.92" width="7.90" height="7.86" fill="#dcd4ee"/>
<text x="19.68" y="443.00" font-size="6.40" text-anchor="middle" fill="#333" stroke="#333" stroke-width="0.18">A</text>
<text x="27.22" y="443.00" font-size="6.40" text-anchor="middle" fill="#333" stroke="#333" stroke-width="0.18">G</text>
<text x="34.77" y="443.00" font-size="6.40" text-anchor="middle" fill="#333" stroke="#333" stroke-width="0.18">A</text>
<text x="42.32" y="443.00" font-size="6.40" text-anchor="middle" fill="#333" stroke="#333" stroke-width="0.18">A</text>
<text x="49.88" y="443.00" font-size="6.40" text-anchor="middle" fill="#333" stroke="#333" stroke-width="0.18">G</text>
<text x="57.42" y="443.00" font-size="6.40" text-anchor="middle" fill="#333" stroke="#333" stroke-width="0.18">A</text>
<text x="64.97" y="443.00" font-size="6.40" text-anchor="middle" fill="#333" stroke="#333" stroke-width="0.18">G</text>
<text x="72.53" y="443.00" font-size="6.40" text-anchor="middle" fill="#333" stroke="#333" stroke-width="0.18">G</text>
<text x="80.08" y="443.00" font-size="6.40" text-anchor="middle" fill="#333" stroke="#333" stroke-width="0.18">G</text>
<text x="87.63" y="443.00" font-size="6.40" text-anchor="middle" fill="#333" stroke="#333" stroke-width="0.18">T</text>
<text x="95.18" y="443.00" font-size="6.40" text-anchor="middle" fill="#333" stroke="#333" stroke-width="0.18">G</text>
<text x="102.73" y="443.00" font-size="6.40" text-anchor="middle" fill="#333" stroke="#333" stroke-width="0.18">C</text>
<text x="110.28" y="443.00" font-size="6.40" text-anchor="middle" fill="#333" stroke="#333" stroke-width="0.18">C</text>
<text x="117.83" y="443.00" font-size="6.40" text-anchor="middle" fill="#333" stroke="#333" stroke-width="0.18">A</text>
<text x="125.38" y="443.00" font-size="6.40" text-anchor="middle" fill="#333" stroke="#333" stroke-width="0.18">G</text>
<text x="132.93" y="443.00" font-size="6.40" text-anchor="middle" fill="#333" stroke="#333" stroke-width="0.18">C</text>
<text x="140.47" y="443.00" font-size="6.40" text-anchor="middle" fill="#333" stroke="#333" stroke-width="0.18">G</text>
<text x="148.03" y="443.00" font-size="6.40" text-anchor="middle" fill="#333" stroke="#333" stroke-width="0.18">G</text>
<text x="155.58" y="443.00" font-size="6.40" text-anchor="middle" fill="#333" stroke="#333" stroke-width="0.18">G</text>
<text x="163.12" y="443.00" font-size="6.40" text-anchor="middle" fill="#333" stroke="#333" stroke-width="0.18">T</text>
<rect x="362.20" y="436.92" width="7.90" height="7.86" fill="#b7e1be"/>
<rect x="369.75" y="436.92" width="7.90" height="7.86" fill="#dcd4ee"/>
<rect x="377.30" y="436.92" width="7.90" height="7.86" fill="#fdfbd0"/>
<rect x="384.85" y="436.92" width="7.90" height="7.86" fill="#b7e1be"/>
<rect x="392.40" y="436.92" width="7.90" height="7.86" fill="#fdfbd0"/>
<rect x="399.95" y="436.92" width="7.90" height="7.86" fill="#fdfbd0"/>
<rect x="407.50" y="436.92" width="7.90" height="7.86" fill="#b7e1be"/>
<rect x="415.05" y="436.92" width="7.90" height="7.86" fill="#fdfbd0"/>
<rect x="422.60" y="436.92" width="7.90" height="7.86" fill="#dcd4ee"/>
<rect x="430.15" y="436.92" width="7.90" height="7.86" fill="#fdfbd0"/>
<rect x="437.70" y="436.92" width="7.90" height="7.86" fill="#fddcc8"/>
<rect x="445.25" y="436.92" width="7.90" height="7.86" fill="#b7e1be"/>
<rect x="452.80" y="436.92" width="7.90" height="7.86" fill="#dcd4ee"/>
<rect x="460.35" y="436.92" width="7.90" height="7.86" fill="#dcd4ee"/>
<rect x="467.90" y="436.92" width="7.90" height="7.86" fill="#b7e1be"/>
<rect x="475.45" y="436.92" width="7.90" height="7.86" fill="#dcd4ee"/>
<rect x="483.00" y="436.92" width="7.90" height="7.86" fill="#fddcc8"/>
<rect x="490.55" y="436.92" width="7.90" height="7.86" fill="#fdfbd0"/>
<rect x="498.10" y="436.92" width="7.90" height="7.86" fill="#dcd4ee"/>
<rect x="505.65" y="436.92" width="7.90" height="7.86" fill="#dcd4ee"/>
<text x="365.97" y="443.00" font-size="6.40" text-anchor="middle" fill="#333" stroke="#333" stroke-width="0.18">A</text>
<text x="373.52" y="443.00" font-size="6.40" text-anchor="middle" fill="#333" stroke="#333" stroke-width="0.18">T</text>
<text x="381.07" y="443.00" font-size="6.40" text-anchor="middle" fill="#333" stroke="#333" stroke-width="0.18">G</text>
<text x="388.62" y="443.00" font-size="6.40" text-anchor="middle" fill="#333" stroke="#333" stroke-width="0.18">A</text>
<text x="396.17" y="443.00" font-size="6.40" text-anchor="middle" fill="#333" stroke="#333" stroke-width="0.18">G</text>
<text x="403.72" y="443.00" font-size="6.40" text-anchor="middle" fill="#333" stroke="#333" stroke-width="0.18">G</text>
<text x="411.27" y="443.00" font-size="6.40" text-anchor="middle" fill="#333" stroke="#333" stroke-width="0.18">A</text>
<text x="418.82" y="443.00" font-size="6.40" text-anchor="middle" fill="#333" stroke="#333" stroke-width="0.18">G</text>
<text x="426.37" y="443.00" font-size="6.40" text-anchor="middle" fill="#333" stroke="#333" stroke-width="0.18">T</text>
<text x="433.92" y="443.00" font-size="6.40" text-anchor="middle" fill="#333" stroke="#333" stroke-width="0.18">G</text>
<text x="441.47" y="443.00" font-size="6.40" text-anchor="middle" fill="#333" stroke="#333" stroke-width="0.18">C</text>
<text x="449.02" y="443.00" font-size="6.40" text-anchor="middle" fill="#333" stroke="#333" stroke-width="0.18">A</text>
<text x="456.57" y="443.00" font-size="6.40" text-anchor="middle" fill="#333" stroke="#333" stroke-width="0.18">T</text>
<text x="464.12" y="443.00" font-size="6.40" text-anchor="middle" fill="#333" stroke="#333" stroke-width="0.18">T</text>
<text x="471.67" y="443.00" font-size="6.40" text-anchor="middle" fill="#333" stroke="#333" stroke-width="0.18">A</text>
<text x="479.22" y="443.00" font-size="6.40" text-anchor="middle" fill="#333" stroke="#333" stroke-width="0.18">T</text>
<text x="486.77" y="443.00" font-size="6.40" text-anchor="middle" fill="#333" stroke="#333" stroke-width="0.18">C</text>
<text x="494.32" y="443.00" font-size="6.40" text-anchor="middle" fill="#333" stroke="#333" stroke-width="0.18">G</text>
<text x="501.88" y="443.00" font-size="6.40" text-anchor="middle" fill="#333" stroke="#333" stroke-width="0.18">T</text>
<text x="509.42" y="443.00" font-size="6.40" text-anchor="middle" fill="#333" stroke="#333" stroke-width="0.18">T</text>
<text x="170.00 177.42 184.84 192.26 199.68 207.10 214.52 221.94 229.36 236.78 244.20 251.62" y="443.82" font-size="7.0" font-family="Liberation Serif, serif" text-anchor="middle" fill="#e8393a" stroke="#e8393a" stroke-width="0.2">GTCGCCCGGCCT</text>
<text x="275.10 282.52 289.94 297.36 304.78 312.20 319.62 327.04 334.46 341.88 349.30 356.72" y="443.82" font-size="7.0" font-family="Liberation Serif, serif" text-anchor="middle" fill="#e8393a" stroke="#e8393a" stroke-width="0.2">GGGAGTGGCCAA</text>
<line x1="255.60" y1="440.70" x2="270.80" y2="440.70" stroke="#e8393a" stroke-width="0.4" stroke-opacity="0.8"/>
<text x="526.90" y="443.97" font-size="6.30" stroke="#222" stroke-width="0.18">53 reads</text>
<rect x="15.90" y="444.48" width="7.90" height="7.86" fill="#b7e1be"/>
<rect x="23.45" y="444.48" width="7.90" height="7.86" fill="#fdfbd0"/>
<rect x="31.00" y="444.48" width="7.90" height="7.86" fill="#b7e1be"/>
<rect x="38.55" y="444.48" width="7.90" height="7.86" fill="#b7e1be"/>
<rect x="46.10" y="444.48" width="7.90" height="7.86" fill="#fdfbd0"/>
<rect x="53.65" y="444.48" width="7.90" height="7.86" fill="#b7e1be"/>
<rect x="61.20" y="444.48" width="7.90" height="7.86" fill="#fdfbd0"/>
<rect x="68.75" y="444.48" width="7.90" height="7.86" fill="#fdfbd0"/>
<rect x="76.30" y="444.48" width="7.90" height="7.86" fill="#fdfbd0"/>
<rect x="83.85" y="444.48" width="7.90" height="7.86" fill="#dcd4ee"/>
<rect x="91.40" y="444.48" width="7.90" height="7.86" fill="#fdfbd0"/>
<rect x="98.95" y="444.48" width="7.90" height="7.86" fill="#fddcc8"/>
<rect x="106.50" y="444.48" width="7.90" height="7.86" fill="#fddcc8"/>
<rect x="114.05" y="444.48" width="7.90" height="7.86" fill="#b7e1be"/>
<rect x="121.60" y="444.48" width="7.90" height="7.86" fill="#fdfbd0"/>
<rect x="129.15" y="444.48" width="7.90" height="7.86" fill="#fddcc8"/>
<rect x="136.70" y="444.48" width="7.90" height="7.86" fill="#fdfbd0"/>
<rect x="144.25" y="444.48" width="7.90" height="7.86" fill="#fdfbd0"/>
<rect x="151.80" y="444.48" width="7.90" height="7.86" fill="#fdfbd0"/>
<rect x="159.35" y="444.48" width="7.90" height="7.86" fill="#dcd4ee"/>
<text x="19.68" y="450.56" font-size="6.40" text-anchor="middle" fill="#333" stroke="#333" stroke-width="0.18">A</text>
<text x="27.22" y="450.56" font-size="6.40" text-anchor="middle" fill="#333" stroke="#333" stroke-width="0.18">G</text>
<text x="34.77" y="450.56" font-size="6.40" text-anchor="middle" fill="#333" stroke="#333" stroke-width="0.18">A</text>
<text x="42.32" y="450.56" font-size="6.40" text-anchor="middle" fill="#333" stroke="#333" stroke-width="0.18">A</text>
<text x="49.88" y="450.56" font-size="6.40" text-anchor="middle" fill="#333" stroke="#333" stroke-width="0.18">G</text>
<text x="57.42" y="450.56" font-size="6.40" text-anchor="middle" fill="#333" stroke="#333" stroke-width="0.18">A</text>
<text x="64.97" y="450.56" font-size="6.40" text-anchor="middle" fill="#333" stroke="#333" stroke-width="0.18">G</text>
<text x="72.53" y="450.56" font-size="6.40" text-anchor="middle" fill="#333" stroke="#333" stroke-width="0.18">G</text>
<text x="80.08" y="450.56" font-size="6.40" text-anchor="middle" fill="#333" stroke="#333" stroke-width="0.18">G</text>
<text x="87.63" y="450.56" font-size="6.40" text-anchor="middle" fill="#333" stroke="#333" stroke-width="0.18">T</text>
<text x="95.18" y="450.56" font-size="6.40" text-anchor="middle" fill="#333" stroke="#333" stroke-width="0.18">G</text>
<text x="102.73" y="450.56" font-size="6.40" text-anchor="middle" fill="#333" stroke="#333" stroke-width="0.18">C</text>
<text x="110.28" y="450.56" font-size="6.40" text-anchor="middle" fill="#333" stroke="#333" stroke-width="0.18">C</text>
<text x="117.83" y="450.56" font-size="6.40" text-anchor="middle" fill="#333" stroke="#333" stroke-width="0.18">A</text>
<text x="125.38" y="450.56" font-size="6.40" text-anchor="middle" fill="#333" stroke="#333" stroke-width="0.18">G</text>
<text x="132.93" y="450.56" font-size="6.40" text-anchor="middle" fill="#333" stroke="#333" stroke-width="0.18">C</text>
<text x="140.47" y="450.56" font-size="6.40" text-anchor="middle" fill="#333" stroke="#333" stroke-width="0.18">G</text>
<text x="148.03" y="450.56" font-size="6.40" text-anchor="middle" fill="#333" stroke="#333" stroke-width="0.18">G</text>
<text x="155.58" y="450.56" font-size="6.40" text-anchor="middle" fill="#333" stroke="#333" stroke-width="0.18">G</text>
<text x="163.12" y="450.56" font-size="6.40" text-anchor="middle" fill="#333" stroke="#333" stroke-width="0.18">T</text>
<rect x="362.20" y="444.48" width="7.90" height="7.86" fill="#dcd4ee"/>
<rect x="369.75" y="444.48" width="7.90" height="7.86" fill="#b7e1be"/>
<rect x="377.30" y="444.48" width="7.90" height="7.86" fill="#dcd4ee"/>
<rect x="384.85" y="444.48" width="7.90" height="7.86" fill="#fdfbd0"/>
<rect x="392.40" y="444.48" width="7.90" height="7.86" fill="#b7e1be"/>
<rect x="399.95" y="444.48" width="7.90" height="7.86" fill="#fdfbd0"/>
<rect x="407.50" y="444.48" width="7.90" height="7.86" fill="#fdfbd0"/>
<rect x="415.05" y="444.48" width="7.90" height="7.86" fill="#b7e1be"/>
<rect x="422.60" y="444.48" width="7.90" height="7.86" fill="#fdfbd0"/>
<rect x="430.15" y="444.48" width="7.90" height="7.86" fill="#dcd4ee"/>
<rect x="437.70" y="444.48" width="7.90" height="7.86" fill="#fdfbd0"/>
<rect x="445.25" y="444.48" width="7.90" height="7.86" fill="#fddcc8"/>
<rect x="452.80" y="444.48" width="7.90" height="7.86" fill="#b7e1be"/>
<rect x="460.35" y="444.48" width="7.90" height="7.86" fill="#dcd4ee"/>
<rect x="467.90" y="444.48" width="7.90" height="7.86" fill="#dcd4ee"/>
<rect x="475.45" y="444.48" width="7.90" height="7.86" fill="#b7e1be"/>
<rect x="483.00" y="444.48" width="7.90" height="7.86" fill="#dcd4ee"/>
<rect x="490.55" y="444.48" width="7.90" height="7.86" fill="#fddcc8"/>
<rect x="498.10" y="444.48" width="7.90" height="7.86" fill="#fdfbd0"/>
<rect x="505.65" y="444.48" width="7.90" height="7.86" fill="#dcd4ee"/>
<text x="365.97" y="450.56" font-size="6.40" text-anchor="middle" fill="#333" stroke="#333" stroke-width="0.18">T</text>
<text x="373.52" y="450.56" font-size="6.40" text-anchor="middle" fill="#333" stroke="#333" stroke-width="0.18">A</text>
<text x="381.07" y="450.56" font-size="6.40" text-anchor="middle" fill="#333" stroke="#333" stroke-width="0.18">T</text>
<text x="388.62" y="450.56" font-size="6.40" text-anchor="middle" fill="#333" stroke="#333" stroke-width="0.18">G</text>
<text x="396.17" y="450.56" font-size="6.40" text-anchor="middle" fill="#333" stroke="#333" stroke-width="0.18">A</text>
<text x="403.72" y="450.56" font-size="6.40" text-anchor="middle" fill="#333" stroke="#333" stroke-width="0.18">G</text>
<text x="411.27" y="450.56" font-size="6.40" text-anchor="middle" fill="#333" stroke="#333" stroke-width="0.18">G</text>
<text x="418.82" y="450.56" font-size="6.40" text-anchor="middle" fill="#333" stroke="#333" stroke-width="0.18">A</text>
<text x="426.37" y="450.56" font-size="6.40" text-anchor="middle" fill="#333" stroke="#333" stroke-width="0.18">G</text>
<text x="433.92" y="450.56" font-size="6.40" text-anchor="middle" fill="#333" stroke="#333" stroke-width="0.18">T</text>
<text x="441.47" y="450.56" font-size="6.40" text-anchor="middle" fill="#333" stroke="#333" stroke-width="0.18">G</text>
<text x="449.02" y="450.56" font-size="6.40" text-anchor="middle" fill="#333" stroke="#333" stroke-width="0.18">C</text>
<text x="456.57" y="450.56" font-size="6.40" text-anchor="middle" fill="#333" stroke="#333" stroke-width="0.18">A</text>
<text x="464.12" y="450.56" font-size="6.40" text-anchor="middle" fill="#333" stroke="#333" stroke-width="0.18">T</text>
<text x="471.67" y="450.56" font-size="6.40" text-anchor="middle" fill="#333" stroke="#333" stroke-width="0.18">T</text>
<text x="479.22" y="450.56" font-size="6.40" text-anchor="middle" fill="#333" stroke="#333" stroke-width="0.18">A</text>
<text x="486.77" y="450.56" font-size="6.40" text-anchor="middle" fill="#333" stroke="#333" stroke-width="0.18">T</text>
<text x="494.32" y="450.56" font-size="6.40" text-anchor="middle" fill="#333" stroke="#333" stroke-width="0.18">C</text>
<text x="501.88" y="450.56" font-size="6.40" text-anchor="middle" fill="#333" stroke="#333" stroke-width="0.18">G</text>
<text x="509.42" y="450.56" font-size="6.40" text-anchor="middle" fill="#333" stroke="#333" stroke-width="0.18">T</text>
<rect x="362.70" y="444.88" width="6.55" height="6.76" fill="none" stroke="#e61e1e" stroke-width="1.0"/>
<text x="170.00 177.42 184.84 192.26 199.68 207.10 214.52 221.94 229.36 236.78 244.20 251.62" y="451.38" font-size="7.0" font-family="Liberation Serif, serif" text-anchor="middle" fill="#e8393a" stroke="#e8393a" stroke-width="0.2">GCCCGGCCTCAG</text>
<text x="275.10 282.52 289.94 297.36 304.78 312.20 319.62 327.04 334.46 341.88 349.30 356.72" y="451.38" font-size="7.0" font-family="Liberation Serif, serif" text-anchor="middle" fill="#e8393a" stroke="#e8393a" stroke-width="0.2">AGCGAGCGCGCA</text>
<line x1="255.60" y1="448.26" x2="270.80" y2="448.26" stroke="#e8393a" stroke-width="0.4" stroke-opacity="0.8"/>
<text x="526.90" y="451.53" font-size="6.30" stroke="#222" stroke-width="0.18">52 reads</text>
<rect x="15.90" y="452.04" width="7.90" height="7.86" fill="#b7e1be"/>
<rect x="23.45" y="452.04" width="7.90" height="7.86" fill="#fdfbd0"/>
<rect x="31.00" y="452.04" width="7.90" height="7.86" fill="#b7e1be"/>
<rect x="38.55" y="452.04" width="7.90" height="7.86" fill="#b7e1be"/>
<rect x="46.10" y="452.04" width="7.90" height="7.86" fill="#fdfbd0"/>
<rect x="53.65" y="452.04" width="7.90" height="7.86" fill="#b7e1be"/>
<rect x="61.20" y="452.04" width="7.90" height="7.86" fill="#fdfbd0"/>
<rect x="68.75" y="452.04" width="7.90" height="7.86" fill="#fdfbd0"/>
<rect x="76.30" y="452.04" width="7.90" height="7.86" fill="#fdfbd0"/>
<rect x="83.85" y="452.04" width="7.90" height="7.86" fill="#dcd4ee"/>
<rect x="91.40" y="452.04" width="7.90" height="7.86" fill="#fdfbd0"/>
<rect x="98.95" y="452.04" width="7.90" height="7.86" fill="#fddcc8"/>
<rect x="106.50" y="452.04" width="7.90" height="7.86" fill="#fddcc8"/>
<rect x="114.05" y="452.04" width="7.90" height="7.86" fill="#b7e1be"/>
<rect x="121.60" y="452.04" width="7.90" height="7.86" fill="#fdfbd0"/>
<rect x="129.15" y="452.04" width="7.90" height="7.86" fill="#fddcc8"/>
<rect x="136.70" y="452.04" width="7.90" height="7.86" fill="#fdfbd0"/>
<rect x="144.25" y="452.04" width="7.90" height="7.86" fill="#fdfbd0"/>
<rect x="151.80" y="452.04" width="7.90" height="7.86" fill="#fdfbd0"/>
<rect x="159.35" y="452.04" width="7.90" height="7.86" fill="#dcd4ee"/>
<text x="19.68" y="458.12" font-size="6.40" text-anchor="middle" fill="#333" stroke="#333" stroke-width="0.18">A</text>
<text x="27.22" y="458.12" font-size="6.40" text-anchor="middle" fill="#333" stroke="#333" stroke-width="0.18">G</text>
<text x="34.77" y="458.12" font-size="6.40" text-anchor="middle" fill="#333" stroke="#333" stroke-width="0.18">A</text>
<text x="42.32" y="458.12" font-size="6.40" text-anchor="middle" fill="#333" stroke="#333" stroke-width="0.18">A</text>
<text x="49.88" y="458.12" font-size="6.40" text-anchor="middle" fill="#333" stroke="#333" stroke-width="0.18">G</text>
<text x="57.42" y="458.12" font-size="6.40" text-anchor="middle" fill="#333" stroke="#333" stroke-width="0.18">A</text>
<text x="64.97" y="458.12" font-size="6.40" text-anchor="middle" fill="#333" stroke="#333" stroke-width="0.18">G</text>
<text x="72.53" y="458.12" font-size="6.40" text-anchor="middle" fill="#333" stroke="#333" stroke-width="0.18">G</text>
<text x="80.08" y="458.12" font-size="6.40" text-anchor="middle" fill="#333" stroke="#333" stroke-width="0.18">G</text>
<text x="87.63" y="458.12" font-size="6.40" text-anchor="middle" fill="#333" stroke="#333" stroke-width="0.18">T</text>
<text x="95.18" y="458.12" font-size="6.40" text-anchor="middle" fill="#333" stroke="#333" stroke-width="0.18">G</text>
<text x="102.73" y="458.12" font-size="6.40" text-anchor="middle" fill="#333" stroke="#333" stroke-width="0.18">C</text>
<text x="110.28" y="458.12" font-size="6.40" text-anchor="middle" fill="#333" stroke="#333" stroke-width="0.18">C</text>
<text x="117.83" y="458.12" font-size="6.40" text-anchor="middle" fill="#333" stroke="#333" stroke-width="0.18">A</text>
<text x="125.38" y="458.12" font-size="6.40" text-anchor="middle" fill="#333" stroke="#333" stroke-width="0.18">G</text>
<text x="132.93" y="458.12" font-size="6.40" text-anchor="middle" fill="#333" stroke="#333" stroke-width="0.18">C</text>
<text x="140.47" y="458.12" font-size="6.40" text-anchor="middle" fill="#333" stroke="#333" stroke-width="0.18">G</text>
<text x="148.03" y="458.12" font-size="6.40" text-anchor="middle" fill="#333" stroke="#333" stroke-width="0.18">G</text>
<text x="155.58" y="458.12" font-size="6.40" text-anchor="middle" fill="#333" stroke="#333" stroke-width="0.18">G</text>
<text x="163.12" y="458.12" font-size="6.40" text-anchor="middle" fill="#333" stroke="#333" stroke-width="0.18">T</text>
<rect x="362.20" y="452.04" width="7.90" height="7.86" fill="#dcd4ee"/>
<rect x="369.75" y="452.04" width="7.90" height="7.86" fill="#b7e1be"/>
<rect x="377.30" y="452.04" width="7.90" height="7.86" fill="#dcd4ee"/>
<rect x="384.85" y="452.04" width="7.90" height="7.86" fill="#fdfbd0"/>
<rect x="392.40" y="452.04" width="7.90" height="7.86" fill="#b7e1be"/>
<rect x="399.95" y="452.04" width="7.90" height="7.86" fill="#fdfbd0"/>
<rect x="407.50" y="452.04" width="7.90" height="7.86" fill="#fdfbd0"/>
<rect x="415.05" y="452.04" width="7.90" height="7.86" fill="#b7e1be"/>
<rect x="422.60" y="452.04" width="7.90" height="7.86" fill="#fdfbd0"/>
<rect x="430.15" y="452.04" width="7.90" height="7.86" fill="#dcd4ee"/>
<rect x="437.70" y="452.04" width="7.90" height="7.86" fill="#fdfbd0"/>
<rect x="445.25" y="452.04" width="7.90" height="7.86" fill="#fddcc8"/>
<rect x="452.80" y="452.04" width="7.90" height="7.86" fill="#b7e1be"/>
<rect x="460.35" y="452.04" width="7.90" height="7.86" fill="#dcd4ee"/>
<rect x="467.90" y="452.04" width="7.90" height="7.86" fill="#dcd4ee"/>
<rect x="475.45" y="452.04" width="7.90" height="7.86" fill="#b7e1be"/>
<rect x="483.00" y="452.04" width="7.90" height="7.86" fill="#dcd4ee"/>
<rect x="490.55" y="452.04" width="7.90" height="7.86" fill="#fddcc8"/>
<rect x="498.10" y="452.04" width="7.90" height="7.86" fill="#fdfbd0"/>
<rect x="505.65" y="452.04" width="7.90" height="7.86" fill="#dcd4ee"/>
<text x="365.97" y="458.12" font-size="6.40" text-anchor="middle" fill="#333" stroke="#333" stroke-width="0.18">T</text>
<text x="373.52" y="458.12" font-size="6.40" text-anchor="middle" fill="#333" stroke="#333" stroke-width="0.18">A</text>
<text x="381.07" y="458.12" font-size="6.40" text-anchor="middle" fill="#333" stroke="#333" stroke-width="0.18">T</text>
<text x="388.62" y="458.12" font-size="6.40" text-anchor="middle" fill="#333" stroke="#333" stroke-width="0.18">G</text>
<text x="396.17" y="458.12" font-size="6.40" text-anchor="middle" fill="#333" stroke="#333" stroke-width="0.18">A</text>
<text x="403.72" y="458.12" font-size="6.40" text-anchor="middle" fill="#333" stroke="#333" stroke-width="0.18">G</text>
<text x="411.27" y="458.12" font-size="6.40" text-anchor="middle" fill="#333" stroke="#333" stroke-width="0.18">G</text>
<text x="418.82" y="458.12" font-size="6.40" text-anchor="middle" fill="#333" stroke="#333" stroke-width="0.18">A</text>
<text x="426.37" y="458.12" font-size="6.40" text-anchor="middle" fill="#333" stroke="#333" stroke-width="0.18">G</text>
<text x="433.92" y="458.12" font-size="6.40" text-anchor="middle" fill="#333" stroke="#333" stroke-width="0.18">T</text>
<text x="441.47" y="458.12" font-size="6.40" text-anchor="middle" fill="#333" stroke="#333" stroke-width="0.18">G</text>
<text x="449.02" y="458.12" font-size="6.40" text-anchor="middle" fill="#333" stroke="#333" stroke-width="0.18">C</text>
<text x="456.57" y="458.12" font-size="6.40" text-anchor="middle" fill="#333" stroke="#333" stroke-width="0.18">A</text>
<text x="464.12" y="458.12" font-size="6.40" text-anchor="middle" fill="#333" stroke="#333" stroke-width="0.18">T</text>
<text x="471.67" y="458.12" font-size="6.40" text-anchor="middle" fill="#333" stroke="#333" stroke-width="0.18">T</text>
<text x="479.22" y="458.12" font-size="6.40" text-anchor="middle" fill="#333" stroke="#333" stroke-width="0.18">A</text>
<text x="486.77" y="458.12" font-size="6.40" text-anchor="middle" fill="#333" stroke="#333" stroke-width="0.18">T</text>
<text x="494.32" y="458.12" font-size="6.40" text-anchor="middle" fill="#333" stroke="#333" stroke-width="0.18">C</text>
<text x="501.88" y="458.12" font-size="6.40" text-anchor="middle" fill="#333" stroke="#333" stroke-width="0.18">G</text>
<text x="509.42" y="458.12" font-size="6.40" text-anchor="middle" fill="#333" stroke="#333" stroke-width="0.18">T</text>
<rect x="362.70" y="452.44" width="6.55" height="6.76" fill="none" stroke="#e61e1e" stroke-width="1.0"/>
<text x="170.00 177.42 184.84 192.26 199.68 207.10 214.52 221.94 229.36 236.78 244.20 251.62" y="458.94" font-size="7.0" font-family="Liberation Serif, serif" text-anchor="middle" fill="#e8393a" stroke="#e8393a" stroke-width="0.2">CGACCTTTGGTC</text>
<text x="275.10 282.52 289.94 297.36 304.78 312.20 319.62 327.04 334.46 341.88 349.30 356.72" y="458.94" font-size="7.0" font-family="Liberation Serif, serif" text-anchor="middle" fill="#e8393a" stroke="#e8393a" stroke-width="0.2">GGAGTGGCCAAT</text>
<line x1="255.60" y1="455.82" x2="270.80" y2="455.82" stroke="#e8393a" stroke-width="0.4" stroke-opacity="0.8"/>
<text x="526.90" y="459.09" font-size="6.30" stroke="#222" stroke-width="0.18">51 reads</text>
<rect x="15.90" y="459.60" width="7.90" height="7.86" fill="#b7e1be"/>
<rect x="23.45" y="459.60" width="7.90" height="7.86" fill="#fdfbd0"/>
<rect x="31.00" y="459.60" width="7.90" height="7.86" fill="#b7e1be"/>
<rect x="38.55" y="459.60" width="7.90" height="7.86" fill="#b7e1be"/>
<rect x="46.10" y="459.60" width="7.90" height="7.86" fill="#fdfbd0"/>
<rect x="53.65" y="459.60" width="7.90" height="7.86" fill="#b7e1be"/>
<rect x="61.20" y="459.60" width="7.90" height="7.86" fill="#fdfbd0"/>
<rect x="68.75" y="459.60" width="7.90" height="7.86" fill="#fdfbd0"/>
<rect x="76.30" y="459.60" width="7.90" height="7.86" fill="#fdfbd0"/>
<rect x="83.85" y="459.60" width="7.90" height="7.86" fill="#dcd4ee"/>
<rect x="91.40" y="459.60" width="7.90" height="7.86" fill="#fdfbd0"/>
<rect x="98.95" y="459.60" width="7.90" height="7.86" fill="#fddcc8"/>
<rect x="106.50" y="459.60" width="7.90" height="7.86" fill="#fddcc8"/>
<rect x="114.05" y="459.60" width="7.90" height="7.86" fill="#b7e1be"/>
<rect x="121.60" y="459.60" width="7.90" height="7.86" fill="#fdfbd0"/>
<rect x="129.15" y="459.60" width="7.90" height="7.86" fill="#fddcc8"/>
<rect x="136.70" y="459.60" width="7.90" height="7.86" fill="#fdfbd0"/>
<rect x="144.25" y="459.60" width="7.90" height="7.86" fill="#fdfbd0"/>
<rect x="151.80" y="459.60" width="7.90" height="7.86" fill="#fdfbd0"/>
<rect x="159.35" y="459.60" width="7.90" height="7.86" fill="#dcd4ee"/>
<text x="19.68" y="465.68" font-size="6.40" text-anchor="middle" fill="#333" stroke="#333" stroke-width="0.18">A</text>
<text x="27.22" y="465.68" font-size="6.40" text-anchor="middle" fill="#333" stroke="#333" stroke-width="0.18">G</text>
<text x="34.77" y="465.68" font-size="6.40" text-anchor="middle" fill="#333" stroke="#333" stroke-width="0.18">A</text>
<text x="42.32" y="465.68" font-size="6.40" text-anchor="middle" fill="#333" stroke="#333" stroke-width="0.18">A</text>
<text x="49.88" y="465.68" font-size="6.40" text-anchor="middle" fill="#333" stroke="#333" stroke-width="0.18">G</text>
<text x="57.42" y="465.68" font-size="6.40" text-anchor="middle" fill="#333" stroke="#333" stroke-width="0.18">A</text>
<text x="64.97" y="465.68" font-size="6.40" text-anchor="middle" fill="#333" stroke="#333" stroke-width="0.18">G</text>
<text x="72.53" y="465.68" font-size="6.40" text-anchor="middle" fill="#333" stroke="#333" stroke-width="0.18">G</text>
<text x="80.08" y="465.68" font-size="6.40" text-anchor="middle" fill="#333" stroke="#333" stroke-width="0.18">G</text>
<text x="87.63" y="465.68" font-size="6.40" text-anchor="middle" fill="#333" stroke="#333" stroke-width="0.18">T</text>
<text x="95.18" y="465.68" font-size="6.40" text-anchor="middle" fill="#333" stroke="#333" stroke-width="0.18">G</text>
<text x="102.73" y="465.68" font-size="6.40" text-anchor="middle" fill="#333" stroke="#333" stroke-width="0.18">C</text>
<text x="110.28" y="465.68" font-size="6.40" text-anchor="middle" fill="#333" stroke="#333" stroke-width="0.18">C</text>
<text x="117.83" y="465.68" font-size="6.40" text-anchor="middle" fill="#333" stroke="#333" stroke-width="0.18">A</text>
<text x="125.38" y="465.68" font-size="6.40" text-anchor="middle" fill="#333" stroke="#333" stroke-width="0.18">G</text>
<text x="132.93" y="465.68" font-size="6.40" text-anchor="middle" fill="#333" stroke="#333" stroke-width="0.18">C</text>
<text x="140.47" y="465.68" font-size="6.40" text-anchor="middle" fill="#333" stroke="#333" stroke-width="0.18">G</text>
<text x="148.03" y="465.68" font-size="6.40" text-anchor="middle" fill="#333" stroke="#333" stroke-width="0.18">G</text>
<text x="155.58" y="465.68" font-size="6.40" text-anchor="middle" fill="#333" stroke="#333" stroke-width="0.18">G</text>
<text x="163.12" y="465.68" font-size="6.40" text-anchor="middle" fill="#333" stroke="#333" stroke-width="0.18">T</text>
<rect x="362.20" y="459.60" width="7.90" height="7.86" fill="#dcd4ee"/>
<rect x="369.75" y="459.60" width="7.90" height="7.86" fill="#b7e1be"/>
<rect x="377.30" y="459.60" width="7.90" height="7.86" fill="#dcd4ee"/>
<rect x="384.85" y="459.60" width="7.90" height="7.86" fill="#fdfbd0"/>
<rect x="392.40" y="459.60" width="7.90" height="7.86" fill="#b7e1be"/>
<rect x="399.95" y="459.60" width="7.90" height="7.86" fill="#fdfbd0"/>
<rect x="407.50" y="459.60" width="7.90" height="7.86" fill="#fdfbd0"/>
<rect x="415.05" y="459.60" width="7.90" height="7.86" fill="#b7e1be"/>
<rect x="422.60" y="459.60" width="7.90" height="7.86" fill="#fdfbd0"/>
<rect x="430.15" y="459.60" width="7.90" height="7.86" fill="#dcd4ee"/>
<rect x="437.70" y="459.60" width="7.90" height="7.86" fill="#fdfbd0"/>
<rect x="445.25" y="459.60" width="7.90" height="7.86" fill="#fddcc8"/>
<rect x="452.80" y="459.60" width="7.90" height="7.86" fill="#b7e1be"/>
<rect x="460.35" y="459.60" width="7.90" height="7.86" fill="#dcd4ee"/>
<rect x="467.90" y="459.60" width="7.90" height="7.86" fill="#dcd4ee"/>
<rect x="475.45" y="459.60" width="7.90" height="7.86" fill="#b7e1be"/>
<rect x="483.00" y="459.60" width="7.90" height="7.86" fill="#dcd4ee"/>
<rect x="490.55" y="459.60" width="7.90" height="7.86" fill="#fddcc8"/>
<rect x="498.10" y="459.60" width="7.90" height="7.86" fill="#fdfbd0"/>
<rect x="505.65" y="459.60" width="7.90" height="7.86" fill="#dcd4ee"/>
<text x="365.97" y="465.68" font-size="6.40" text-anchor="middle" fill="#333" stroke="#333" stroke-width="0.18">T</text>
<text x="373.52" y="465.68" font-size="6.40" text-anchor="middle" fill="#333" stroke="#333" stroke-width="0.18">A</text>
<text x="381.07" y="465.68" font-size="6.40" text-anchor="middle" fill="#333" stroke="#333" stroke-width="0.18">T</text>
<text x="388.62" y="465.68" font-size="6.40" text-anchor="middle" fill="#333" stroke="#333" stroke-width="0.18">G</text>
<text x="396.17" y="465.68" font-size="6.40" text-anchor="middle" fill="#333" stroke="#333" stroke-width="0.18">A</text>
<text x="403.72" y="465.68" font-size="6.40" text-anchor="middle" fill="#333" stroke="#333" stroke-width="0.18">G</text>
<text x="411.27" y="465.68" font-size="6.40" text-anchor="middle" fill="#333" stroke="#333" stroke-width="0.18">G</text>
<text x="418.82" y="465.68" font-size="6.40" text-anchor="middle" fill="#333" stroke="#333" stroke-width="0.18">A</text>
<text x="426.37" y="465.68" font-size="6.40" text-anchor="middle" fill="#333" stroke="#333" stroke-width="0.18">G</text>
<text x="433.92" y="465.68" font-size="6.40" text-anchor="middle" fill="#333" stroke="#333" stroke-width="0.18">T</text>
<text x="441.47" y="465.68" font-size="6.40" text-anchor="middle" fill="#333" stroke="#333" stroke-width="0.18">G</text>
<text x="449.02" y="465.68" font-size="6.40" text-anchor="middle" fill="#333" stroke="#333" stroke-width="0.18">C</text>
<text x="456.57" y="465.68" font-size="6.40" text-anchor="middle" fill="#333" stroke="#333" stroke-width="0.18">A</text>
<text x="464.12" y="465.68" font-size="6.40" text-anchor="middle" fill="#333" stroke="#333" stroke-width="0.18">T</text>
<text x="471.67" y="465.68" font-size="6.40" text-anchor="middle" fill="#333" stroke="#333" stroke-width="0.18">T</text>
<text x="479.22" y="465.68" font-size="6.40" text-anchor="middle" fill="#333" stroke="#333" stroke-width="0.18">A</text>
<text x="486.77" y="465.68" font-size="6.40" text-anchor="middle" fill="#333" stroke="#333" stroke-width="0.18">T</text>
<text x="494.32" y="465.68" font-size="6.40" text-anchor="middle" fill="#333" stroke="#333" stroke-width="0.18">C</text>
<text x="501.88" y="465.68" font-size="6.40" text-anchor="middle" fill="#333" stroke="#333" stroke-width="0.18">G</text>
<text x="509.42" y="465.68" font-size="6.40" text-anchor="middle" fill="#333" stroke="#333" stroke-width="0.18">T</text>
<rect x="362.70" y="460.00" width="6.55" height="6.76" fill="none" stroke="#e61e1e" stroke-width="1.0"/>
<text x="170.00 177.42 184.84 192.26 199.68 207.10 214.52 221.94 229.36 236.78 244.20 251.62" y="466.50" font-size="7.0" font-family="Liberation Serif, serif" text-anchor="middle" fill="#e8393a" stroke="#e8393a" stroke-width="0.2">GGCCACTCCCTC</text>
<text x="275.10 282.52 289.94 297.36 304.78 312.20 319.62 327.04 334.46 341.88 349.30 356.72" y="466.50" font-size="7.0" font-family="Liberation Serif, serif" text-anchor="middle" fill="#e8393a" stroke="#e8393a" stroke-width="0.2">CTGAGGCCGCCC</text>
<line x1="255.60" y1="463.38" x2="270.80" y2="463.38" stroke="#e8393a" stroke-width="0.4" stroke-opacity="0.8"/>
<text x="526.90" y="466.65" font-size="6.30" stroke="#222" stroke-width="0.18">40 reads</text>
<rect x="15.90" y="467.16" width="7.90" height="7.86" fill="#b7e1be"/>
<rect x="23.45" y="467.16" width="7.90" height="7.86" fill="#fdfbd0"/>
<rect x="31.00" y="467.16" width="7.90" height="7.86" fill="#b7e1be"/>
<rect x="38.55" y="467.16" width="7.90" height="7.86" fill="#b7e1be"/>
<rect x="46.10" y="467.16" width="7.90" height="7.86" fill="#fdfbd0"/>
<rect x="53.65" y="467.16" width="7.90" height="7.86" fill="#b7e1be"/>
<rect x="61.20" y="467.16" width="7.90" height="7.86" fill="#fdfbd0"/>
<rect x="68.75" y="467.16" width="7.90" height="7.86" fill="#fdfbd0"/>
<rect x="76.30" y="467.16" width="7.90" height="7.86" fill="#fdfbd0"/>
<rect x="83.85" y="467.16" width="7.90" height="7.86" fill="#dcd4ee"/>
<rect x="91.40" y="467.16" width="7.90" height="7.86" fill="#fdfbd0"/>
<rect x="98.95" y="467.16" width="7.90" height="7.86" fill="#fddcc8"/>
<rect x="106.50" y="467.16" width="7.90" height="7.86" fill="#fddcc8"/>
<rect x="114.05" y="467.16" width="7.90" height="7.86" fill="#b7e1be"/>
<rect x="121.60" y="467.16" width="7.90" height="7.86" fill="#fdfbd0"/>
<rect x="129.15" y="467.16" width="7.90" height="7.86" fill="#fddcc8"/>
<rect x="136.70" y="467.16" width="7.90" height="7.86" fill="#fdfbd0"/>
<rect x="144.25" y="467.16" width="7.90" height="7.86" fill="#fdfbd0"/>
<rect x="151.80" y="467.16" width="7.90" height="7.86" fill="#fdfbd0"/>
<rect x="159.35" y="467.16" width="7.90" height="7.86" fill="#efefef"/>
<text x="19.68" y="473.24" font-size="6.40" text-anchor="middle" fill="#333" stroke="#333" stroke-width="0.18">A</text>
<text x="27.22" y="473.24" font-size="6.40" text-anchor="middle" fill="#333" stroke="#333" stroke-width="0.18">G</text>
<text x="34.77" y="473.24" font-size="6.40" text-anchor="middle" fill="#333" stroke="#333" stroke-width="0.18">A</text>
<text x="42.32" y="473.24" font-size="6.40" text-anchor="middle" fill="#333" stroke="#333" stroke-width="0.18">A</text>
<text x="49.88" y="473.24" font-size="6.40" text-anchor="middle" fill="#333" stroke="#333" stroke-width="0.18">G</text>
<text x="57.42" y="473.24" font-size="6.40" text-anchor="middle" fill="#333" stroke="#333" stroke-width="0.18">A</text>
<text x="64.97" y="473.24" font-size="6.40" text-anchor="middle" fill="#333" stroke="#333" stroke-width="0.18">G</text>
<text x="72.53" y="473.24" font-size="6.40" text-anchor="middle" fill="#333" stroke="#333" stroke-width="0.18">G</text>
<text x="80.08" y="473.24" font-size="6.40" text-anchor="middle" fill="#333" stroke="#333" stroke-width="0.18">G</text>
<text x="87.63" y="473.24" font-size="6.40" text-anchor="middle" fill="#333" stroke="#333" stroke-width="0.18">T</text>
<text x="95.18" y="473.24" font-size="6.40" text-anchor="middle" fill="#333" stroke="#333" stroke-width="0.18">G</text>
<text x="102.73" y="473.24" font-size="6.40" text-anchor="middle" fill="#333" stroke="#333" stroke-width="0.18">C</text>
<text x="110.28" y="473.24" font-size="6.40" text-anchor="middle" fill="#333" stroke="#333" stroke-width="0.18">C</text>
<text x="117.83" y="473.24" font-size="6.40" text-anchor="middle" fill="#333" stroke="#333" stroke-width="0.18">A</text>
<text x="125.38" y="473.24" font-size="6.40" text-anchor="middle" fill="#333" stroke="#333" stroke-width="0.18">G</text>
<text x="132.93" y="473.24" font-size="6.40" text-anchor="middle" fill="#333" stroke="#333" stroke-width="0.18">C</text>
<text x="140.47" y="473.24" font-size="6.40" text-anchor="middle" fill="#333" stroke="#333" stroke-width="0.18">G</text>
<text x="148.03" y="473.24" font-size="6.40" text-anchor="middle" fill="#333" stroke="#333" stroke-width="0.18">G</text>
<text x="155.58" y="473.24" font-size="6.40" text-anchor="middle" fill="#333" stroke="#333" stroke-width="0.18">G</text>
<line x1="162.32" y1="471.24" x2="163.93" y2="471.24" stroke="#666" stroke-width="0.7"/>
<rect x="362.20" y="467.16" width="7.90" height="7.86" fill="#b7e1be"/>
<rect x="369.75" y="467.16" width="7.90" height="7.86" fill="#dcd4ee"/>
<rect x="377.30" y="467.16" width="7.90" height="7.86" fill="#fdfbd0"/>
<rect x="384.85" y="467.16" width="7.90" height="7.86" fill="#b7e1be"/>
<rect x="392.40" y="467.16" width="7.90" height="7.86" fill="#fdfbd0"/>
<rect x="399.95" y="467.16" width="7.90" height="7.86" fill="#fdfbd0"/>
<rect x="407.50" y="467.16" width="7.90" height="7.86" fill="#b7e1be"/>
<rect x="415.05" y="467.16" width="7.90" height="7.86" fill="#fdfbd0"/>
<rect x="422.60" y="467.16" width="7.90" height="7.86" fill="#dcd4ee"/>
<rect x="430.15" y="467.16" width="7.90" height="7.86" fill="#fdfbd0"/>
<rect x="437.70" y="467.16" width="7.90" height="7.86" fill="#fddcc8"/>
<rect x="445.25" y="467.16" width="7.90" height="7.86" fill="#b7e1be"/>
<rect x="452.80" y="467.16" width="7.90" height="7.86" fill="#dcd4ee"/>
<rect x="460.35" y="467.16" width="7.90" height="7.86" fill="#dcd4ee"/>
<rect x="467.90" y="467.16" width="7.90" height="7.86" fill="#b7e1be"/>
<rect x="475.45" y="467.16" width="7.90" height="7.86" fill="#dcd4ee"/>
<rect x="483.00" y="467.16" width="7.90" height="7.86" fill="#fddcc8"/>
<rect x="490.55" y="467.16" width="7.90" height="7.86" fill="#fdfbd0"/>
<rect x="498.10" y="467.16" width="7.90" height="7.86" fill="#dcd4ee"/>
<rect x="505.65" y="467.16" width="7.90" height="7.86" fill="#dcd4ee"/>
<text x="365.97" y="473.24" font-size="6.40" text-anchor="middle" fill="#333" stroke="#333" stroke-width="0.18">A</text>
<text x="373.52" y="473.24" font-size="6.40" text-anchor="middle" fill="#333" stroke="#333" stroke-width="0.18">T</text>
<text x="381.07" y="473.24" font-size="6.40" text-anchor="middle" fill="#333" stroke="#333" stroke-width="0.18">G</text>
<text x="388.62" y="473.24" font-size="6.40" text-anchor="middle" fill="#333" stroke="#333" stroke-width="0.18">A</text>
<text x="396.17" y="473.24" font-size="6.40" text-anchor="middle" fill="#333" stroke="#333" stroke-width="0.18">G</text>
<text x="403.72" y="473.24" font-size="6.40" text-anchor="middle" fill="#333" stroke="#333" stroke-width="0.18">G</text>
<text x="411.27" y="473.24" font-size="6.40" text-anchor="middle" fill="#333" stroke="#333" stroke-width="0.18">A</text>
<text x="418.82" y="473.24" font-size="6.40" text-anchor="middle" fill="#333" stroke="#333" stroke-width="0.18">G</text>
<text x="426.37" y="473.24" font-size="6.40" text-anchor="middle" fill="#333" stroke="#333" stroke-width="0.18">T</text>
<text x="433.92" y="473.24" font-size="6.40" text-anchor="middle" fill="#333" stroke="#333" stroke-width="0.18">G</text>
<text x="441.47" y="473.24" font-size="6.40" text-anchor="middle" fill="#333" stroke="#333" stroke-width="0.18">C</text>
<text x="449.02" y="473.24" font-size="6.40" text-anchor="middle" fill="#333" stroke="#333" stroke-width="0.18">A</text>
<text x="456.57" y="473.24" font-size="6.40" text-anchor="middle" fill="#333" stroke="#333" stroke-width="0.18">T</text>
<text x="464.12" y="473.24" font-size="6.40" text-anchor="middle" fill="#333" stroke="#333" stroke-width="0.18">T</text>
<text x="471.67" y="473.24" font-size="6.40" text-anchor="middle" fill="#333" stroke="#333" stroke-width="0.18">A</text>
<text x="479.22" y="473.24" font-size="6.40" text-anchor="middle" fill="#333" stroke="#333" stroke-width="0.18">T</text>
<text x="486.77" y="473.24" font-size="6.40" text-anchor="middle" fill="#333" stroke="#333" stroke-width="0.18">C</text>
<text x="494.32" y="473.24" font-size="6.40" text-anchor="middle" fill="#333" stroke="#333" stroke-width="0.18">G</text>
<text x="501.88" y="473.24" font-size="6.40" text-anchor="middle" fill="#333" stroke="#333" stroke-width="0.18">T</text>
<text x="509.42" y="473.24" font-size="6.40" text-anchor="middle" fill="#333" stroke="#333" stroke-width="0.18">T</text>
<text x="170.00 177.42 184.84 192.26 199.68 207.10 214.52 221.94 229.36 236.78 244.20 251.62" y="474.06" font-size="7.0" font-family="Liberation Serif, serif" text-anchor="middle" fill="#e8393a" stroke="#e8393a" stroke-width="0.2">CTAGTGATGGAG</text>
<text x="275.10 282.52 289.94 297.36 304.78 312.20 319.62 327.04 334.46 341.88 349.30 356.72" y="474.06" font-size="7.0" font-family="Liberation Serif, serif" text-anchor="middle" fill="#e8393a" stroke="#e8393a" stroke-width="0.2">CGCCCGGGCAAA</text>
<line x1="255.60" y1="470.94" x2="270.80" y2="470.94" stroke="#e8393a" stroke-width="0.4" stroke-opacity="0.8"/>
<text x="526.90" y="474.21" font-size="6.30" stroke="#222" stroke-width="0.18">40 reads</text>
<rect x="15.90" y="474.72" width="7.90" height="7.86" fill="#b7e1be"/>
<rect x="23.45" y="474.72" width="7.90" height="7.86" fill="#fdfbd0"/>
<rect x="31.00" y="474.72" width="7.90" height="7.86" fill="#b7e1be"/>
<rect x="38.55" y="474.72" width="7.90" height="7.86" fill="#b7e1be"/>
<rect x="46.10" y="474.72" width="7.90" height="7.86" fill="#fdfbd0"/>
<rect x="53.65" y="474.72" width="7.90" height="7.86" fill="#b7e1be"/>
<rect x="61.20" y="474.72" width="7.90" height="7.86" fill="#fdfbd0"/>
<rect x="68.75" y="474.72" width="7.90" height="7.86" fill="#fdfbd0"/>
<rect x="76.30" y="474.72" width="7.90" height="7.86" fill="#fdfbd0"/>
<rect x="83.85" y="474.72" width="7.90" height="7.86" fill="#dcd4ee"/>
<rect x="91.40" y="474.72" width="7.90" height="7.86" fill="#fdfbd0"/>
<rect x="98.95" y="474.72" width="7.90" height="7.86" fill="#fddcc8"/>
<rect x="106.50" y="474.72" width="7.90" height="7.86" fill="#fddcc8"/>
<rect x="114.05" y="474.72" width="7.90" height="7.86" fill="#b7e1be"/>
<rect x="121.60" y="474.72" width="7.90" height="7.86" fill="#fdfbd0"/>
<rect x="129.15" y="474.72" width="7.90" height="7.86" fill="#fddcc8"/>
<rect x="136.70" y="474.72" width="7.90" height="7.86" fill="#fdfbd0"/>
<rect x="144.25" y="474.72" width="7.90" height="7.86" fill="#fdfbd0"/>
<rect x="151.80" y="474.72" width="7.90" height="7.86" fill="#fdfbd0"/>
<rect x="159.35" y="474.72" width="7.90" height="7.86" fill="#dcd4ee"/>
<text x="19.68" y="480.80" font-size="6.40" text-anchor="middle" fill="#333" stroke="#333" stroke-width="0.18">A</text>
<text x="27.22" y="480.80" font-size="6.40" text-anchor="middle" fill="#333" stroke="#333" stroke-width="0.18">G</text>
<text x="34.77" y="480.80" font-size="6.40" text-anchor="middle" fill="#333" stroke="#333" stroke-width="0.18">A</text>
<text x="42.32" y="480.80" font-size="6.40" text-anchor="middle" fill="#333" stroke="#333" stroke-width="0.18">A</text>
<text x="49.88" y="480.80" font-size="6.40" text-anchor="middle" fill="#333" stroke="#333" stroke-width="0.18">G</text>
<text x="57.42" y="480.80" font-size="6.40" text-anchor="middle" fill="#333" stroke="#333" stroke-width="0.18">A</text>
<text x="64.97" y="480.80" font-size="6.40" text-anchor="middle" fill="#333" stroke="#333" stroke-width="0.18">G</text>
<text x="72.53" y="480.80" font-size="6.40" text-anchor="middle" fill="#333" stroke="#333" stroke-width="0.18">G</text>
<text x="80.08" y="480.80" font-size="6.40" text-anchor="middle" fill="#333" stroke="#333" stroke-width="0.18">G</text>
<text x="87.63" y="480.80" font-size="6.40" text-anchor="middle" fill="#333" stroke="#333" stroke-width="0.18">T</text>
<text x="95.18" y="480.80" font-size="6.40" text-anchor="middle" fill="#333" stroke="#333" stroke-width="0.18">G</text>
<text x="102.73" y="480.80" font-size="6.40" text-anchor="middle" fill="#333" stroke="#333" stroke-width="0.18">C</text>
<text x="110.28" y="480.80" font-size="6.40" text-anchor="middle" fill="#333" stroke="#333" stroke-width="0.18">C</text>
<text x="117.83" y="480.80" font-size="6.40" text-anchor="middle" fill="#333" stroke="#333" stroke-width="0.18">A</text>
<text x="125.38" y="480.80" font-size="6.40" text-anchor="middle" fill="#333" stroke="#333" stroke-width="0.18">G</text>
<text x="132.93" y="480.80" font-size="6.40" text-anchor="middle" fill="#333" stroke="#333" stroke-width="0.18">C</text>
<text x="140.47" y="480.80" font-size="6.40" text-anchor="middle" fill="#333" stroke="#333" stroke-width="0.18">G</text>
<text x="148.03" y="480.80" font-size="6.40" text-anchor="middle" fill="#333" stroke="#333" stroke-width="0.18">G</text>
<text x="155.58" y="480.80" font-size="6.40" text-anchor="middle" fill="#333" stroke="#333" stroke-width="0.18">G</text>
<text x="163.12" y="480.80" font-size="6.40" text-anchor="middle" fill="#333" stroke="#333" stroke-width="0.18">T</text>
<rect x="362.20" y="474.72" width="7.90" height="7.86" fill="#b7e1be"/>
<rect x="369.75" y="474.72" width="7.90" height="7.86" fill="#dcd4ee"/>
<rect x="377.30" y="474.72" width="7.90" height="7.86" fill="#fdfbd0"/>
<rect x="384.85" y="474.72" width="7.90" height="7.86" fill="#b7e1be"/>
<rect x="392.40" y="474.72" width="7.90" height="7.86" fill="#fdfbd0"/>
<rect x="399.95" y="474.72" width="7.90" height="7.86" fill="#fdfbd0"/>
<rect x="407.50" y="474.72" width="7.90" height="7.86" fill="#b7e1be"/>
<rect x="415.05" y="474.72" width="7.90" height="7.86" fill="#fdfbd0"/>
<rect x="422.60" y="474.72" width="7.90" height="7.86" fill="#dcd4ee"/>
<rect x="430.15" y="474.72" width="7.90" height="7.86" fill="#fdfbd0"/>
<rect x="437.70" y="474.72" width="7.90" height="7.86" fill="#fddcc8"/>
<rect x="445.25" y="474.72" width="7.90" height="7.86" fill="#b7e1be"/>
<rect x="452.80" y="474.72" width="7.90" height="7.86" fill="#dcd4ee"/>
<rect x="460.35" y="474.72" width="7.90" height="7.86" fill="#dcd4ee"/>
<rect x="467.90" y="474.72" width="7.90" height="7.86" fill="#b7e1be"/>
<rect x="475.45" y="474.72" width="7.90" height="7.86" fill="#dcd4ee"/>
<rect x="483.00" y="474.72" width="7.90" height="7.86" fill="#fddcc8"/>
<rect x="490.55" y="474.72" width="7.90" height="7.86" fill="#fdfbd0"/>
<rect x="498.10" y="474.72" width="7.90" height="7.86" fill="#dcd4ee"/>
<rect x="505.65" y="474.72" width="7.90" height="7.86" fill="#dcd4ee"/>
<text x="365.97" y="480.80" font-size="6.40" text-anchor="middle" fill="#333" stroke="#333" stroke-width="0.18">A</text>
<text x="373.52" y="480.80" font-size="6.40" text-anchor="middle" fill="#333" stroke="#333" stroke-width="0.18">T</text>
<text x="381.07" y="480.80" font-size="6.40" text-anchor="middle" fill="#333" stroke="#333" stroke-width="0.18">G</text>
<text x="388.62" y="480.80" font-size="6.40" text-anchor="middle" fill="#333" stroke="#333" stroke-width="0.18">A</text>
<text x="396.17" y="480.80" font-size="6.40" text-anchor="middle" fill="#333" stroke="#333" stroke-width="0.18">G</text>
<text x="403.72" y="480.80" font-size="6.40" text-anchor="middle" fill="#333" stroke="#333" stroke-width="0.18">G</text>
<text x="411.27" y="480.80" font-size="6.40" text-anchor="middle" fill="#333" stroke="#333" stroke-width="0.18">A</text>
<text x="418.82" y="480.80" font-size="6.40" text-anchor="middle" fill="#333" stroke="#333" stroke-width="0.18">G</text>
<text x="426.37" y="480.80" font-size="6.40" text-anchor="middle" fill="#333" stroke="#333" stroke-width="0.18">T</text>
<text x="433.92" y="480.80" font-size="6.40" text-anchor="middle" fill="#333" stroke="#333" stroke-width="0.18">G</text>
<text x="441.47" y="480.80" font-size="6.40" text-anchor="middle" fill="#333" stroke="#333" stroke-width="0.18">C</text>
<text x="449.02" y="480.80" font-size="6.40" text-anchor="middle" fill="#333" stroke="#333" stroke-width="0.18">A</text>
<text x="456.57" y="480.80" font-size="6.40" text-anchor="middle" fill="#333" stroke="#333" stroke-width="0.18">T</text>
<text x="464.12" y="480.80" font-size="6.40" text-anchor="middle" fill="#333" stroke="#333" stroke-width="0.18">T</text>
<text x="471.67" y="480.80" font-size="6.40" text-anchor="middle" fill="#333" stroke="#333" stroke-width="0.18">A</text>
<text x="479.22" y="480.80" font-size="6.40" text-anchor="middle" fill="#333" stroke="#333" stroke-width="0.18">T</text>
<text x="486.77" y="480.80" font-size="6.40" text-anchor="middle" fill="#333" stroke="#333" stroke-width="0.18">C</text>
<text x="494.32" y="480.80" font-size="6.40" text-anchor="middle" fill="#333" stroke="#333" stroke-width="0.18">G</text>
<text x="501.88" y="480.80" font-size="6.40" text-anchor="middle" fill="#333" stroke="#333" stroke-width="0.18">T</text>
<text x="509.42" y="480.80" font-size="6.40" text-anchor="middle" fill="#333" stroke="#333" stroke-width="0.18">T</text>
<text x="170.00 177.42 184.84 192.26 199.68 207.10 214.52 221.94 229.36 236.78 244.20 251.62" y="481.62" font-size="7.0" font-family="Liberation Serif, serif" text-anchor="middle" fill="#333" stroke="#333" stroke-width="0.2">CCAACACACAGA</text>
<text x="275.10 282.52 289.94 297.36 304.78 312.20 319.62 327.04 334.46 341.88 349.30 356.72" y="481.62" font-size="7.0" font-family="Liberation Serif, serif" text-anchor="middle" fill="#333" stroke="#333" stroke-width="0.2">GATCTTTTATTG</text>
<line x1="255.60" y1="478.50" x2="270.80" y2="478.50" stroke="#555" stroke-width="0.4" stroke-opacity="0.8"/>
<text x="526.90" y="481.77" font-size="6.30" stroke="#222" stroke-width="0.18">38 reads</text>
<rect x="15.90" y="482.28" width="7.90" height="7.86" fill="#b7e1be"/>
<rect x="23.45" y="482.28" width="7.90" height="7.86" fill="#fdfbd0"/>
<rect x="31.00" y="482.28" width="7.90" height="7.86" fill="#b7e1be"/>
<rect x="38.55" y="482.28" width="7.90" height="7.86" fill="#b7e1be"/>
<rect x="46.10" y="482.28" width="7.90" height="7.86" fill="#fdfbd0"/>
<rect x="53.65" y="482.28" width="7.90" height="7.86" fill="#b7e1be"/>
<rect x="61.20" y="482.28" width="7.90" height="7.86" fill="#fdfbd0"/>
<rect x="68.75" y="482.28" width="7.90" height="7.86" fill="#fdfbd0"/>
<rect x="76.30" y="482.28" width="7.90" height="7.86" fill="#fdfbd0"/>
<rect x="83.85" y="482.28" width="7.90" height="7.86" fill="#dcd4ee"/>
<rect x="91.40" y="482.28" width="7.90" height="7.86" fill="#fdfbd0"/>
<rect x="98.95" y="482.28" width="7.90" height="7.86" fill="#fddcc8"/>
<rect x="106.50" y="482.28" width="7.90" height="7.86" fill="#fddcc8"/>
<rect x="114.05" y="482.28" width="7.90" height="7.86" fill="#b7e1be"/>
<rect x="121.60" y="482.28" width="7.90" height="7.86" fill="#fdfbd0"/>
<rect x="129.15" y="482.28" width="7.90" height="7.86" fill="#fddcc8"/>
<rect x="136.70" y="482.28" width="7.90" height="7.86" fill="#fdfbd0"/>
<rect x="144.25" y="482.28" width="7.90" height="7.86" fill="#fdfbd0"/>
<rect x="151.80" y="482.28" width="7.90" height="7.86" fill="#fdfbd0"/>
<rect x="159.35" y="482.28" width="7.90" height="7.86" fill="#efefef"/>
<text x="19.68" y="488.36" font-size="6.40" text-anchor="middle" fill="#333" stroke="#333" stroke-width="0.18">A</text>
<text x="27.22" y="488.36" font-size="6.40" text-anchor="middle" fill="#333" stroke="#333" stroke-width="0.18">G</text>
<text x="34.77" y="488.36" font-size="6.40" text-anchor="middle" fill="#333" stroke="#333" stroke-width="0.18">A</text>
<text x="42.32" y="488.36" font-size="6.40" text-anchor="middle" fill="#333" stroke="#333" stroke-width="0.18">A</text>
<text x="49.88" y="488.36" font-size="6.40" text-anchor="middle" fill="#333" stroke="#333" stroke-width="0.18">G</text>
<text x="57.42" y="488.36" font-size="6.40" text-anchor="middle" fill="#333" stroke="#333" stroke-width="0.18">A</text>
<text x="64.97" y="488.36" font-size="6.40" text-anchor="middle" fill="#333" stroke="#333" stroke-width="0.18">G</text>
<text x="72.53" y="488.36" font-size="6.40" text-anchor="middle" fill="#333" stroke="#333" stroke-width="0.18">G</text>
<text x="80.08" y="488.36" font-size="6.40" text-anchor="middle" fill="#333" stroke="#333" stroke-width="0.18">G</text>
<text x="87.63" y="488.36" font-size="6.40" text-anchor="middle" fill="#333" stroke="#333" stroke-width="0.18">T</text>
<text x="95.18" y="488.36" font-size="6.40" text-anchor="middle" fill="#333" stroke="#333" stroke-width="0.18">G</text>
<text x="102.73" y="488.36" font-size="6.40" text-anchor="middle" fill="#333" stroke="#333" stroke-width="0.18">C</text>
<text x="110.28" y="488.36" font-size="6.40" text-anchor="middle" fill="#333" stroke="#333" stroke-width="0.18">C</text>
<text x="117.83" y="488.36" font-size="6.40" text-anchor="middle" fill="#333" stroke="#333" stroke-width="0.18">A</text>
<text x="125.38" y="488.36" font-size="6.40" text-anchor="middle" fill="#333" stroke="#333" stroke-width="0.18">G</text>
<text x="132.93" y="488.36" font-size="6.40" text-anchor="middle" fill="#333" stroke="#333" stroke-width="0.18">C</text>
<text x="140.47" y="488.36" font-size="6.40" text-anchor="middle" fill="#333" stroke="#333" stroke-width="0.18">G</text>
<text x="148.03" y="488.36" font-size="6.40" text-anchor="middle" fill="#333" stroke="#333" stroke-width="0.18">G</text>
<text x="155.58" y="488.36" font-size="6.40" text-anchor="middle" fill="#333" stroke="#333" stroke-width="0.18">G</text>
<line x1="162.32" y1="486.36" x2="163.93" y2="486.36" stroke="#666" stroke-width="0.7"/>
<rect x="362.20" y="482.28" width="7.90" height="7.86" fill="#efefef"/>
<rect x="369.75" y="482.28" width="7.90" height="7.86" fill="#dcd4ee"/>
<rect x="377.30" y="482.28" width="7.90" height="7.86" fill="#fdfbd0"/>
<rect x="384.85" y="482.28" width="7.90" height="7.86" fill="#b7e1be"/>
<rect x="392.40" y="482.28" width="7.90" height="7.86" fill="#fdfbd0"/>
<rect x="399.95" y="482.28" width="7.90" height="7.86" fill="#fdfbd0"/>
<rect x="407.50" y="482.28" width="7.90" height="7.86" fill="#b7e1be"/>
<rect x="415.05" y="482.28" width="7.90" height="7.86" fill="#fdfbd0"/>
<rect x="422.60" y="482.28" width="7.90" height="7.86" fill="#dcd4ee"/>
<rect x="430.15" y="482.28" width="7.90" height="7.86" fill="#fdfbd0"/>
<rect x="437.70" y="482.28" width="7.90" height="7.86" fill="#fddcc8"/>
<rect x="445.25" y="482.28" width="7.90" height="7.86" fill="#b7e1be"/>
<rect x="452.80" y="482.28" width="7.90" height="7.86" fill="#dcd4ee"/>
<rect x="460.35" y="482.28" width="7.90" height="7.86" fill="#dcd4ee"/>
<rect x="467.90" y="482.28" width="7.90" height="7.86" fill="#b7e1be"/>
<rect x="475.45" y="482.28" width="7.90" height="7.86" fill="#dcd4ee"/>
<rect x="483.00" y="482.28" width="7.90" height="7.86" fill="#fddcc8"/>
<rect x="490.55" y="482.28" width="7.90" height="7.86" fill="#fdfbd0"/>
<rect x="498.10" y="482.28" width="7.90" height="7.86" fill="#dcd4ee"/>
<rect x="505.65" y="482.28" width="7.90" height="7.86" fill="#dcd4ee"/>
<line x1="365.17" y1="486.36" x2="366.77" y2="486.36" stroke="#666" stroke-width="0.7"/>
<text x="373.52" y="488.36" font-size="6.40" text-anchor="middle" fill="#333" stroke="#333" stroke-width="0.18">T</text>
<text x="381.07" y="488.36" font-size="6.40" text-anchor="middle" fill="#333" stroke="#333" stroke-width="0.18">G</text>
<text x="388.62" y="488.36" font-size="6.40" text-anchor="middle" fill="#333" stroke="#333" stroke-width="0.18">A</text>
<text x="396.17" y="488.36" font-size="6.40" text-anchor="middle" fill="#333" stroke="#333" stroke-width="0.18">G</text>
<text x="403.72" y="488.36" font-size="6.40" text-anchor="middle" fill="#333" stroke="#333" stroke-width="0.18">G</text>
<text x="411.27" y="488.36" font-size="6.40" text-anchor="middle" fill="#333" stroke="#333" stroke-width="0.18">A</text>
<text x="418.82" y="488.36" font-size="6.40" text-anchor="middle" fill="#333" stroke="#333" stroke-width="0.18">G</text>
<text x="426.37" y="488.36" font-size="6.40" text-anchor="middle" fill="#333" stroke="#333" stroke-width="0.18">T</text>
<text x="433.92" y="488.36" font-size="6.40" text-anchor="middle" fill="#333" stroke="#333" stroke-width="0.18">G</text>
<text x="441.47" y="488.36" font-size="6.40" text-anchor="middle" fill="#333" stroke="#333" stroke-width="0.18">C</text>
<text x="449.02" y="488.36" font-size="6.40" text-anchor="middle" fill="#333" stroke="#333" stroke-width="0.18">A</text>
<text x="456.57" y="488.36" font-size="6.40" text-anchor="middle" fill="#333" stroke="#333" stroke-width="0.18">T</text>
<text x="464.12" y="488.36" font-size="6.40" text-anchor="middle" fill="#333" stroke="#333" stroke-width="0.18">T</text>
<text x="471.67" y="488.36" font-size="6.40" text-anchor="middle" fill="#333" stroke="#333" stroke-width="0.18">A</text>
<text x="479.22" y="488.36" font-size="6.40" text-anchor="middle" fill="#333" stroke="#333" stroke-width="0.18">T</text>
<text x="486.77" y="488.36" font-size="6.40" text-anchor="middle" fill="#333" stroke="#333" stroke-width="0.18">C</text>
<text x="494.32" y="488.36" font-size="6.40" text-anchor="middle" fill="#333" stroke="#333" stroke-width="0.18">G</text>
<text x="501.88" y="488.36" font-size="6.40" text-anchor="middle" fill="#333" stroke="#333" stroke-width="0.18">T</text>
<text x="509.42" y="488.36" font-size="6.40" text-anchor="middle" fill="#333" stroke="#333" stroke-width="0.18">T</text>
<text x="170.00 177.42 184.84 192.26 199.68 207.10 214.52 221.94 229.36 236.78 244.20 251.62" y="489.18" font-size="7.0" font-family="Liberation Serif, serif" text-anchor="middle" fill="#e8393a" stroke="#e8393a" stroke-width="0.2">CGGCCTCAGTGA</text>
<text x="275.10 282.52 289.94 297.36 304.78 312.20 319.62 327.04 334.46 341.88 349.30 356.72" y="489.18" font-size="7.0" font-family="Liberation Serif, serif" text-anchor="middle" fill="#333" stroke="#333" stroke-width="0.2">AACTTGTAGAAC</text>
<line x1="255.60" y1="486.06" x2="270.80" y2="486.06" stroke="#e8393a" stroke-width="0.4" stroke-opacity="0.8"/>
<text x="526.90" y="489.33" font-size="6.30" stroke="#222" stroke-width="0.18">36 reads</text>
<rect x="15.90" y="489.84" width="7.90" height="7.86" fill="#b7e1be"/>
<rect x="23.45" y="489.84" width="7.90" height="7.86" fill="#fdfbd0"/>
<rect x="31.00" y="489.84" width="7.90" height="7.86" fill="#b7e1be"/>
<rect x="38.55" y="489.84" width="7.90" height="7.86" fill="#b7e1be"/>
<rect x="46.10" y="489.84" width="7.90" height="7.86" fill="#fdfbd0"/>
<rect x="53.65" y="489.84" width="7.90" height="7.86" fill="#b7e1be"/>
<rect x="61.20" y="489.84" width="7.90" height="7.86" fill="#fdfbd0"/>
<rect x="68.75" y="489.84" width="7.90" height="7.86" fill="#fdfbd0"/>
<rect x="76.30" y="489.84" width="7.90" height="7.86" fill="#fdfbd0"/>
<rect x="83.85" y="489.84" width="7.90" height="7.86" fill="#dcd4ee"/>
<rect x="91.40" y="489.84" width="7.90" height="7.86" fill="#fdfbd0"/>
<rect x="98.95" y="489.84" width="7.90" height="7.86" fill="#fddcc8"/>
<rect x="106.50" y="489.84" width="7.90" height="7.86" fill="#fddcc8"/>
<rect x="114.05" y="489.84" width="7.90" height="7.86" fill="#b7e1be"/>
<rect x="121.60" y="489.84" width="7.90" height="7.86" fill="#fdfbd0"/>
<rect x="129.15" y="489.84" width="7.90" height="7.86" fill="#fddcc8"/>
<rect x="136.70" y="489.84" width="7.90" height="7.86" fill="#fdfbd0"/>
<rect x="144.25" y="489.84" width="7.90" height="7.86" fill="#fdfbd0"/>
<rect x="151.80" y="489.84" width="7.90" height="7.86" fill="#fdfbd0"/>
<rect x="159.35" y="489.84" width="7.90" height="7.86" fill="#dcd4ee"/>
<text x="19.68" y="495.92" font-size="6.40" text-anchor="middle" fill="#333" stroke="#333" stroke-width="0.18">A</text>
<text x="27.22" y="495.92" font-size="6.40" text-anchor="middle" fill="#333" stroke="#333" stroke-width="0.18">G</text>
<text x="34.77" y="495.92" font-size="6.40" text-anchor="middle" fill="#333" stroke="#333" stroke-width="0.18">A</text>
<text x="42.32" y="495.92" font-size="6.40" text-anchor="middle" fill="#333" stroke="#333" stroke-width="0.18">A</text>
<text x="49.88" y="495.92" font-size="6.40" text-anchor="middle" fill="#333" stroke="#333" stroke-width="0.18">G</text>
<text x="57.42" y="495.92" font-size="6.40" text-anchor="middle" fill="#333" stroke="#333" stroke-width="0.18">A</text>
<text x="64.97" y="495.92" font-size="6.40" text-anchor="middle" fill="#333" stroke="#333" stroke-width="0.18">G</text>
<text x="72.53" y="495.92" font-size="6.40" text-anchor="middle" fill="#333" stroke="#333" stroke-width="0.18">G</text>
<text x="80.08" y="495.92" font-size="6.40" text-anchor="middle" fill="#333" stroke="#333" stroke-width="0.18">G</text>
<text x="87.63" y="495.92" font-size="6.40" text-anchor="middle" fill="#333" stroke="#333" stroke-width="0.18">T</text>
<text x="95.18" y="495.92" font-size="6.40" text-anchor="middle" fill="#333" stroke="#333" stroke-width="0.18">G</text>
<text x="102.73" y="495.92" font-size="6.40" text-anchor="middle" fill="#333" stroke="#333" stroke-width="0.18">C</text>
<text x="110.28" y="495.92" font-size="6.40" text-anchor="middle" fill="#333" stroke="#333" stroke-width="0.18">C</text>
<text x="117.83" y="495.92" font-size="6.40" text-anchor="middle" fill="#333" stroke="#333" stroke-width="0.18">A</text>
<text x="125.38" y="495.92" font-size="6.40" text-anchor="middle" fill="#333" stroke="#333" stroke-width="0.18">G</text>
<text x="132.93" y="495.92" font-size="6.40" text-anchor="middle" fill="#333" stroke="#333" stroke-width="0.18">C</text>
<text x="140.47" y="495.92" font-size="6.40" text-anchor="middle" fill="#333" stroke="#333" stroke-width="0.18">G</text>
<text x="148.03" y="495.92" font-size="6.40" text-anchor="middle" fill="#333" stroke="#333" stroke-width="0.18">G</text>
<text x="155.58" y="495.92" font-size="6.40" text-anchor="middle" fill="#333" stroke="#333" stroke-width="0.18">G</text>
<text x="163.12" y="495.92" font-size="6.40" text-anchor="middle" fill="#333" stroke="#333" stroke-width="0.18">T</text>
<rect x="362.20" y="489.84" width="7.90" height="7.86" fill="#b7e1be"/>
<rect x="369.75" y="489.84" width="7.90" height="7.86" fill="#dcd4ee"/>
<rect x="377.30" y="489.84" width="7.90" height="7.86" fill="#fdfbd0"/>
<rect x="384.85" y="489.84" width="7.90" height="7.86" fill="#b7e1be"/>
<rect x="392.40" y="489.84" width="7.90" height="7.86" fill="#fdfbd0"/>
<rect x="399.95" y="489.84" width="7.90" height="7.86" fill="#fdfbd0"/>
<rect x="407.50" y="489.84" width="7.90" height="7.86" fill="#b7e1be"/>
<rect x="415.05" y="489.84" width="7.90" height="7.86" fill="#fdfbd0"/>
<rect x="422.60" y="489.84" width="7.90" height="7.86" fill="#dcd4ee"/>
<rect x="430.15" y="489.84" width="7.90" height="7.86" fill="#fdfbd0"/>
<rect x="437.70" y="489.84" width="7.90" height="7.86" fill="#fddcc8"/>
<rect x="445.25" y="489.84" width="7.90" height="7.86" fill="#b7e1be"/>
<rect x="452.80" y="489.84" width="7.90" height="7.86" fill="#dcd4ee"/>
<rect x="460.35" y="489.84" width="7.90" height="7.86" fill="#dcd4ee"/>
<rect x="467.90" y="489.84" width="7.90" height="7.86" fill="#b7e1be"/>
<rect x="475.45" y="489.84" width="7.90" height="7.86" fill="#dcd4ee"/>
<rect x="483.00" y="489.84" width="7.90" height="7.86" fill="#fddcc8"/>
<rect x="490.55" y="489.84" width="7.90" height="7.86" fill="#fdfbd0"/>
<rect x="498.10" y="489.84" width="7.90" height="7.86" fill="#dcd4ee"/>
<rect x="505.65" y="489.84" width="7.90" height="7.86" fill="#dcd4ee"/>
<text x="365.97" y="495.92" font-size="6.40" text-anchor="middle" fill="#333" stroke="#333" stroke-width="0.18">A</text>
<text x="373.52" y="495.92" font-size="6.40" text-anchor="middle" fill="#333" stroke="#333" stroke-width="0.18">T</text>
<text x="381.07" y="495.92" font-size="6.40" text-anchor="middle" fill="#333" stroke="#333" stroke-width="0.18">G</text>
<text x="388.62" y="495.92" font-size="6.40" text-anchor="middle" fill="#333" stroke="#333" stroke-width="0.18">A</text>
<text x="396.17" y="495.92" font-size="6.40" text-anchor="middle" fill="#333" stroke="#333" stroke-width="0.18">G</text>
<text x="403.72" y="495.92" font-size="6.40" text-anchor="middle" fill="#333" stroke="#333" stroke-width="0.18">G</text>
<text x="411.27" y="495.92" font-size="6.40" text-anchor="middle" fill="#333" stroke="#333" stroke-width="0.18">A</text>
<text x="418.82" y="495.92" font-size="6.40" text-anchor="middle" fill="#333" stroke="#333" stroke-width="0.18">G</text>
<text x="426.37" y="495.92" font-size="6.40" text-anchor="middle" fill="#333" stroke="#333" stroke-width="0.18">T</text>
<text x="433.92" y="495.92" font-size="6.40" text-anchor="middle" fill="#333" stroke="#333" stroke-width="0.18">G</text>
<text x="441.47" y="495.92" font-size="6.40" text-anchor="middle" fill="#333" stroke="#333" stroke-width="0.18">C</text>
<text x="449.02" y="495.92" font-size="6.40" text-anchor="middle" fill="#333" stroke="#333" stroke-width="0.18">A</text>
<text x="456.57" y="495.92" font-size="6.40" text-anchor="middle" fill="#333" stroke="#333" stroke-width="0.18">T</text>
<text x="464.12" y="495.92" font-size="6.40" text-anchor="middle" fill="#333" stroke="#333" stroke-width="0.18">T</text>
<text x="471.67" y="495.92" font-size="6.40" text-anchor="middle" fill="#333" stroke="#333" stroke-width="0.18">A</text>
<text x="479.22" y="495.92" font-size="6.40" text-anchor="middle" fill="#333" stroke="#333" stroke-width="0.18">T</text>
<text x="486.77" y="495.92" font-size="6.40" text-anchor="middle" fill="#333" stroke="#333" stroke-width="0.18">C</text>
<text x="494.32" y="495.92" font-size="6.40" text-anchor="middle" fill="#333" stroke="#333" stroke-width="0.18">G</text>
<text x="501.88" y="495.92" font-size="6.40" text-anchor="middle" fill="#333" stroke="#333" stroke-width="0.18">T</text>
<text x="509.42" y="495.92" font-size="6.40" text-anchor="middle" fill="#333" stroke="#333" stroke-width="0.18">T</text>
<text x="170.00 177.42 184.84 192.26 199.68 207.10 214.52 221.94 229.36 236.78 244.20 251.62" y="496.74" font-size="7.0" font-family="Liberation Serif, serif" text-anchor="middle" fill="#333" stroke="#333" stroke-width="0.2">TGTGCGGCCGCA</text>
<text x="275.10 282.52 289.94 297.36 304.78 312.20 319.62 327.04 334.46 341.88 349.30 356.72" y="496.74" font-size="7.0" font-family="Liberation Serif, serif" text-anchor="middle" fill="#e8393a" stroke="#e8393a" stroke-width="0.2">GCCGGGCGACCA</text>
<line x1="255.60" y1="493.62" x2="270.80" y2="493.62" stroke="#e8393a" stroke-width="0.4" stroke-opacity="0.8"/>
<text x="526.90" y="496.89" font-size="6.30" stroke="#222" stroke-width="0.18">30 reads</text>
<text x="13.00" y="519.00" font-size="11.50" fill="#000" font-weight="bold" stroke="#000" stroke-width="0.18">f</text>
<text x="113.50" y="521.17" font-size="6.31" stroke="#222" stroke-width="0.18">Coverage of AAV-genomic fusion reads</text>
<text x="71.00" y="529.58" font-size="6.32" stroke="#222" stroke-width="0.18">AAV-Mecp2-Cas9</text>
<text x="210.60" y="530.05" font-size="6.26" stroke="#222" stroke-width="0.18">AAV-U6-gRNA-syn-GFP</text>
<line x1="43.30" y1="537.00" x2="43.30" y2="668.00" stroke="#d8d8d8" stroke-width="0.5"/>
<line x1="47.40" y1="537.00" x2="47.40" y2="668.00" stroke="#d8d8d8" stroke-width="0.5"/>
<line x1="53.90" y1="537.00" x2="53.90" y2="668.00" stroke="#d8d8d8" stroke-width="0.5"/>
<line x1="156.80" y1="537.00" x2="156.80" y2="668.00" stroke="#d8d8d8" stroke-width="0.5"/>
<line x1="161.50" y1="537.00" x2="161.50" y2="668.00" stroke="#d8d8d8" stroke-width="0.5"/>
<line x1="36.70" y1="537.70" x2="36.70" y2="621.50" stroke="#333" stroke-width="0.8"/>
<line x1="35.10" y1="621.50" x2="36.70" y2="621.50" stroke="#333" stroke-width="0.8"/>
<text x="33.70" y="623.80" font-size="6.40" text-anchor="end" stroke="#222" stroke-width="0.18">0</text>
<line x1="35.10" y1="604.74" x2="36.70" y2="604.74" stroke="#333" stroke-width="0.8"/>
<text x="33.70" y="607.04" font-size="6.40" text-anchor="end" stroke="#222" stroke-width="0.18">50</text>
<line x1="35.10" y1="587.98" x2="36.70" y2="587.98" stroke="#333" stroke-width="0.8"/>
<text x="33.70" y="590.28" font-size="6.40" text-anchor="end" stroke="#222" stroke-width="0.18">100</text>
<line x1="35.10" y1="571.22" x2="36.70" y2="571.22" stroke="#333" stroke-width="0.8"/>
<text x="33.70" y="573.52" font-size="6.40" text-anchor="end" stroke="#222" stroke-width="0.18">150</text>
<line x1="35.10" y1="554.46" x2="36.70" y2="554.46" stroke="#333" stroke-width="0.8"/>
<text x="33.70" y="556.76" font-size="6.40" text-anchor="end" stroke="#222" stroke-width="0.18">200</text>
<line x1="35.10" y1="537.70" x2="36.70" y2="537.70" stroke="#333" stroke-width="0.8"/>
<text x="33.70" y="540.00" font-size="6.40" text-anchor="end" stroke="#222" stroke-width="0.18">250</text>
<line x1="43.10" y1="628.80" x2="163.40" y2="628.80" stroke="#333" stroke-width="0.8"/>
<line x1="43.10" y1="628.80" x2="43.10" y2="630.40" stroke="#333" stroke-width="0.8"/>
<text x="43.10" y="639.60" font-size="6.40" text-anchor="middle" stroke="#222" stroke-width="0.18">0</text>
<line x1="92.15" y1="628.80" x2="92.15" y2="630.40" stroke="#333" stroke-width="0.8"/>
<text x="92.15" y="639.60" font-size="6.40" text-anchor="middle" stroke="#222" stroke-width="0.18">2000</text>
<line x1="141.20" y1="628.80" x2="141.20" y2="630.40" stroke="#333" stroke-width="0.8"/>
<text x="141.20" y="639.60" font-size="6.40" text-anchor="middle" stroke="#222" stroke-width="0.18">4000</text>
<path d="M43.10,611.44 L43.50,614.80 L43.90,609.43 L44.50,616.81 L45.20,562.84 L45.80,559.49 L46.30,561.16 L46.80,619.49 L47.40,621.33 L50.00,621.00 L60.00,620.49 L80.00,620.56 L100.00,620.83 L120.00,621.00 L130.70,621.16 L130.90,606.42 L131.60,606.08 L132.20,606.42 L132.40,621.33 L139.60,621.33 L140.00,616.14 L140.60,618.15 L141.30,618.82 L148.00,619.15 L153.80,619.49 L154.30,618.48 L154.80,621.16 L155.90,621.16 L156.30,608.09 L157.00,610.77 L157.50,587.98 L158.20,552.78 L159.30,559.49 L160.00,601.39 L160.40,616.81 L161.20,616.14 L162.30,615.47 L163.40,614.13" stroke="#f43c22" stroke-width="1.0" fill="none" stroke-linejoin="round"/>
<text x="17.97" y="580.00" font-size="6.30" text-anchor="middle" transform="rotate(-90 17.97 580.00)" stroke="#222" stroke-width="0.18">Read count</text>
<text x="74.50" y="648.86" font-size="6.28" stroke="#222" stroke-width="0.18">Nucleotide position</text>
<line x1="208.60" y1="537.00" x2="208.60" y2="668.00" stroke="#d8d8d8" stroke-width="0.5"/>
<line x1="213.50" y1="537.00" x2="213.50" y2="668.00" stroke="#d8d8d8" stroke-width="0.5"/>
<line x1="267.50" y1="537.00" x2="267.50" y2="668.00" stroke="#d8d8d8" stroke-width="0.5"/>
<line x1="272.00" y1="537.00" x2="272.00" y2="668.00" stroke="#d8d8d8" stroke-width="0.5"/>
<line x1="202.40" y1="537.60" x2="202.40" y2="621.40" stroke="#333" stroke-width="0.8"/>
<line x1="200.80" y1="621.40" x2="202.40" y2="621.40" stroke="#333" stroke-width="0.8"/>
<text x="199.40" y="623.70" font-size="6.40" text-anchor="end" stroke="#222" stroke-width="0.18">0</text>
<line x1="200.80" y1="604.64" x2="202.40" y2="604.64" stroke="#333" stroke-width="0.8"/>
<text x="199.40" y="606.94" font-size="6.40" text-anchor="end" stroke="#222" stroke-width="0.18">50</text>
<line x1="200.80" y1="587.88" x2="202.40" y2="587.88" stroke="#333" stroke-width="0.8"/>
<text x="199.40" y="590.18" font-size="6.40" text-anchor="end" stroke="#222" stroke-width="0.18">100</text>
<line x1="200.80" y1="571.12" x2="202.40" y2="571.12" stroke="#333" stroke-width="0.8"/>
<text x="199.40" y="573.42" font-size="6.40" text-anchor="end" stroke="#222" stroke-width="0.18">150</text>
<line x1="200.80" y1="554.36" x2="202.40" y2="554.36" stroke="#333" stroke-width="0.8"/>
<text x="199.40" y="556.66" font-size="6.40" text-anchor="end" stroke="#222" stroke-width="0.18">200</text>
<line x1="200.80" y1="537.60" x2="202.40" y2="537.60" stroke="#333" stroke-width="0.8"/>
<text x="199.40" y="539.90" font-size="6.40" text-anchor="end" stroke="#222" stroke-width="0.18">250</text>
<line x1="209.80" y1="627.80" x2="272.40" y2="627.80" stroke="#333" stroke-width="0.8"/>
<line x1="209.80" y1="627.80" x2="209.80" y2="629.40" stroke="#333" stroke-width="0.8"/>
<text x="209.80" y="638.60" font-size="6.40" text-anchor="middle" stroke="#222" stroke-width="0.18">0</text>
<line x1="232.75" y1="627.80" x2="232.75" y2="629.40" stroke="#333" stroke-width="0.8"/>
<text x="232.75" y="638.60" font-size="6.40" text-anchor="middle" stroke="#222" stroke-width="0.18">1000</text>
<line x1="255.70" y1="627.80" x2="255.70" y2="629.40" stroke="#333" stroke-width="0.8"/>
<text x="255.70" y="638.60" font-size="6.40" text-anchor="middle" stroke="#222" stroke-width="0.18">2000</text>
<path d="M209.20,611.34 L209.60,610.34 L210.00,618.05 L210.60,601.29 L211.20,564.42 L211.60,574.47 L212.30,611.34 L213.10,621.23 L266.00,621.23 L266.80,618.72 L267.60,614.03 L268.40,611.34 L269.20,574.47 L270.00,552.68 L270.50,571.12 L271.00,614.70 L271.50,617.38 L271.90,609.33 L272.40,612.68" stroke="#f43c22" stroke-width="1.0" fill="none" stroke-linejoin="round"/>
<text x="184.47" y="580.00" font-size="6.30" text-anchor="middle" transform="rotate(-90 184.47 580.00)" stroke="#222" stroke-width="0.18">Read count</text>
<line x1="209.20" y1="627.80" x2="209.80" y2="627.80" stroke="#333" stroke-width="0.8"/>
<text x="212.90" y="649.08" font-size="6.32" stroke="#222" stroke-width="0.18">Nucleotide position</text>
<line x1="42.60" y1="665.60" x2="47.20" y2="665.60" stroke="#ee3030" stroke-width="1.1"/>
<line x1="47.20" y1="665.60" x2="53.60" y2="665.60" stroke="#f7be4a" stroke-width="1.1"/>
<line x1="53.60" y1="665.60" x2="156.50" y2="665.60" stroke="#3fb2ea" stroke-width="1.1"/>
<line x1="156.50" y1="665.60" x2="161.60" y2="665.60" stroke="#ee3030" stroke-width="1.1"/>
<line x1="161.60" y1="665.60" x2="163.40" y2="665.60" stroke="#bbb" stroke-width="1.1"/>
<text x="40.80" y="660.97" font-size="6.30" stroke="#222" stroke-width="0.18">pMecp2</text>
<text x="94.00" y="660.98" font-size="6.32" stroke="#222" stroke-width="0.18">SpCas9</text>
<text x="37.60" y="674.23" font-size="6.21" stroke="#222" stroke-width="0.18">ITR</text>
<text x="153.60" y="674.30" font-size="6.39" stroke="#222" stroke-width="0.18">ITR</text>
<line x1="208.50" y1="665.60" x2="212.90" y2="665.60" stroke="#ee3030" stroke-width="1.1"/>
<line x1="212.90" y1="665.60" x2="217.80" y2="665.60" stroke="#55bbee" stroke-width="1.1"/>
<line x1="217.80" y1="665.60" x2="221.50" y2="665.60" stroke="#e626e6" stroke-width="1.1"/>
<line x1="221.50" y1="665.60" x2="221.90" y2="665.60" stroke="#bbb" stroke-width="1.1"/>
<line x1="221.90" y1="665.60" x2="232.10" y2="665.60" stroke="#f6a64a" stroke-width="1.1"/>
<line x1="232.10" y1="665.60" x2="249.10" y2="665.60" stroke="#4cbf4c" stroke-width="1.1"/>
<line x1="249.10" y1="665.60" x2="267.80" y2="665.60" stroke="#bbb" stroke-width="1.1"/>
<line x1="267.80" y1="665.60" x2="271.80" y2="665.60" stroke="#ee3030" stroke-width="1.1"/>
<text x="210.90" y="660.72" font-size="6.18" stroke="#222" stroke-width="0.18">U6</text>
<text x="222.60" y="660.86" font-size="6.55" stroke="#222" stroke-width="0.18">syn</text>
<text x="234.00" y="660.81" font-size="6.42" stroke="#222" stroke-width="0.18">GFP</text>
<text x="203.80" y="674.20" font-size="6.39" stroke="#222" stroke-width="0.18">ITR</text>
<text x="263.40" y="674.02" font-size="5.90" stroke="#222" stroke-width="0.18">ITR</text>
<text x="353.00" y="519.00" font-size="11.50" fill="#000" font-weight="bold" stroke="#000" stroke-width="0.18">g</text>
<text x="398.50" y="521.16" font-size="6.27" fill="#222" stroke="#222" stroke-width="0.18"><tspan font-style="italic">Dnmt3b</tspan><tspan>, in vivo, hippocampus</tspan></text>
<line x1="440.80" y1="534.00" x2="440.80" y2="673.00" stroke="#dcdcdc" stroke-width="0.6"/>
<rect x="434.72" y="608.28" width="3.20" height="19.12" fill="#f05a3c"/>
<rect x="438.59" y="560.18" width="3.20" height="67.22" fill="#f05a3c"/>
<rect x="442.46" y="618.71" width="3.20" height="8.69" fill="#f05a3c"/>
<rect x="457.94" y="626.70" width="3.20" height="0.70" fill="#f05a3c"/>
<line x1="379.00" y1="534.50" x2="379.00" y2="627.40" stroke="#333" stroke-width="0.8"/>
<line x1="377.40" y1="627.40" x2="379.00" y2="627.40" stroke="#333" stroke-width="0.8"/>
<text x="376.00" y="629.70" font-size="6.40" text-anchor="end" stroke="#222" stroke-width="0.18">0</text>
<line x1="377.40" y1="604.17" x2="379.00" y2="604.17" stroke="#333" stroke-width="0.8"/>
<text x="376.00" y="606.48" font-size="6.40" text-anchor="end" stroke="#222" stroke-width="0.18">5</text>
<line x1="377.40" y1="580.95" x2="379.00" y2="580.95" stroke="#333" stroke-width="0.8"/>
<text x="376.00" y="583.25" font-size="6.40" text-anchor="end" stroke="#222" stroke-width="0.18">10</text>
<line x1="377.40" y1="557.73" x2="379.00" y2="557.73" stroke="#333" stroke-width="0.8"/>
<text x="376.00" y="560.03" font-size="6.40" text-anchor="end" stroke="#222" stroke-width="0.18">15</text>
<line x1="377.40" y1="534.50" x2="379.00" y2="534.50" stroke="#333" stroke-width="0.8"/>
<text x="376.00" y="536.80" font-size="6.40" text-anchor="end" stroke="#222" stroke-width="0.18">20</text>
<line x1="510.00" y1="534.60" x2="510.00" y2="627.40" stroke="#333" stroke-width="0.8"/>
<line x1="510.00" y1="627.40" x2="511.60" y2="627.40" stroke="#333" stroke-width="0.8"/>
<text x="514.00" y="629.70" font-size="6.40" stroke="#222" stroke-width="0.18">0</text>
<line x1="510.00" y1="604.22" x2="511.60" y2="604.22" stroke="#333" stroke-width="0.8"/>
<text x="514.00" y="606.52" font-size="6.40" stroke="#222" stroke-width="0.18">200</text>
<line x1="510.00" y1="581.04" x2="511.60" y2="581.04" stroke="#333" stroke-width="0.8"/>
<text x="514.00" y="583.34" font-size="6.40" stroke="#222" stroke-width="0.18">400</text>
<line x1="510.00" y1="557.86" x2="511.60" y2="557.86" stroke="#333" stroke-width="0.8"/>
<text x="514.00" y="560.16" font-size="6.40" stroke="#222" stroke-width="0.18">600</text>
<line x1="510.00" y1="534.68" x2="511.60" y2="534.68" stroke="#333" stroke-width="0.8"/>
<text x="514.00" y="536.98" font-size="6.40" stroke="#222" stroke-width="0.18">800</text>
<path d="M378.27,626.70 L382.14,626.47 L386.01,626.24 L389.88,626.10 L393.75,626.01 L397.62,626.01 L401.49,625.87 L405.36,625.77 L409.23,625.54 L413.10,625.31 L416.97,624.85 L420.84,624.15 L424.71,623.45 L428.58,622.06 L432.45,619.97 L436.32,590.70 L440.19,556.80 L444.06,586.06 L447.93,622.75 L451.80,623.68 L455.67,624.15 L459.54,624.61 L463.41,624.85 L467.28,625.08 L471.15,625.31 L475.02,625.45 L478.89,625.54 L482.76,625.77 L486.63,625.91 L490.50,626.01 L494.37,626.24 L498.24,626.38 L502.11,626.47 L505.98,626.56 L509.85,626.70" stroke="#222" stroke-width="0.6" fill="none"/>
<circle cx="378.27" cy="626.70" r="0.9" fill="#111"/>
<line x1="378.27" y1="625.50" x2="378.27" y2="627.90" stroke="#111" stroke-width="0.45"/>
<circle cx="382.14" cy="626.47" r="0.9" fill="#111"/>
<line x1="382.14" y1="625.27" x2="382.14" y2="627.67" stroke="#111" stroke-width="0.45"/>
<circle cx="386.01" cy="626.24" r="0.9" fill="#111"/>
<line x1="386.01" y1="625.04" x2="386.01" y2="627.44" stroke="#111" stroke-width="0.45"/>
<circle cx="389.88" cy="626.10" r="0.9" fill="#111"/>
<line x1="389.88" y1="624.90" x2="389.88" y2="627.30" stroke="#111" stroke-width="0.45"/>
<circle cx="393.75" cy="626.01" r="0.9" fill="#111"/>
<line x1="393.75" y1="624.81" x2="393.75" y2="627.21" stroke="#111" stroke-width="0.45"/>
<circle cx="397.62" cy="626.01" r="0.9" fill="#111"/>
<line x1="397.62" y1="624.81" x2="397.62" y2="627.21" stroke="#111" stroke-width="0.45"/>
<circle cx="401.49" cy="625.87" r="0.9" fill="#111"/>
<line x1="401.49" y1="624.67" x2="401.49" y2="627.07" stroke="#111" stroke-width="0.45"/>
<circle cx="405.36" cy="625.77" r="0.9" fill="#111"/>
<line x1="405.36" y1="624.57" x2="405.36" y2="626.97" stroke="#111" stroke-width="0.45"/>
<circle cx="409.23" cy="625.54" r="0.9" fill="#111"/>
<line x1="409.23" y1="624.34" x2="409.23" y2="626.74" stroke="#111" stroke-width="0.45"/>
<circle cx="413.10" cy="625.31" r="0.9" fill="#111"/>
<line x1="413.10" y1="624.11" x2="413.10" y2="626.51" stroke="#111" stroke-width="0.45"/>
<circle cx="416.97" cy="624.85" r="0.9" fill="#111"/>
<line x1="416.97" y1="623.65" x2="416.97" y2="626.05" stroke="#111" stroke-width="0.45"/>
<circle cx="420.84" cy="624.15" r="0.9" fill="#111"/>
<line x1="420.84" y1="622.95" x2="420.84" y2="625.35" stroke="#111" stroke-width="0.45"/>
<circle cx="424.71" cy="623.45" r="0.9" fill="#111"/>
<line x1="424.71" y1="622.25" x2="424.71" y2="624.65" stroke="#111" stroke-width="0.45"/>
<circle cx="428.58" cy="622.06" r="0.9" fill="#111"/>
<line x1="428.58" y1="620.86" x2="428.58" y2="623.26" stroke="#111" stroke-width="0.45"/>
<circle cx="432.45" cy="619.97" r="0.9" fill="#111"/>
<line x1="432.45" y1="618.77" x2="432.45" y2="621.17" stroke="#111" stroke-width="0.45"/>
<circle cx="436.32" cy="590.70" r="0.9" fill="#111"/>
<line x1="436.32" y1="589.50" x2="436.32" y2="591.90" stroke="#111" stroke-width="0.45"/>
<circle cx="440.19" cy="556.80" r="0.9" fill="#111"/>
<line x1="440.19" y1="555.60" x2="440.19" y2="558.00" stroke="#111" stroke-width="0.45"/>
<circle cx="444.06" cy="586.06" r="0.9" fill="#111"/>
<line x1="444.06" y1="584.86" x2="444.06" y2="587.26" stroke="#111" stroke-width="0.45"/>
<circle cx="447.93" cy="622.75" r="0.9" fill="#111"/>
<line x1="447.93" y1="621.55" x2="447.93" y2="623.96" stroke="#111" stroke-width="0.45"/>
<circle cx="451.80" cy="623.68" r="0.9" fill="#111"/>
<line x1="451.80" y1="622.48" x2="451.80" y2="624.88" stroke="#111" stroke-width="0.45"/>
<circle cx="455.67" cy="624.15" r="0.9" fill="#111"/>
<line x1="455.67" y1="622.95" x2="455.67" y2="625.35" stroke="#111" stroke-width="0.45"/>
<circle cx="459.54" cy="624.61" r="0.9" fill="#111"/>
<line x1="459.54" y1="623.41" x2="459.54" y2="625.81" stroke="#111" stroke-width="0.45"/>
<circle cx="463.41" cy="624.85" r="0.9" fill="#111"/>
<line x1="463.41" y1="623.65" x2="463.41" y2="626.05" stroke="#111" stroke-width="0.45"/>
<circle cx="467.28" cy="625.08" r="0.9" fill="#111"/>
<line x1="467.28" y1="623.88" x2="467.28" y2="626.28" stroke="#111" stroke-width="0.45"/>
<circle cx="471.15" cy="625.31" r="0.9" fill="#111"/>
<line x1="471.15" y1="624.11" x2="471.15" y2="626.51" stroke="#111" stroke-width="0.45"/>
<circle cx="475.02" cy="625.45" r="0.9" fill="#111"/>
<line x1="475.02" y1="624.25" x2="475.02" y2="626.65" stroke="#111" stroke-width="0.45"/>
<circle cx="478.89" cy="625.54" r="0.9" fill="#111"/>
<line x1="478.89" y1="624.34" x2="478.89" y2="626.74" stroke="#111" stroke-width="0.45"/>
<circle cx="482.76" cy="625.77" r="0.9" fill="#111"/>
<line x1="482.76" y1="624.57" x2="482.76" y2="626.97" stroke="#111" stroke-width="0.45"/>
<circle cx="486.63" cy="625.91" r="0.9" fill="#111"/>
<line x1="486.63" y1="624.71" x2="486.63" y2="627.11" stroke="#111" stroke-width="0.45"/>
<circle cx="490.50" cy="626.01" r="0.9" fill="#111"/>
<line x1="490.50" y1="624.81" x2="490.50" y2="627.21" stroke="#111" stroke-width="0.45"/>
<circle cx="494.37" cy="626.24" r="0.9" fill="#111"/>
<line x1="494.37" y1="625.04" x2="494.37" y2="627.44" stroke="#111" stroke-width="0.45"/>
<circle cx="498.24" cy="626.38" r="0.9" fill="#111"/>
<line x1="498.24" y1="625.18" x2="498.24" y2="627.58" stroke="#111" stroke-width="0.45"/>
<circle cx="502.11" cy="626.47" r="0.9" fill="#111"/>
<line x1="502.11" y1="625.27" x2="502.11" y2="627.67" stroke="#111" stroke-width="0.45"/>
<circle cx="505.98" cy="626.56" r="0.9" fill="#111"/>
<line x1="505.98" y1="625.36" x2="505.98" y2="627.76" stroke="#111" stroke-width="0.45"/>
<circle cx="509.85" cy="626.70" r="0.9" fill="#111"/>
<line x1="509.85" y1="625.50" x2="509.85" y2="627.90" stroke="#111" stroke-width="0.45"/>
<line x1="379.00" y1="627.40" x2="510.00" y2="627.40" stroke="#333" stroke-width="0.8"/>
<line x1="413.10" y1="627.40" x2="413.10" y2="629.00" stroke="#333" stroke-width="0.8"/>
<text x="413.10" y="637.30" font-size="6.40" text-anchor="middle" stroke="#222" stroke-width="0.18">90</text>
<line x1="451.80" y1="627.40" x2="451.80" y2="629.00" stroke="#333" stroke-width="0.8"/>
<text x="451.80" y="637.30" font-size="6.40" text-anchor="middle" stroke="#222" stroke-width="0.18">100</text>
<line x1="490.50" y1="627.40" x2="490.50" y2="629.00" stroke="#333" stroke-width="0.8"/>
<text x="490.50" y="637.30" font-size="6.40" text-anchor="middle" stroke="#222" stroke-width="0.18">110</text>
<text x="417.60" y="648.76" font-size="6.27" stroke="#222" stroke-width="0.18">Nucleotide position</text>
<text x="358.27" y="581.00" font-size="6.20" text-anchor="middle" transform="rotate(-90 358.27 581.00)" stroke="#222" stroke-width="0.18">Sequences with indels (%)</text>
<text x="535.53" y="581.20" font-size="6.20" text-anchor="middle" fill="#ee3b3b" transform="rotate(-90 535.53 581.20)" stroke="#ee3b3b" stroke-width="0.18">Number of breaks</text>
<text x="356.50" y="661.09" font-size="6.37" fill="#222" stroke="#222" stroke-width="0.18"><tspan font-style="italic">Dnmt3b</tspan></text>
<line x1="377.90" y1="666.80" x2="516.20" y2="666.80" stroke="#333" stroke-width="0.8"/>
<line x1="441.20" y1="668.60" x2="441.20" y2="673.00" stroke="#222" stroke-width="0.6"/>
<path d="M439.9,669.6 L441.2,667.2 L442.5,669.6 Z" stroke="#222" stroke-width="0.3" fill="#222"/>
<text x="418.20" y="684.64" font-size="6.23" stroke="#222" stroke-width="0.18">CRISPR cut site</text>
</svg>
</body></html>
